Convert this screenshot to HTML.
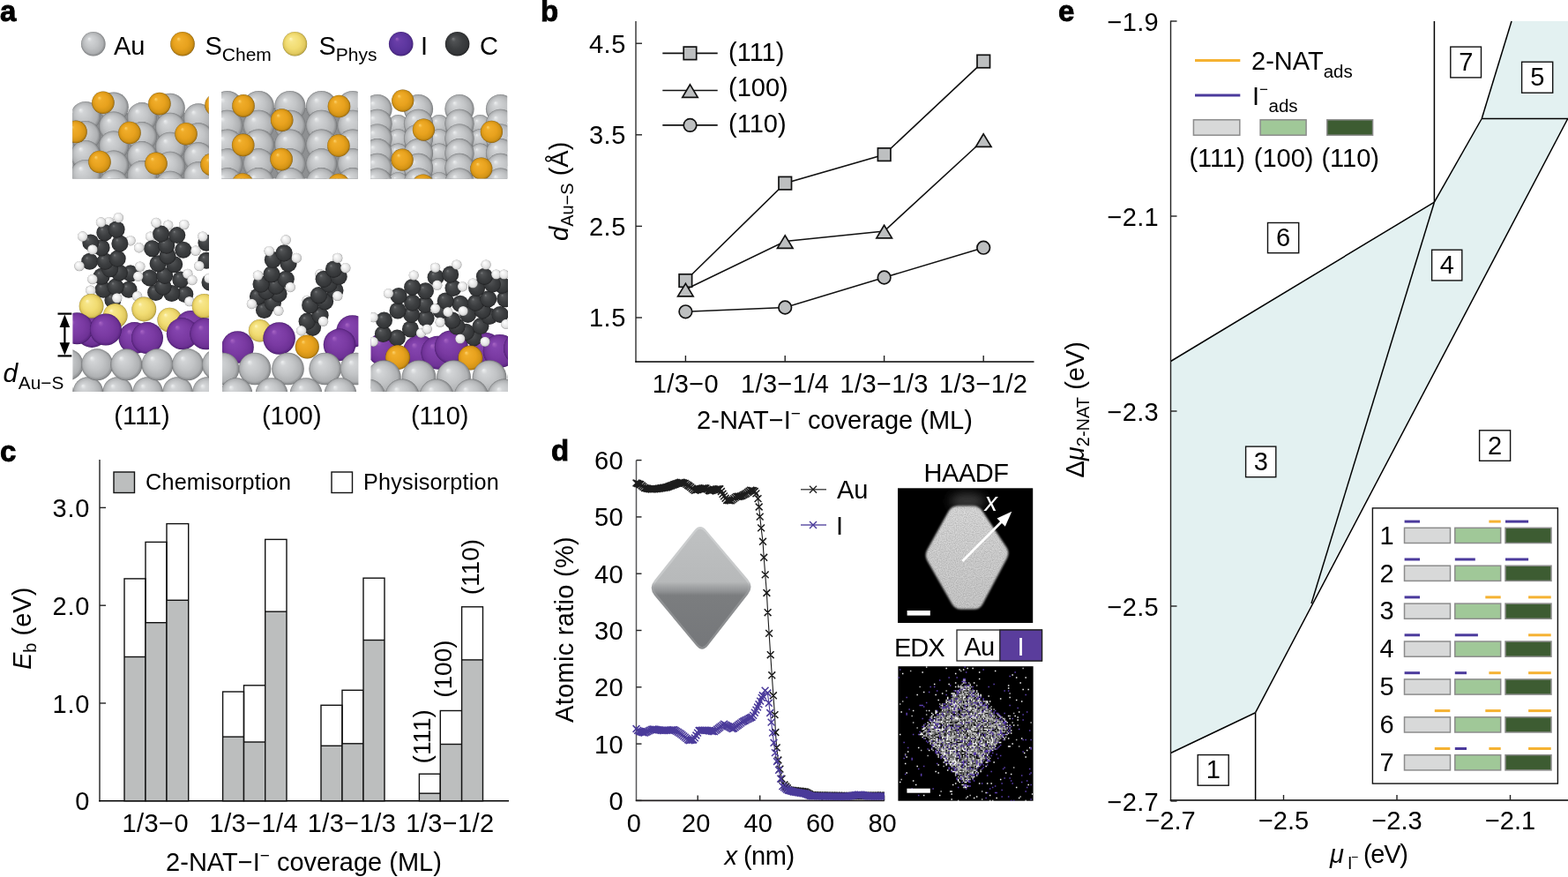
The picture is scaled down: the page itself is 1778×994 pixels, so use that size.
<!DOCTYPE html>
<html><head><meta charset="utf-8"><title>Figure</title>
<style>html,body{margin:0;padding:0;background:#fff;width:1778px;height:994px;overflow:hidden}
svg{display:block} text{font-family:"Liberation Sans", Arial, Helvetica, sans-serif}</style></head>
<body><svg width="1778" height="994" viewBox="0 0 1778 994">
<rect width="1778" height="994" fill="#fff"/>
<defs>
<radialGradient id="gau" cx="0.5" cy="0.5" r="0.5" fx="0.32" fy="0.28"><stop offset="0" stop-color="#eef0f1"/><stop offset="0.18" stop-color="#d2d4d6"/><stop offset="0.55" stop-color="#c2c4c6"/><stop offset="0.85" stop-color="#aeb0b2"/><stop offset="0.96" stop-color="#8c8e90"/><stop offset="1" stop-color="#6f7173"/></radialGradient>
<radialGradient id="gsc" cx="0.5" cy="0.5" r="0.5" fx="0.32" fy="0.28"><stop offset="0" stop-color="#fdd36e"/><stop offset="0.18" stop-color="#f0ad2a"/><stop offset="0.6" stop-color="#e8a21e"/><stop offset="0.86" stop-color="#d49416"/><stop offset="0.96" stop-color="#b07a10"/><stop offset="1" stop-color="#7a540a"/></radialGradient>
<radialGradient id="gsp" cx="0.5" cy="0.5" r="0.5" fx="0.32" fy="0.28"><stop offset="0" stop-color="#fff8c8"/><stop offset="0.18" stop-color="#f7e68a"/><stop offset="0.6" stop-color="#f1dc72"/><stop offset="0.86" stop-color="#e2ca60"/><stop offset="0.96" stop-color="#c4ae48"/><stop offset="1" stop-color="#8e7c2e"/></radialGradient>
<radialGradient id="gi" cx="0.5" cy="0.5" r="0.5" fx="0.32" fy="0.28"><stop offset="0" stop-color="#a865c4"/><stop offset="0.18" stop-color="#8444ae"/><stop offset="0.6" stop-color="#7a3aa2"/><stop offset="0.86" stop-color="#6e3296"/><stop offset="0.96" stop-color="#5c2682"/><stop offset="1" stop-color="#3e1860"/></radialGradient>
<radialGradient id="gil" cx="0.5" cy="0.5" r="0.5" fx="0.32" fy="0.28"><stop offset="0" stop-color="#9a62c0"/><stop offset="0.18" stop-color="#6a3ea8"/><stop offset="0.6" stop-color="#5e37a0"/><stop offset="0.86" stop-color="#573196"/><stop offset="0.96" stop-color="#4a2884"/><stop offset="1" stop-color="#321a60"/></radialGradient>
<radialGradient id="gc" cx="0.5" cy="0.5" r="0.5" fx="0.32" fy="0.28"><stop offset="0" stop-color="#7a7c7e"/><stop offset="0.18" stop-color="#505254"/><stop offset="0.6" stop-color="#3c3e40"/><stop offset="0.86" stop-color="#353739"/><stop offset="0.96" stop-color="#2a2b2d"/><stop offset="1" stop-color="#151617"/></radialGradient>
<radialGradient id="gh" cx="0.5" cy="0.5" r="0.5" fx="0.32" fy="0.28"><stop offset="0" stop-color="#ffffff"/><stop offset="0.3" stop-color="#f6f6f6"/><stop offset="0.7" stop-color="#e6e6e6"/><stop offset="0.9" stop-color="#cfcfcf"/><stop offset="1" stop-color="#8e8e8e"/></radialGradient>
</defs>
<circle cx="105.8" cy="49.7" r="13.8" fill="url(#gau)"/>
<circle cx="207.0" cy="49.7" r="13.8" fill="url(#gsc)"/>
<circle cx="334.4" cy="49.7" r="13.8" fill="url(#gsp)"/>
<circle cx="454.7" cy="49.7" r="13.8" fill="url(#gil)"/>
<circle cx="518.6" cy="49.7" r="13.8" fill="url(#gc)"/>
<text x="129" y="62" font-size="29" letter-spacing="0">Au</text>
<text x="232.5" y="62" font-size="29">S<tspan font-size="21" dy="7">Chem</tspan></text>
<text x="361.5" y="62" font-size="29">S<tspan font-size="21" dy="7">Phys</tspan></text>
<text x="477" y="62" font-size="29">I</text>
<text x="544" y="62" font-size="29">C</text>
<defs>
<clipPath id="cp1"><rect x="82.2" y="95" width="154.6" height="107.6"/></clipPath>
<clipPath id="cp2"><rect x="251" y="95" width="154.8" height="107.6"/></clipPath>
<clipPath id="cp3"><rect x="420" y="95" width="155.2" height="107.6"/></clipPath>
</defs>
<g clip-path="url(#cp1)">
<rect x="82" y="128" width="155" height="75" fill="#8e9092"/>
<circle cx="129.0" cy="121.3" r="16.8" fill="url(#gau)"/>
<circle cx="193.0" cy="122.5" r="16.8" fill="url(#gau)"/>
<circle cx="97.0" cy="131.7" r="16.8" fill="url(#gau)"/>
<circle cx="161.0" cy="132.9" r="16.8" fill="url(#gau)"/>
<circle cx="225.0" cy="134.1" r="16.8" fill="url(#gau)"/>
<circle cx="129.0" cy="143.3" r="16.8" fill="url(#gau)"/>
<circle cx="193.0" cy="144.5" r="16.8" fill="url(#gau)"/>
<circle cx="97.0" cy="153.7" r="16.8" fill="url(#gau)"/>
<circle cx="161.0" cy="154.9" r="16.8" fill="url(#gau)"/>
<circle cx="225.0" cy="156.1" r="16.8" fill="url(#gau)"/>
<circle cx="129.0" cy="165.3" r="16.8" fill="url(#gau)"/>
<circle cx="193.0" cy="166.5" r="16.8" fill="url(#gau)"/>
<circle cx="97.0" cy="175.7" r="16.8" fill="url(#gau)"/>
<circle cx="161.0" cy="176.9" r="16.8" fill="url(#gau)"/>
<circle cx="225.0" cy="178.1" r="16.8" fill="url(#gau)"/>
<circle cx="129.0" cy="187.3" r="16.8" fill="url(#gau)"/>
<circle cx="193.0" cy="188.5" r="16.8" fill="url(#gau)"/>
<circle cx="97.0" cy="197.7" r="16.8" fill="url(#gau)"/>
<circle cx="161.0" cy="198.9" r="16.8" fill="url(#gau)"/>
<circle cx="225.0" cy="200.1" r="16.8" fill="url(#gau)"/>
<circle cx="129.0" cy="209.3" r="16.8" fill="url(#gau)"/>
<circle cx="193.0" cy="210.5" r="16.8" fill="url(#gau)"/>
<circle cx="97.0" cy="219.7" r="16.8" fill="url(#gau)"/>
<circle cx="161.0" cy="220.9" r="16.8" fill="url(#gau)"/>
<circle cx="225.0" cy="222.1" r="16.8" fill="url(#gau)"/>
<circle cx="116.9" cy="116.2" r="12.8" fill="url(#gsc)"/>
<circle cx="180.9" cy="117.6" r="12.8" fill="url(#gsc)"/>
<circle cx="245.0" cy="119.0" r="12.8" fill="url(#gsc)"/>
<circle cx="86.0" cy="149.4" r="12.8" fill="url(#gsc)"/>
<circle cx="147.0" cy="150.5" r="12.8" fill="url(#gsc)"/>
<circle cx="211.0" cy="151.7" r="12.8" fill="url(#gsc)"/>
<circle cx="113.0" cy="183.5" r="12.8" fill="url(#gsc)"/>
<circle cx="177.0" cy="185.3" r="12.8" fill="url(#gsc)"/>
<circle cx="240.0" cy="186.5" r="12.8" fill="url(#gsc)"/>
<circle cx="82.0" cy="218.0" r="12.8" fill="url(#gsc)"/>
<circle cx="146.0" cy="219.0" r="12.8" fill="url(#gsc)"/>
</g>
<g clip-path="url(#cp2)">
<rect x="251" y="122" width="155" height="81" fill="#8e9092"/>
<circle cx="222.1" cy="120.5" r="17.6" fill="url(#gau)"/>
<circle cx="257.7" cy="120.5" r="17.6" fill="url(#gau)"/>
<circle cx="293.3" cy="120.5" r="17.6" fill="url(#gau)"/>
<circle cx="328.9" cy="120.5" r="17.6" fill="url(#gau)"/>
<circle cx="364.5" cy="120.5" r="17.6" fill="url(#gau)"/>
<circle cx="400.1" cy="120.5" r="17.6" fill="url(#gau)"/>
<circle cx="435.7" cy="120.5" r="17.6" fill="url(#gau)"/>
<circle cx="222.1" cy="142.3" r="17.6" fill="url(#gau)"/>
<circle cx="257.7" cy="142.3" r="17.6" fill="url(#gau)"/>
<circle cx="293.3" cy="142.3" r="17.6" fill="url(#gau)"/>
<circle cx="328.9" cy="142.3" r="17.6" fill="url(#gau)"/>
<circle cx="364.5" cy="142.3" r="17.6" fill="url(#gau)"/>
<circle cx="400.1" cy="142.3" r="17.6" fill="url(#gau)"/>
<circle cx="435.7" cy="142.3" r="17.6" fill="url(#gau)"/>
<circle cx="222.1" cy="164.1" r="17.6" fill="url(#gau)"/>
<circle cx="257.7" cy="164.1" r="17.6" fill="url(#gau)"/>
<circle cx="293.3" cy="164.1" r="17.6" fill="url(#gau)"/>
<circle cx="328.9" cy="164.1" r="17.6" fill="url(#gau)"/>
<circle cx="364.5" cy="164.1" r="17.6" fill="url(#gau)"/>
<circle cx="400.1" cy="164.1" r="17.6" fill="url(#gau)"/>
<circle cx="435.7" cy="164.1" r="17.6" fill="url(#gau)"/>
<circle cx="222.1" cy="185.9" r="17.6" fill="url(#gau)"/>
<circle cx="257.7" cy="185.9" r="17.6" fill="url(#gau)"/>
<circle cx="293.3" cy="185.9" r="17.6" fill="url(#gau)"/>
<circle cx="328.9" cy="185.9" r="17.6" fill="url(#gau)"/>
<circle cx="364.5" cy="185.9" r="17.6" fill="url(#gau)"/>
<circle cx="400.1" cy="185.9" r="17.6" fill="url(#gau)"/>
<circle cx="435.7" cy="185.9" r="17.6" fill="url(#gau)"/>
<circle cx="222.1" cy="207.7" r="17.6" fill="url(#gau)"/>
<circle cx="257.7" cy="207.7" r="17.6" fill="url(#gau)"/>
<circle cx="293.3" cy="207.7" r="17.6" fill="url(#gau)"/>
<circle cx="328.9" cy="207.7" r="17.6" fill="url(#gau)"/>
<circle cx="364.5" cy="207.7" r="17.6" fill="url(#gau)"/>
<circle cx="400.1" cy="207.7" r="17.6" fill="url(#gau)"/>
<circle cx="435.7" cy="207.7" r="17.6" fill="url(#gau)"/>
<circle cx="222.1" cy="229.5" r="17.6" fill="url(#gau)"/>
<circle cx="257.7" cy="229.5" r="17.6" fill="url(#gau)"/>
<circle cx="293.3" cy="229.5" r="17.6" fill="url(#gau)"/>
<circle cx="328.9" cy="229.5" r="17.6" fill="url(#gau)"/>
<circle cx="364.5" cy="229.5" r="17.6" fill="url(#gau)"/>
<circle cx="400.1" cy="229.5" r="17.6" fill="url(#gau)"/>
<circle cx="435.7" cy="229.5" r="17.6" fill="url(#gau)"/>
<circle cx="276.0" cy="119.9" r="12.8" fill="url(#gsc)"/>
<circle cx="319.7" cy="136.1" r="12.8" fill="url(#gsc)"/>
<circle cx="384.5" cy="120.5" r="12.8" fill="url(#gsc)"/>
<circle cx="275.7" cy="164.4" r="12.8" fill="url(#gsc)"/>
<circle cx="319.1" cy="180.6" r="12.8" fill="url(#gsc)"/>
<circle cx="383.9" cy="165.0" r="12.8" fill="url(#gsc)"/>
<circle cx="275.1" cy="209.0" r="12.8" fill="url(#gsc)"/>
<circle cx="383.9" cy="209.5" r="12.8" fill="url(#gsc)"/>
<circle cx="319.0" cy="225.0" r="12.8" fill="url(#gsc)"/>
</g>
<g clip-path="url(#cp3)">
<rect x="420" y="140" width="156" height="63" fill="#8e9092"/>
<circle cx="405.0" cy="141.5" r="11.5" fill="url(#gau)"/>
<circle cx="451.5" cy="141.5" r="11.5" fill="url(#gau)"/>
<circle cx="498.0" cy="141.5" r="11.5" fill="url(#gau)"/>
<circle cx="544.5" cy="141.5" r="11.5" fill="url(#gau)"/>
<circle cx="591.0" cy="141.5" r="11.5" fill="url(#gau)"/>
<circle cx="405.0" cy="157.8" r="11.5" fill="url(#gau)"/>
<circle cx="451.5" cy="157.8" r="11.5" fill="url(#gau)"/>
<circle cx="498.0" cy="157.8" r="11.5" fill="url(#gau)"/>
<circle cx="544.5" cy="157.8" r="11.5" fill="url(#gau)"/>
<circle cx="591.0" cy="157.8" r="11.5" fill="url(#gau)"/>
<circle cx="405.0" cy="174.1" r="11.5" fill="url(#gau)"/>
<circle cx="451.5" cy="174.1" r="11.5" fill="url(#gau)"/>
<circle cx="498.0" cy="174.1" r="11.5" fill="url(#gau)"/>
<circle cx="544.5" cy="174.1" r="11.5" fill="url(#gau)"/>
<circle cx="591.0" cy="174.1" r="11.5" fill="url(#gau)"/>
<circle cx="405.0" cy="190.4" r="11.5" fill="url(#gau)"/>
<circle cx="451.5" cy="190.4" r="11.5" fill="url(#gau)"/>
<circle cx="498.0" cy="190.4" r="11.5" fill="url(#gau)"/>
<circle cx="544.5" cy="190.4" r="11.5" fill="url(#gau)"/>
<circle cx="591.0" cy="190.4" r="11.5" fill="url(#gau)"/>
<circle cx="405.0" cy="206.7" r="11.5" fill="url(#gau)"/>
<circle cx="451.5" cy="206.7" r="11.5" fill="url(#gau)"/>
<circle cx="498.0" cy="206.7" r="11.5" fill="url(#gau)"/>
<circle cx="544.5" cy="206.7" r="11.5" fill="url(#gau)"/>
<circle cx="591.0" cy="206.7" r="11.5" fill="url(#gau)"/>
<circle cx="405.0" cy="223.0" r="11.5" fill="url(#gau)"/>
<circle cx="451.5" cy="223.0" r="11.5" fill="url(#gau)"/>
<circle cx="498.0" cy="223.0" r="11.5" fill="url(#gau)"/>
<circle cx="544.5" cy="223.0" r="11.5" fill="url(#gau)"/>
<circle cx="591.0" cy="223.0" r="11.5" fill="url(#gau)"/>
<circle cx="405.0" cy="239.3" r="11.5" fill="url(#gau)"/>
<circle cx="451.5" cy="239.3" r="11.5" fill="url(#gau)"/>
<circle cx="498.0" cy="239.3" r="11.5" fill="url(#gau)"/>
<circle cx="544.5" cy="239.3" r="11.5" fill="url(#gau)"/>
<circle cx="591.0" cy="239.3" r="11.5" fill="url(#gau)"/>
<circle cx="381.5" cy="123.6" r="16.6" fill="url(#gau)"/>
<circle cx="428.0" cy="123.6" r="16.6" fill="url(#gau)"/>
<circle cx="474.5" cy="123.6" r="16.6" fill="url(#gau)"/>
<circle cx="521.0" cy="123.6" r="16.6" fill="url(#gau)"/>
<circle cx="567.5" cy="123.6" r="16.6" fill="url(#gau)"/>
<circle cx="381.5" cy="140.3" r="16.6" fill="url(#gau)"/>
<circle cx="428.0" cy="140.3" r="16.6" fill="url(#gau)"/>
<circle cx="474.5" cy="140.3" r="16.6" fill="url(#gau)"/>
<circle cx="521.0" cy="140.3" r="16.6" fill="url(#gau)"/>
<circle cx="567.5" cy="140.3" r="16.6" fill="url(#gau)"/>
<circle cx="381.5" cy="157.0" r="16.6" fill="url(#gau)"/>
<circle cx="428.0" cy="157.0" r="16.6" fill="url(#gau)"/>
<circle cx="474.5" cy="157.0" r="16.6" fill="url(#gau)"/>
<circle cx="521.0" cy="157.0" r="16.6" fill="url(#gau)"/>
<circle cx="567.5" cy="157.0" r="16.6" fill="url(#gau)"/>
<circle cx="381.5" cy="173.7" r="16.6" fill="url(#gau)"/>
<circle cx="428.0" cy="173.7" r="16.6" fill="url(#gau)"/>
<circle cx="474.5" cy="173.7" r="16.6" fill="url(#gau)"/>
<circle cx="521.0" cy="173.7" r="16.6" fill="url(#gau)"/>
<circle cx="567.5" cy="173.7" r="16.6" fill="url(#gau)"/>
<circle cx="381.5" cy="190.4" r="16.6" fill="url(#gau)"/>
<circle cx="428.0" cy="190.4" r="16.6" fill="url(#gau)"/>
<circle cx="474.5" cy="190.4" r="16.6" fill="url(#gau)"/>
<circle cx="521.0" cy="190.4" r="16.6" fill="url(#gau)"/>
<circle cx="567.5" cy="190.4" r="16.6" fill="url(#gau)"/>
<circle cx="381.5" cy="207.1" r="16.6" fill="url(#gau)"/>
<circle cx="428.0" cy="207.1" r="16.6" fill="url(#gau)"/>
<circle cx="474.5" cy="207.1" r="16.6" fill="url(#gau)"/>
<circle cx="521.0" cy="207.1" r="16.6" fill="url(#gau)"/>
<circle cx="567.5" cy="207.1" r="16.6" fill="url(#gau)"/>
<circle cx="381.5" cy="223.8" r="16.6" fill="url(#gau)"/>
<circle cx="428.0" cy="223.8" r="16.6" fill="url(#gau)"/>
<circle cx="474.5" cy="223.8" r="16.6" fill="url(#gau)"/>
<circle cx="521.0" cy="223.8" r="16.6" fill="url(#gau)"/>
<circle cx="567.5" cy="223.8" r="16.6" fill="url(#gau)"/>
<circle cx="456.7" cy="114.1" r="12.6" fill="url(#gsc)"/>
<circle cx="480.4" cy="147.1" r="12.6" fill="url(#gsc)"/>
<circle cx="557.4" cy="149.4" r="12.6" fill="url(#gsc)"/>
<circle cx="456.1" cy="181.2" r="12.6" fill="url(#gsc)"/>
<circle cx="545.8" cy="191.1" r="12.6" fill="url(#gsc)"/>
<circle cx="479.8" cy="210.0" r="12.6" fill="url(#gsc)"/>
</g>
<defs>
<clipPath id="cl1"><rect x="82.4" y="230" width="154.6" height="214"/></clipPath>
<clipPath id="cl2"><rect x="252" y="230" width="154.4" height="214"/></clipPath>
<clipPath id="cl3"><rect x="420.5" y="230" width="155.5" height="214"/></clipPath>
</defs>
<g clip-path="url(#cl1)">
<circle cx="123.6" cy="251.5" r="5.6" fill="url(#gh)"/>
<circle cx="148.1" cy="272.8" r="5.6" fill="url(#gh)"/>
<circle cx="170.6" cy="268.1" r="5.6" fill="url(#gh)"/>
<circle cx="190.7" cy="255.1" r="5.6" fill="url(#gh)"/>
<circle cx="147.1" cy="305.9" r="5.6" fill="url(#gh)"/>
<circle cx="127.9" cy="340.0" r="9.5" fill="url(#gc)"/>
<circle cx="209.8" cy="333.5" r="9.5" fill="url(#gc)"/>
<circle cx="194.7" cy="332.5" r="9.5" fill="url(#gc)"/>
<circle cx="176.6" cy="331.5" r="9.5" fill="url(#gc)"/>
<circle cx="117.2" cy="328.3" r="9.5" fill="url(#gc)"/>
<circle cx="146.0" cy="328.3" r="9.5" fill="url(#gc)"/>
<circle cx="131.1" cy="325.1" r="9.5" fill="url(#gc)"/>
<circle cx="185.0" cy="325.0" r="9.5" fill="url(#gc)"/>
<circle cx="238.0" cy="320.0" r="9.5" fill="url(#gc)"/>
<circle cx="204.8" cy="317.0" r="9.5" fill="url(#gc)"/>
<circle cx="169.6" cy="314.9" r="9.5" fill="url(#gc)"/>
<circle cx="115.1" cy="313.3" r="9.5" fill="url(#gc)"/>
<circle cx="186.7" cy="312.4" r="9.5" fill="url(#gc)"/>
<circle cx="148.1" cy="310.1" r="9.5" fill="url(#gc)"/>
<circle cx="135.3" cy="309.1" r="9.5" fill="url(#gc)"/>
<circle cx="124.7" cy="304.8" r="9.5" fill="url(#gc)"/>
<circle cx="197.7" cy="299.8" r="9.5" fill="url(#gc)"/>
<circle cx="179.1" cy="298.8" r="9.5" fill="url(#gc)"/>
<circle cx="101.7" cy="296.3" r="9.5" fill="url(#gc)"/>
<circle cx="119.3" cy="296.3" r="9.5" fill="url(#gc)"/>
<circle cx="234.0" cy="295.3" r="9.5" fill="url(#gc)"/>
<circle cx="133.2" cy="293.1" r="9.5" fill="url(#gc)"/>
<circle cx="190.0" cy="290.0" r="9.5" fill="url(#gc)"/>
<circle cx="207.8" cy="283.2" r="9.5" fill="url(#gc)"/>
<circle cx="172.6" cy="281.7" r="9.5" fill="url(#gc)"/>
<circle cx="115.1" cy="280.8" r="9.5" fill="url(#gc)"/>
<circle cx="188.7" cy="278.2" r="9.5" fill="url(#gc)"/>
<circle cx="135.9" cy="276.0" r="9.5" fill="url(#gc)"/>
<circle cx="234.0" cy="275.2" r="9.5" fill="url(#gc)"/>
<circle cx="102.8" cy="274.9" r="9.5" fill="url(#gc)"/>
<circle cx="200.8" cy="266.6" r="9.5" fill="url(#gc)"/>
<circle cx="182.6" cy="265.1" r="9.5" fill="url(#gc)"/>
<circle cx="118.8" cy="263.7" r="9.5" fill="url(#gc)"/>
<circle cx="132.1" cy="260.0" r="9.5" fill="url(#gc)"/>
<circle cx="114.5" cy="252.0" r="5.7" fill="url(#gh)"/>
<circle cx="134.3" cy="246.7" r="5.7" fill="url(#gh)"/>
<circle cx="93.7" cy="268.0" r="5.7" fill="url(#gh)"/>
<circle cx="104.9" cy="282.9" r="5.7" fill="url(#gh)"/>
<circle cx="90.0" cy="301.6" r="5.7" fill="url(#gh)"/>
<circle cx="104.9" cy="316.5" r="5.7" fill="url(#gh)"/>
<circle cx="102.8" cy="329.3" r="5.7" fill="url(#gh)"/>
<circle cx="132.7" cy="337.9" r="5.7" fill="url(#gh)"/>
<circle cx="157.7" cy="280.8" r="5.7" fill="url(#gh)"/>
<circle cx="156.7" cy="313.3" r="5.7" fill="url(#gh)"/>
<circle cx="158.8" cy="302.1" r="5.7" fill="url(#gh)"/>
<circle cx="155.6" cy="335.7" r="5.7" fill="url(#gh)"/>
<circle cx="177.1" cy="252.5" r="5.7" fill="url(#gh)"/>
<circle cx="208.8" cy="254.6" r="5.7" fill="url(#gh)"/>
<circle cx="221.9" cy="284.2" r="5.7" fill="url(#gh)"/>
<circle cx="212.8" cy="310.4" r="5.7" fill="url(#gh)"/>
<circle cx="217.9" cy="317.5" r="5.7" fill="url(#gh)"/>
<circle cx="214.8" cy="341.6" r="5.7" fill="url(#gh)"/>
<circle cx="229.9" cy="268.1" r="5.7" fill="url(#gh)"/>
<circle cx="225.9" cy="301.4" r="5.7" fill="url(#gh)"/>
<circle cx="237.0" cy="315.4" r="5.7" fill="url(#gh)"/>
<circle cx="130.7" cy="357.8" r="13.9" fill="url(#gsp)"/>
<circle cx="192.3" cy="362.6" r="13.9" fill="url(#gsp)"/>
<circle cx="104.2" cy="375.9" r="18" fill="url(#gi)"/>
<circle cx="152.5" cy="383.1" r="18" fill="url(#gi)"/>
<circle cx="216.5" cy="369.9" r="18" fill="url(#gi)"/>
<circle cx="103.6" cy="346.9" r="13.9" fill="url(#gsp)"/>
<circle cx="163.3" cy="350.5" r="13.9" fill="url(#gsp)"/>
<circle cx="231.6" cy="346.9" r="13.9" fill="url(#gsp)"/>
<circle cx="87.2" cy="372.3" r="18" fill="url(#gi)"/>
<circle cx="119.9" cy="373.5" r="18" fill="url(#gi)"/>
<circle cx="167.0" cy="383.1" r="18" fill="url(#gi)"/>
<circle cx="206.8" cy="378.3" r="18" fill="url(#gi)"/>
<circle cx="233.4" cy="378.3" r="18" fill="url(#gi)"/>
<circle cx="66.0" cy="444.5" r="17.2" fill="url(#gau)"/>
<circle cx="99.9" cy="444.5" r="17.2" fill="url(#gau)"/>
<circle cx="133.5" cy="444.5" r="17.2" fill="url(#gau)"/>
<circle cx="167.6" cy="444.5" r="17.2" fill="url(#gau)"/>
<circle cx="201.5" cy="444.5" r="17.2" fill="url(#gau)"/>
<circle cx="235.4" cy="444.5" r="17.2" fill="url(#gau)"/>
<circle cx="76.5" cy="413.3" r="18" fill="url(#gau)"/>
<circle cx="110.2" cy="413.3" r="18" fill="url(#gau)"/>
<circle cx="143.4" cy="413.3" r="18" fill="url(#gau)"/>
<circle cx="178.5" cy="413.3" r="18" fill="url(#gau)"/>
<circle cx="213.0" cy="413.3" r="18" fill="url(#gau)"/>
<circle cx="247.0" cy="413.3" r="18" fill="url(#gau)"/>
</g>
<g clip-path="url(#cl2)">
<circle cx="363.0" cy="310.7" r="5.6" fill="url(#gh)"/>
<circle cx="348.2" cy="340.3" r="5.6" fill="url(#gh)"/>
<circle cx="354.5" cy="371.3" r="9.6" fill="url(#gc)"/>
<circle cx="348.2" cy="364.2" r="9.6" fill="url(#gc)"/>
<circle cx="363.0" cy="357.2" r="9.6" fill="url(#gc)"/>
<circle cx="299.6" cy="351.5" r="9.6" fill="url(#gc)"/>
<circle cx="351.7" cy="345.9" r="9.6" fill="url(#gc)"/>
<circle cx="309.4" cy="343.1" r="9.6" fill="url(#gc)"/>
<circle cx="368.6" cy="341.7" r="9.6" fill="url(#gc)"/>
<circle cx="292.5" cy="336.1" r="9.6" fill="url(#gc)"/>
<circle cx="361.5" cy="334.6" r="9.6" fill="url(#gc)"/>
<circle cx="316.0" cy="333.0" r="9.6" fill="url(#gc)"/>
<circle cx="302.0" cy="330.0" r="9.6" fill="url(#gc)"/>
<circle cx="379.9" cy="329.0" r="9.6" fill="url(#gc)"/>
<circle cx="313.0" cy="324.1" r="9.6" fill="url(#gc)"/>
<circle cx="296.1" cy="322.0" r="9.6" fill="url(#gc)"/>
<circle cx="373.0" cy="322.0" r="9.6" fill="url(#gc)"/>
<circle cx="324.2" cy="316.3" r="9.6" fill="url(#gc)"/>
<circle cx="367.2" cy="316.3" r="9.6" fill="url(#gc)"/>
<circle cx="384.1" cy="313.5" r="9.6" fill="url(#gc)"/>
<circle cx="308.0" cy="310.7" r="9.6" fill="url(#gc)"/>
<circle cx="378.5" cy="305.1" r="9.6" fill="url(#gc)"/>
<circle cx="327.0" cy="298.7" r="9.6" fill="url(#gc)"/>
<circle cx="309.4" cy="294.5" r="9.6" fill="url(#gc)"/>
<circle cx="322.1" cy="286.8" r="9.6" fill="url(#gc)"/>
<circle cx="324.2" cy="272.0" r="5.7" fill="url(#gh)"/>
<circle cx="305.2" cy="284.6" r="5.7" fill="url(#gh)"/>
<circle cx="336.2" cy="292.4" r="5.7" fill="url(#gh)"/>
<circle cx="292.5" cy="312.1" r="5.7" fill="url(#gh)"/>
<circle cx="329.2" cy="325.5" r="5.7" fill="url(#gh)"/>
<circle cx="285.5" cy="344.5" r="5.7" fill="url(#gh)"/>
<circle cx="315.8" cy="352.3" r="5.7" fill="url(#gh)"/>
<circle cx="382.7" cy="292.4" r="5.7" fill="url(#gh)"/>
<circle cx="391.8" cy="303.7" r="5.7" fill="url(#gh)"/>
<circle cx="382.7" cy="335.4" r="5.7" fill="url(#gh)"/>
<circle cx="366.5" cy="364.2" r="5.7" fill="url(#gh)"/>
<circle cx="341.8" cy="374.8" r="5.7" fill="url(#gh)"/>
<circle cx="294.6" cy="374.8" r="12.8" fill="url(#gsp)"/>
<circle cx="399.6" cy="375.5" r="18.3" fill="url(#gi)"/>
<circle cx="269.5" cy="393.5" r="18.3" fill="url(#gi)"/>
<circle cx="316.6" cy="383.5" r="18.3" fill="url(#gi)"/>
<circle cx="385.0" cy="390.8" r="18.3" fill="url(#gi)"/>
<circle cx="348.3" cy="393.0" r="13.6" fill="url(#gsc)"/>
<circle cx="253.0" cy="418.0" r="18.3" fill="url(#gau)"/>
<circle cx="289.0" cy="418.0" r="18.3" fill="url(#gau)"/>
<circle cx="326.5" cy="418.0" r="18.3" fill="url(#gau)"/>
<circle cx="368.7" cy="418.0" r="18.3" fill="url(#gau)"/>
<circle cx="404.0" cy="418.0" r="18.3" fill="url(#gau)"/>
<circle cx="440.0" cy="418.0" r="18.3" fill="url(#gau)"/>
<circle cx="228.0" cy="446.5" r="18.3" fill="url(#gau)"/>
<circle cx="268.0" cy="446.5" r="18.3" fill="url(#gau)"/>
<circle cx="308.0" cy="446.5" r="18.3" fill="url(#gau)"/>
<circle cx="347.0" cy="446.5" r="18.3" fill="url(#gau)"/>
<circle cx="386.0" cy="446.5" r="18.3" fill="url(#gau)"/>
<circle cx="425.0" cy="446.5" r="18.3" fill="url(#gau)"/>
</g>
<g clip-path="url(#cl3)">
<circle cx="501.0" cy="397.0" r="13.5" fill="url(#gsc)"/>
<circle cx="435.3" cy="396.0" r="19" fill="url(#gi)"/>
<circle cx="475.8" cy="398.8" r="19" fill="url(#gi)"/>
<circle cx="496.5" cy="399.7" r="19" fill="url(#gi)"/>
<circle cx="511.8" cy="393.4" r="19" fill="url(#gi)"/>
<circle cx="550.8" cy="396.0" r="19" fill="url(#gi)"/>
<circle cx="566.7" cy="397.9" r="19" fill="url(#gi)"/>
<circle cx="590.0" cy="395.0" r="19" fill="url(#gi)"/>
<circle cx="450.4" cy="382.9" r="9.5" fill="url(#gc)"/>
<circle cx="537.3" cy="382.9" r="9.5" fill="url(#gc)"/>
<circle cx="434.4" cy="378.5" r="9.5" fill="url(#gc)"/>
<circle cx="528.4" cy="376.3" r="9.5" fill="url(#gc)"/>
<circle cx="465.4" cy="373.0" r="9.5" fill="url(#gc)"/>
<circle cx="518.0" cy="370.0" r="9.5" fill="url(#gc)"/>
<circle cx="545.0" cy="369.6" r="9.5" fill="url(#gc)"/>
<circle cx="435.5" cy="363.0" r="9.5" fill="url(#gc)"/>
<circle cx="512.9" cy="363.0" r="9.5" fill="url(#gc)"/>
<circle cx="483.1" cy="360.8" r="9.5" fill="url(#gc)"/>
<circle cx="555.0" cy="358.6" r="9.5" fill="url(#gc)"/>
<circle cx="466.5" cy="356.4" r="9.5" fill="url(#gc)"/>
<circle cx="530.6" cy="356.4" r="9.5" fill="url(#gc)"/>
<circle cx="567.1" cy="356.4" r="9.5" fill="url(#gc)"/>
<circle cx="451.0" cy="352.0" r="9.5" fill="url(#gc)"/>
<circle cx="500.0" cy="352.0" r="9.5" fill="url(#gc)"/>
<circle cx="547.2" cy="351.9" r="9.5" fill="url(#gc)"/>
<circle cx="482.0" cy="345.3" r="9.5" fill="url(#gc)"/>
<circle cx="521.8" cy="344.2" r="9.5" fill="url(#gc)"/>
<circle cx="539.5" cy="343.1" r="9.5" fill="url(#gc)"/>
<circle cx="467.6" cy="343.1" r="9.5" fill="url(#gc)"/>
<circle cx="505.2" cy="340.9" r="9.5" fill="url(#gc)"/>
<circle cx="553.8" cy="338.7" r="9.5" fill="url(#gc)"/>
<circle cx="572.7" cy="338.7" r="9.5" fill="url(#gc)"/>
<circle cx="452.1" cy="335.4" r="9.5" fill="url(#gc)"/>
<circle cx="482.5" cy="329.8" r="9.5" fill="url(#gc)"/>
<circle cx="514.0" cy="326.5" r="9.5" fill="url(#gc)"/>
<circle cx="540.6" cy="326.5" r="9.5" fill="url(#gc)"/>
<circle cx="467.6" cy="325.4" r="9.5" fill="url(#gc)"/>
<circle cx="569.3" cy="323.2" r="9.5" fill="url(#gc)"/>
<circle cx="558.3" cy="322.1" r="9.5" fill="url(#gc)"/>
<circle cx="494.1" cy="314.3" r="9.5" fill="url(#gc)"/>
<circle cx="549.4" cy="313.2" r="9.5" fill="url(#gc)"/>
<circle cx="510.7" cy="311.0" r="9.5" fill="url(#gc)"/>
<circle cx="469.2" cy="312.1" r="5.6" fill="url(#gh)"/>
<circle cx="440.5" cy="332.6" r="5.6" fill="url(#gh)"/>
<circle cx="423.3" cy="359.7" r="5.6" fill="url(#gh)"/>
<circle cx="423.3" cy="387.3" r="5.6" fill="url(#gh)"/>
<circle cx="493.6" cy="303.3" r="5.6" fill="url(#gh)"/>
<circle cx="517.9" cy="300.0" r="5.6" fill="url(#gh)"/>
<circle cx="495.8" cy="323.2" r="5.6" fill="url(#gh)"/>
<circle cx="524.5" cy="324.8" r="5.6" fill="url(#gh)"/>
<circle cx="536.2" cy="321.0" r="5.6" fill="url(#gh)"/>
<circle cx="551.1" cy="300.0" r="5.6" fill="url(#gh)"/>
<circle cx="562.7" cy="311.0" r="5.6" fill="url(#gh)"/>
<circle cx="571.5" cy="311.0" r="5.6" fill="url(#gh)"/>
<circle cx="493.6" cy="349.7" r="5.6" fill="url(#gh)"/>
<circle cx="507.9" cy="353.6" r="5.6" fill="url(#gh)"/>
<circle cx="525.1" cy="352.5" r="5.6" fill="url(#gh)"/>
<circle cx="499.1" cy="365.2" r="5.6" fill="url(#gh)"/>
<circle cx="477.5" cy="377.4" r="5.6" fill="url(#gh)"/>
<circle cx="484.2" cy="373.0" r="5.6" fill="url(#gh)"/>
<circle cx="521.8" cy="384.0" r="5.6" fill="url(#gh)"/>
<circle cx="550.0" cy="387.3" r="5.6" fill="url(#gh)"/>
<circle cx="573.8" cy="367.4" r="5.6" fill="url(#gh)"/>
<circle cx="451.0" cy="405.1" r="14" fill="url(#gsc)"/>
<circle cx="533.4" cy="405.6" r="14" fill="url(#gsc)"/>
<circle cx="435.3" cy="427.7" r="19.4" fill="url(#gau)"/>
<circle cx="475.0" cy="427.7" r="19.4" fill="url(#gau)"/>
<circle cx="514.5" cy="427.7" r="19.4" fill="url(#gau)"/>
<circle cx="555.0" cy="427.7" r="19.4" fill="url(#gau)"/>
<circle cx="595.0" cy="427.7" r="19.4" fill="url(#gau)"/>
<circle cx="417.5" cy="449.0" r="19.4" fill="url(#gau)"/>
<circle cx="456.0" cy="449.0" r="19.4" fill="url(#gau)"/>
<circle cx="495.0" cy="449.0" r="19.4" fill="url(#gau)"/>
<circle cx="534.3" cy="449.0" r="19.4" fill="url(#gau)"/>
<circle cx="572.0" cy="449.0" r="19.4" fill="url(#gau)"/>
</g>
<g stroke="#000" stroke-width="2.2"><line x1="65.5" y1="355.6" x2="81.3" y2="355.6"/><line x1="65.5" y1="403.4" x2="81.3" y2="403.4"/><line x1="73.4" y1="366" x2="73.4" y2="393"/></g>
<path d="M73.4,356.6 L67.6,370.9 L79.2,370.9 Z M73.4,402.5 L67.6,388.3 L79.2,388.3 Z" fill="#000"/>
<text x="3.5" y="432.6" font-size="30" font-style="italic">d</text>
<text x="20.8" y="440.6" font-size="20.8">Au−S</text>
<text x="161.0" y="480.9" font-size="29" text-anchor="middle" letter-spacing="0">(111)</text>
<text x="330.8" y="480.9" font-size="29" text-anchor="middle" letter-spacing="0">(100)</text>
<text x="498.7" y="480.9" font-size="29" text-anchor="middle" letter-spacing="0">(110)</text>
<text x="0" y="24" font-size="33" font-weight="bold" stroke="#000" stroke-width="0.9">a</text>
<text x="613" y="24" font-size="33" font-weight="bold" stroke="#000" stroke-width="0.9">b</text>
<text x="0" y="523" font-size="33" font-weight="bold" stroke="#000" stroke-width="0.9">c</text>
<text x="625" y="522" font-size="33" font-weight="bold" stroke="#000" stroke-width="0.9">d</text>
<text x="1200" y="24" font-size="33" font-weight="bold" stroke="#000" stroke-width="0.9">e</text>
<line x1="721.0" y1="24.0" x2="721.0" y2="410.5" stroke="#3c3c3c" stroke-width="1.5"/>
<line x1="720.3" y1="410.0" x2="1172.5" y2="410.0" stroke="#000" stroke-width="1.6"/>
<line x1="721.0" y1="49.2" x2="728.0" y2="49.2" stroke="#222" stroke-width="1.4"/>
<text x="710.0" y="59.6" font-size="29" text-anchor="end" letter-spacing="0.6" >4.5</text>
<line x1="721.0" y1="152.8" x2="728.0" y2="152.8" stroke="#222" stroke-width="1.4"/>
<text x="710.0" y="163.2" font-size="29" text-anchor="end" letter-spacing="0.6" >3.5</text>
<line x1="721.0" y1="256.4" x2="728.0" y2="256.4" stroke="#222" stroke-width="1.4"/>
<text x="710.0" y="266.8" font-size="29" text-anchor="end" letter-spacing="0.6" >2.5</text>
<line x1="721.0" y1="360.0" x2="728.0" y2="360.0" stroke="#222" stroke-width="1.4"/>
<text x="710.0" y="370.4" font-size="29" text-anchor="end" letter-spacing="0.6" >1.5</text>
<line x1="777.4" y1="403.0" x2="777.4" y2="410.0" stroke="#222" stroke-width="1.4"/>
<text x="777.4" y="444.8" font-size="29" text-anchor="middle" letter-spacing="0.4" >1/3−0</text>
<line x1="890.2" y1="403.0" x2="890.2" y2="410.0" stroke="#222" stroke-width="1.4"/>
<text x="890.2" y="444.8" font-size="29" text-anchor="middle" letter-spacing="0.4" >1/3−1/4</text>
<line x1="1002.6" y1="403.0" x2="1002.6" y2="410.0" stroke="#222" stroke-width="1.4"/>
<text x="1002.6" y="444.8" font-size="29" text-anchor="middle" letter-spacing="0.4" >1/3−1/3</text>
<line x1="1115.2" y1="403.0" x2="1115.2" y2="410.0" stroke="#222" stroke-width="1.4"/>
<text x="1115.2" y="444.8" font-size="29" text-anchor="middle" letter-spacing="0.4" >1/3−1/2</text>
<text x="946.5" y="486.2" font-size="29" text-anchor="middle" letter-spacing="0" >2-NAT−I<tspan dy="-11" font-size="19">−</tspan><tspan dy="11"> coverage (ML)</tspan></text>
<text transform="translate(644,273) rotate(-90)" font-size="29"><tspan font-style="italic">d</tspan><tspan font-size="20" dy="6">Au−S</tspan><tspan dy="-6"> (Å)</tspan></text>
<polyline fill="none" stroke="#111" stroke-width="1.6" points="777.4,318.0 890.2,207.7 1002.6,175.2 1115.2,69.6"/>
<polyline fill="none" stroke="#111" stroke-width="1.6" points="777.4,328.0 890.2,273.5 1002.6,262.0 1115.2,158.5"/>
<polyline fill="none" stroke="#111" stroke-width="1.6" points="777.4,353.3 890.2,348.5 1002.6,314.5 1115.2,280.7"/>
<rect x="770.1" y="310.8" width="14.5" height="14.5" fill="#bdbfc0" stroke="#111" stroke-width="1.7"/>
<rect x="883.0" y="200.4" width="14.5" height="14.5" fill="#bdbfc0" stroke="#111" stroke-width="1.7"/>
<rect x="995.4" y="167.9" width="14.5" height="14.5" fill="#bdbfc0" stroke="#111" stroke-width="1.7"/>
<rect x="1108.0" y="62.3" width="14.5" height="14.5" fill="#bdbfc0" stroke="#111" stroke-width="1.7"/>
<polygon points="777.4,321.4 768.6,335.9 786.1,335.9" fill="#bdbfc0" stroke="#111" stroke-width="1.7" stroke-linejoin="miter"/>
<polygon points="890.2,266.9 881.5,281.4 899.0,281.4" fill="#bdbfc0" stroke="#111" stroke-width="1.7" stroke-linejoin="miter"/>
<polygon points="1002.6,255.3 993.9,269.9 1011.4,269.9" fill="#bdbfc0" stroke="#111" stroke-width="1.7" stroke-linejoin="miter"/>
<polygon points="1115.2,151.8 1106.5,166.3 1124.0,166.3" fill="#bdbfc0" stroke="#111" stroke-width="1.7" stroke-linejoin="miter"/>
<circle cx="777.4" cy="353.3" r="7.3" fill="#bdbfc0" stroke="#111" stroke-width="1.7"/>
<circle cx="890.2" cy="348.5" r="7.3" fill="#bdbfc0" stroke="#111" stroke-width="1.7"/>
<circle cx="1002.6" cy="314.5" r="7.3" fill="#bdbfc0" stroke="#111" stroke-width="1.7"/>
<circle cx="1115.2" cy="280.7" r="7.3" fill="#bdbfc0" stroke="#111" stroke-width="1.7"/>
<line x1="751.3" y1="60.4" x2="813.7" y2="60.4" stroke="#111" stroke-width="1.6"/>
<rect x="775.2" y="53.1" width="14.5" height="14.5" fill="#bdbfc0" stroke="#111" stroke-width="1.7"/>
<line x1="751.3" y1="102.5" x2="813.7" y2="102.5" stroke="#111" stroke-width="1.6"/>
<polygon points="782.5,95.8 773.8,110.3 791.2,110.3" fill="#bdbfc0" stroke="#111" stroke-width="1.7" stroke-linejoin="miter"/>
<line x1="751.3" y1="141.9" x2="813.7" y2="141.9" stroke="#111" stroke-width="1.6"/>
<circle cx="782.5" cy="141.9" r="7.3" fill="#bdbfc0" stroke="#111" stroke-width="1.7"/>
<text x="826.0" y="68.5" font-size="29" text-anchor="start" letter-spacing="0" >(111)</text>
<text x="826.0" y="109.0" font-size="29" text-anchor="start" letter-spacing="0" >(100)</text>
<text x="826.0" y="149.5" font-size="29" text-anchor="start" letter-spacing="0" >(110)</text>
<line x1="113.0" y1="521.0" x2="113.0" y2="908.5" stroke="#222" stroke-width="1.4"/>
<line x1="112.3" y1="907.8" x2="577.0" y2="907.8" stroke="#000" stroke-width="1.6"/>
<line x1="113.0" y1="575.4" x2="120.0" y2="575.4" stroke="#222" stroke-width="1.4"/>
<text x="102.2" y="585.9" font-size="29" text-anchor="end" letter-spacing="0.8" >3.0</text>
<line x1="113.0" y1="686.2" x2="120.0" y2="686.2" stroke="#222" stroke-width="1.4"/>
<text x="102.2" y="696.7" font-size="29" text-anchor="end" letter-spacing="0.8" >2.0</text>
<line x1="113.0" y1="797.0" x2="120.0" y2="797.0" stroke="#222" stroke-width="1.4"/>
<text x="102.2" y="807.5" font-size="29" text-anchor="end" letter-spacing="0.8" >1.0</text>
<text x="102.2" y="918.3" font-size="29" text-anchor="end" letter-spacing="0.8" >0</text>
<rect x="141.0" y="744.5" width="24.0" height="163.3" fill="#bcbebe"/>
<rect x="141.0" y="655.9" width="24.0" height="251.9" fill="none" stroke="#111" stroke-width="1.4"/>
<line x1="141.0" y1="744.5" x2="165.0" y2="744.5" stroke="#111" stroke-width="1.4"/>
<rect x="165.0" y="705.7" width="24.0" height="202.1" fill="#bcbebe"/>
<rect x="165.0" y="614.4" width="24.0" height="293.4" fill="none" stroke="#111" stroke-width="1.4"/>
<line x1="165.0" y1="705.7" x2="189.0" y2="705.7" stroke="#111" stroke-width="1.4"/>
<rect x="189.0" y="680.3" width="24.7" height="227.5" fill="#bcbebe"/>
<rect x="189.0" y="593.6" width="24.7" height="314.2" fill="none" stroke="#111" stroke-width="1.4"/>
<line x1="189.0" y1="680.3" x2="213.7" y2="680.3" stroke="#111" stroke-width="1.4"/>
<text x="176.3" y="942.5" font-size="29" text-anchor="middle" letter-spacing="0.4" >1/3−0</text>
<rect x="252.6" y="835.1" width="23.9" height="72.7" fill="#bcbebe"/>
<rect x="252.6" y="784.0" width="23.9" height="123.8" fill="none" stroke="#111" stroke-width="1.4"/>
<line x1="252.6" y1="835.1" x2="276.5" y2="835.1" stroke="#111" stroke-width="1.4"/>
<rect x="276.5" y="841.0" width="24.2" height="66.8" fill="#bcbebe"/>
<rect x="276.5" y="776.8" width="24.2" height="131.0" fill="none" stroke="#111" stroke-width="1.4"/>
<line x1="276.5" y1="841.0" x2="300.7" y2="841.0" stroke="#111" stroke-width="1.4"/>
<rect x="300.7" y="693.2" width="24.3" height="214.6" fill="#bcbebe"/>
<rect x="300.7" y="611.4" width="24.3" height="296.4" fill="none" stroke="#111" stroke-width="1.4"/>
<line x1="300.7" y1="693.2" x2="325.0" y2="693.2" stroke="#111" stroke-width="1.4"/>
<text x="287.8" y="942.5" font-size="29" text-anchor="middle" letter-spacing="0.4" >1/3−1/4</text>
<rect x="364.0" y="845.3" width="24.0" height="62.5" fill="#bcbebe"/>
<rect x="364.0" y="799.3" width="24.0" height="108.5" fill="none" stroke="#111" stroke-width="1.4"/>
<line x1="364.0" y1="845.3" x2="388.0" y2="845.3" stroke="#111" stroke-width="1.4"/>
<rect x="388.0" y="842.8" width="24.0" height="65.0" fill="#bcbebe"/>
<rect x="388.0" y="782.3" width="24.0" height="125.5" fill="none" stroke="#111" stroke-width="1.4"/>
<line x1="388.0" y1="842.8" x2="412.0" y2="842.8" stroke="#111" stroke-width="1.4"/>
<rect x="412.0" y="725.5" width="24.0" height="182.3" fill="#bcbebe"/>
<rect x="412.0" y="655.2" width="24.0" height="252.6" fill="none" stroke="#111" stroke-width="1.4"/>
<line x1="412.0" y1="725.5" x2="436.0" y2="725.5" stroke="#111" stroke-width="1.4"/>
<text x="399.0" y="942.5" font-size="29" text-anchor="middle" letter-spacing="0.4" >1/3−1/3</text>
<rect x="475.4" y="899.2" width="23.9" height="8.6" fill="#bcbebe"/>
<rect x="475.4" y="877.2" width="23.9" height="30.6" fill="none" stroke="#111" stroke-width="1.4"/>
<line x1="475.4" y1="899.2" x2="499.3" y2="899.2" stroke="#111" stroke-width="1.4"/>
<rect x="499.3" y="843.5" width="24.3" height="64.3" fill="#bcbebe"/>
<rect x="499.3" y="805.5" width="24.3" height="102.3" fill="none" stroke="#111" stroke-width="1.4"/>
<line x1="499.3" y1="843.5" x2="523.6" y2="843.5" stroke="#111" stroke-width="1.4"/>
<rect x="523.6" y="747.9" width="23.9" height="159.9" fill="#bcbebe"/>
<rect x="523.6" y="687.8" width="23.9" height="220.0" fill="none" stroke="#111" stroke-width="1.4"/>
<line x1="523.6" y1="747.9" x2="547.5" y2="747.9" stroke="#111" stroke-width="1.4"/>
<text x="510.4" y="942.5" font-size="29" text-anchor="middle" letter-spacing="0.4" >1/3−1/2</text>
<text x="344.5" y="986.5" font-size="29" text-anchor="middle" letter-spacing="0" >2-NAT−I<tspan dy="-11" font-size="19">−</tspan><tspan dy="11"> coverage (ML)</tspan></text>
<text transform="translate(35,759) rotate(-90)" font-size="29"><tspan font-style="italic">E</tspan><tspan font-size="20" dy="6">b</tspan><tspan dy="-6"> (eV)</tspan></text>
<rect x="129" y="535" width="23.5" height="23.5" fill="#bcbebe" stroke="#111" stroke-width="1.4"/>
<text x="165.0" y="555.0" font-size="25.2" text-anchor="start" letter-spacing="0.22" >Chemisorption</text>
<rect x="376" y="535" width="23.5" height="23.5" fill="#fff" stroke="#111" stroke-width="1.4"/>
<text x="412.0" y="555.0" font-size="25.2" text-anchor="start" letter-spacing="0.22" >Physisorption</text>
<text transform="translate(488,865.4) rotate(-90)" font-size="28" letter-spacing="0">(111)</text>
<text transform="translate(511.5,790.8) rotate(-90)" font-size="28" letter-spacing="0">(100)</text>
<text transform="translate(543,674.2) rotate(-90)" font-size="28" letter-spacing="0">(110)</text>
<line x1="721.5" y1="521.7" x2="721.5" y2="908.0" stroke="#58585a" stroke-width="1.5"/>
<line x1="720.8" y1="907.4" x2="1002.8" y2="907.4" stroke="#231f20" stroke-width="1.6"/>
<line x1="721.5" y1="521.6" x2="727.5" y2="521.6" stroke="#222" stroke-width="1.4"/>
<text x="707.0" y="532.0" font-size="29" text-anchor="end" letter-spacing="0.4" >60</text>
<line x1="721.5" y1="585.9" x2="727.5" y2="585.9" stroke="#222" stroke-width="1.4"/>
<text x="707.0" y="596.3" font-size="29" text-anchor="end" letter-spacing="0.4" >50</text>
<line x1="721.5" y1="650.2" x2="727.5" y2="650.2" stroke="#222" stroke-width="1.4"/>
<text x="707.0" y="660.6" font-size="29" text-anchor="end" letter-spacing="0.4" >40</text>
<line x1="721.5" y1="714.5" x2="727.5" y2="714.5" stroke="#222" stroke-width="1.4"/>
<text x="707.0" y="724.9" font-size="29" text-anchor="end" letter-spacing="0.4" >30</text>
<line x1="721.5" y1="778.8" x2="727.5" y2="778.8" stroke="#222" stroke-width="1.4"/>
<text x="707.0" y="789.2" font-size="29" text-anchor="end" letter-spacing="0.4" >20</text>
<line x1="721.5" y1="843.1" x2="727.5" y2="843.1" stroke="#222" stroke-width="1.4"/>
<text x="707.0" y="853.5" font-size="29" text-anchor="end" letter-spacing="0.4" >10</text>
<line x1="721.5" y1="907.4" x2="727.5" y2="907.4" stroke="#222" stroke-width="1.4"/>
<text x="707.0" y="917.8" font-size="29" text-anchor="end" letter-spacing="0.4" >0</text>
<text x="718.8" y="942.5" font-size="29" text-anchor="middle" letter-spacing="0" >0</text>
<line x1="791.2" y1="907.4" x2="791.2" y2="901.4" stroke="#222" stroke-width="1.4"/>
<text x="789.2" y="942.5" font-size="29" text-anchor="middle" letter-spacing="0" >20</text>
<line x1="861.7" y1="907.4" x2="861.7" y2="901.4" stroke="#222" stroke-width="1.4"/>
<text x="859.7" y="942.5" font-size="29" text-anchor="middle" letter-spacing="0" >40</text>
<line x1="932.1" y1="907.4" x2="932.1" y2="901.4" stroke="#222" stroke-width="1.4"/>
<text x="930.1" y="942.5" font-size="29" text-anchor="middle" letter-spacing="0" >60</text>
<line x1="1002.6" y1="907.4" x2="1002.6" y2="901.4" stroke="#222" stroke-width="1.4"/>
<text x="1000.6" y="942.5" font-size="29" text-anchor="middle" letter-spacing="0" >80</text>
<text x="861.0" y="980.0" font-size="29" text-anchor="middle" letter-spacing="-0.5" ><tspan font-style="italic">x</tspan> (nm)</text>
<text transform="translate(650,819) rotate(-90)" font-size="29" letter-spacing="0.3">Atomic ratio (%)</text>
<clipPath id="dclip"><rect x="715" y="530" width="288" height="380"/></clipPath>
<g clip-path="url(#dclip)">
<polyline fill="none" stroke="#1c1c1c" stroke-width="1.1" points="721.5,547.5 723.1,548.0 724.7,548.6 726.2,549.2 727.8,550.5 729.4,551.7 731.0,553.0 732.6,553.4 734.1,553.7 735.7,554.1 737.3,554.4 738.9,554.5 740.5,554.4 742.0,554.3 743.6,554.1 745.2,554.0 746.8,553.7 748.4,553.5 749.9,553.2 751.5,553.0 753.1,552.7 754.7,552.5 756.3,552.2 757.8,551.6 759.4,551.0 761.0,550.5 762.6,549.9 764.2,549.3 765.7,548.7 767.3,548.1 768.9,547.6 770.5,547.0 772.1,546.6 773.6,547.0 775.2,547.5 776.8,547.9 778.4,548.9 780.0,550.0 781.5,551.0 783.1,552.1 784.7,553.5 786.3,554.9 787.9,555.9 789.4,555.4 791.0,555.0 792.6,554.5 794.2,554.0 795.8,553.7 797.3,553.4 798.9,553.2 800.5,553.4 802.1,554.6 803.7,555.7 805.2,556.5 806.8,556.0 808.4,555.6 810.0,555.1 811.6,554.6 813.1,554.4 814.7,554.1 816.3,554.3 817.9,557.0 819.5,559.8 821.0,562.4 822.6,564.7 824.2,567.0 825.8,567.1 827.4,567.3 828.9,567.4 830.5,566.4 832.1,565.1 833.7,563.9 835.3,562.9 836.8,562.8 838.4,562.7 840.0,562.4 841.6,561.7 843.2,560.9 844.7,560.1 846.3,559.3 847.9,558.0 849.5,556.8 851.1,555.7 852.6,555.9 854.2,556.1 855.8,557.0 857.4,559.4 859.5,565.1 860.7,574.5 861.7,585.6 863.1,598.4 865.0,613.8 866.2,631.8 867.7,651.4 869.4,672.0 870.6,694.2 872.1,717.9 873.7,742.2 875.3,765.3 876.9,788.3 878.5,810.1 879.4,830.0 880.7,847.4 882.4,861.5 884.4,871.6 886.5,882.7 889.5,889.5 891.2,891.5 892.8,893.3 894.3,895.2 895.9,895.6 897.5,895.8 899.1,896.0 900.7,896.2 902.2,896.3 903.8,896.5 905.4,896.7 907.0,896.8 908.6,897.0 910.1,897.2 911.7,897.4 913.3,897.7 914.9,898.5 916.5,899.4 918.0,900.2 919.6,901.1 921.2,901.3 922.8,901.3 924.4,901.4 925.9,901.4 927.5,901.4 929.1,901.5 930.7,901.5 932.3,901.5 933.8,901.5 935.4,901.6 937.0,901.6 938.6,901.6 940.2,901.7 941.7,901.7 943.3,901.7 944.9,901.7 946.5,901.8 948.1,901.8 949.6,901.8 951.2,901.8 952.8,901.9 954.4,901.9 956.0,901.9 957.5,902.0 959.1,902.0 960.7,902.0 962.3,902.0 963.9,902.0 965.4,901.9 967.0,901.9 968.6,901.9 970.2,901.9 971.8,901.9 973.3,901.8 974.9,901.8 976.5,901.8 978.1,901.8 979.7,901.8 981.2,901.8 982.8,901.7 984.4,901.7 986.0,901.7 987.6,901.7 989.1,901.7 990.7,901.6 992.3,901.6 993.9,901.6 995.5,901.6 997.0,901.6 998.6,901.5 1000.2,901.5 1001.8,901.5"/>
<path d="M717.6,543.6l7.8,7.8M717.6,551.4l7.8,-7.8M719.2,544.1l7.8,7.8M719.2,551.9l7.8,-7.8M720.8,544.7l7.8,7.8M720.8,552.5l7.8,-7.8M722.3,545.3l7.8,7.8M722.3,553.1l7.8,-7.8M723.9,546.6l7.8,7.8M723.9,554.4l7.8,-7.8M725.5,547.8l7.8,7.8M725.5,555.6l7.8,-7.8M727.1,549.1l7.8,7.8M727.1,556.9l7.8,-7.8M728.7,549.5l7.8,7.8M728.7,557.3l7.8,-7.8M730.2,549.8l7.8,7.8M730.2,557.6l7.8,-7.8M731.8,550.2l7.8,7.8M731.8,558.0l7.8,-7.8M733.4,550.5l7.8,7.8M733.4,558.3l7.8,-7.8M735.0,550.6l7.8,7.8M735.0,558.4l7.8,-7.8M736.6,550.5l7.8,7.8M736.6,558.3l7.8,-7.8M738.1,550.4l7.8,7.8M738.1,558.2l7.8,-7.8M739.7,550.2l7.8,7.8M739.7,558.0l7.8,-7.8M741.3,550.1l7.8,7.8M741.3,557.9l7.8,-7.8M742.9,549.8l7.8,7.8M742.9,557.6l7.8,-7.8M744.5,549.6l7.8,7.8M744.5,557.4l7.8,-7.8M746.0,549.3l7.8,7.8M746.0,557.1l7.8,-7.8M747.6,549.1l7.8,7.8M747.6,556.9l7.8,-7.8M749.2,548.8l7.8,7.8M749.2,556.6l7.8,-7.8M750.8,548.6l7.8,7.8M750.8,556.4l7.8,-7.8M752.4,548.3l7.8,7.8M752.4,556.1l7.8,-7.8M753.9,547.7l7.8,7.8M753.9,555.5l7.8,-7.8M755.5,547.1l7.8,7.8M755.5,554.9l7.8,-7.8M757.1,546.6l7.8,7.8M757.1,554.4l7.8,-7.8M758.7,546.0l7.8,7.8M758.7,553.8l7.8,-7.8M760.3,545.4l7.8,7.8M760.3,553.2l7.8,-7.8M761.8,544.8l7.8,7.8M761.8,552.6l7.8,-7.8M763.4,544.2l7.8,7.8M763.4,552.0l7.8,-7.8M765.0,543.7l7.8,7.8M765.0,551.5l7.8,-7.8M766.6,543.1l7.8,7.8M766.6,550.9l7.8,-7.8M768.2,542.7l7.8,7.8M768.2,550.5l7.8,-7.8M769.7,543.1l7.8,7.8M769.7,550.9l7.8,-7.8M771.3,543.6l7.8,7.8M771.3,551.4l7.8,-7.8M772.9,544.0l7.8,7.8M772.9,551.8l7.8,-7.8M774.5,545.0l7.8,7.8M774.5,552.8l7.8,-7.8M776.1,546.1l7.8,7.8M776.1,553.9l7.8,-7.8M777.6,547.1l7.8,7.8M777.6,554.9l7.8,-7.8M779.2,548.2l7.8,7.8M779.2,556.0l7.8,-7.8M780.8,549.6l7.8,7.8M780.8,557.4l7.8,-7.8M782.4,551.0l7.8,7.8M782.4,558.8l7.8,-7.8M784.0,552.0l7.8,7.8M784.0,559.8l7.8,-7.8M785.5,551.5l7.8,7.8M785.5,559.3l7.8,-7.8M787.1,551.1l7.8,7.8M787.1,558.9l7.8,-7.8M788.7,550.6l7.8,7.8M788.7,558.4l7.8,-7.8M790.3,550.1l7.8,7.8M790.3,557.9l7.8,-7.8M791.9,549.8l7.8,7.8M791.9,557.6l7.8,-7.8M793.4,549.5l7.8,7.8M793.4,557.3l7.8,-7.8M795.0,549.3l7.8,7.8M795.0,557.1l7.8,-7.8M796.6,549.5l7.8,7.8M796.6,557.3l7.8,-7.8M798.2,550.7l7.8,7.8M798.2,558.5l7.8,-7.8M799.8,551.8l7.8,7.8M799.8,559.6l7.8,-7.8M801.3,552.6l7.8,7.8M801.3,560.4l7.8,-7.8M802.9,552.1l7.8,7.8M802.9,559.9l7.8,-7.8M804.5,551.7l7.8,7.8M804.5,559.5l7.8,-7.8M806.1,551.2l7.8,7.8M806.1,559.0l7.8,-7.8M807.7,550.7l7.8,7.8M807.7,558.5l7.8,-7.8M809.2,550.5l7.8,7.8M809.2,558.3l7.8,-7.8M810.8,550.2l7.8,7.8M810.8,558.0l7.8,-7.8M812.4,550.4l7.8,7.8M812.4,558.2l7.8,-7.8M814.0,553.1l7.8,7.8M814.0,560.9l7.8,-7.8M815.6,555.9l7.8,7.8M815.6,563.7l7.8,-7.8M817.1,558.5l7.8,7.8M817.1,566.3l7.8,-7.8M818.7,560.8l7.8,7.8M818.7,568.6l7.8,-7.8M820.3,563.1l7.8,7.8M820.3,570.9l7.8,-7.8M821.9,563.2l7.8,7.8M821.9,571.0l7.8,-7.8M823.5,563.4l7.8,7.8M823.5,571.2l7.8,-7.8M825.0,563.5l7.8,7.8M825.0,571.3l7.8,-7.8M826.6,562.5l7.8,7.8M826.6,570.3l7.8,-7.8M828.2,561.2l7.8,7.8M828.2,569.0l7.8,-7.8M829.8,560.0l7.8,7.8M829.8,567.8l7.8,-7.8M831.4,559.0l7.8,7.8M831.4,566.8l7.8,-7.8M832.9,558.9l7.8,7.8M832.9,566.7l7.8,-7.8M834.5,558.8l7.8,7.8M834.5,566.6l7.8,-7.8M836.1,558.5l7.8,7.8M836.1,566.3l7.8,-7.8M837.7,557.8l7.8,7.8M837.7,565.6l7.8,-7.8M839.3,557.0l7.8,7.8M839.3,564.8l7.8,-7.8M840.8,556.2l7.8,7.8M840.8,564.0l7.8,-7.8M842.4,555.4l7.8,7.8M842.4,563.2l7.8,-7.8M844.0,554.1l7.8,7.8M844.0,561.9l7.8,-7.8M845.6,552.9l7.8,7.8M845.6,560.7l7.8,-7.8M847.2,551.8l7.8,7.8M847.2,559.6l7.8,-7.8M848.7,552.0l7.8,7.8M848.7,559.8l7.8,-7.8M850.3,552.2l7.8,7.8M850.3,560.0l7.8,-7.8M851.9,553.1l7.8,7.8M851.9,560.9l7.8,-7.8M853.5,555.5l7.8,7.8M853.5,563.3l7.8,-7.8M855.6,561.2l7.8,7.8M855.6,569.0l7.8,-7.8M856.8,570.6l7.8,7.8M856.8,578.4l7.8,-7.8M857.8,581.7l7.8,7.8M857.8,589.5l7.8,-7.8M859.2,594.5l7.8,7.8M859.2,602.3l7.8,-7.8M861.1,609.9l7.8,7.8M861.1,617.7l7.8,-7.8M862.3,627.9l7.8,7.8M862.3,635.7l7.8,-7.8M863.8,647.5l7.8,7.8M863.8,655.3l7.8,-7.8M865.5,668.1l7.8,7.8M865.5,675.9l7.8,-7.8M866.7,690.3l7.8,7.8M866.7,698.1l7.8,-7.8M868.2,714.0l7.8,7.8M868.2,721.8l7.8,-7.8M869.8,738.3l7.8,7.8M869.8,746.1l7.8,-7.8M871.4,761.4l7.8,7.8M871.4,769.2l7.8,-7.8M873.0,784.4l7.8,7.8M873.0,792.2l7.8,-7.8M874.6,806.2l7.8,7.8M874.6,814.0l7.8,-7.8M875.5,826.1l7.8,7.8M875.5,833.9l7.8,-7.8M876.8,843.5l7.8,7.8M876.8,851.3l7.8,-7.8M878.5,857.6l7.8,7.8M878.5,865.4l7.8,-7.8M880.5,867.7l7.8,7.8M880.5,875.5l7.8,-7.8M882.6,878.8l7.8,7.8M882.6,886.6l7.8,-7.8M885.6,885.6l7.8,7.8M885.6,893.4l7.8,-7.8M887.3,887.6l7.8,7.8M887.3,895.4l7.8,-7.8M888.9,889.4l7.8,7.8M888.9,897.2l7.8,-7.8M890.4,891.3l7.8,7.8M890.4,899.1l7.8,-7.8M892.0,891.7l7.8,7.8M892.0,899.5l7.8,-7.8M893.6,891.9l7.8,7.8M893.6,899.7l7.8,-7.8M895.2,892.1l7.8,7.8M895.2,899.9l7.8,-7.8M896.8,892.3l7.8,7.8M896.8,900.1l7.8,-7.8M898.3,892.4l7.8,7.8M898.3,900.2l7.8,-7.8M899.9,892.6l7.8,7.8M899.9,900.4l7.8,-7.8M901.5,892.8l7.8,7.8M901.5,900.6l7.8,-7.8M903.1,892.9l7.8,7.8M903.1,900.7l7.8,-7.8M904.7,893.1l7.8,7.8M904.7,900.9l7.8,-7.8M906.2,893.3l7.8,7.8M906.2,901.1l7.8,-7.8M907.8,893.5l7.8,7.8M907.8,901.3l7.8,-7.8M909.4,893.8l7.8,7.8M909.4,901.6l7.8,-7.8M911.0,894.6l7.8,7.8M911.0,902.4l7.8,-7.8M912.6,895.5l7.8,7.8M912.6,903.3l7.8,-7.8M914.1,896.3l7.8,7.8M914.1,904.1l7.8,-7.8M915.7,897.2l7.8,7.8M915.7,905.0l7.8,-7.8M917.3,897.4l7.8,7.8M917.3,905.2l7.8,-7.8M918.9,897.4l7.8,7.8M918.9,905.2l7.8,-7.8M920.5,897.5l7.8,7.8M920.5,905.3l7.8,-7.8M922.0,897.5l7.8,7.8M922.0,905.3l7.8,-7.8M923.6,897.5l7.8,7.8M923.6,905.3l7.8,-7.8M925.2,897.6l7.8,7.8M925.2,905.4l7.8,-7.8M926.8,897.6l7.8,7.8M926.8,905.4l7.8,-7.8M928.4,897.6l7.8,7.8M928.4,905.4l7.8,-7.8M929.9,897.6l7.8,7.8M929.9,905.4l7.8,-7.8M931.5,897.7l7.8,7.8M931.5,905.5l7.8,-7.8M933.1,897.7l7.8,7.8M933.1,905.5l7.8,-7.8M934.7,897.7l7.8,7.8M934.7,905.5l7.8,-7.8M936.3,897.8l7.8,7.8M936.3,905.6l7.8,-7.8M937.8,897.8l7.8,7.8M937.8,905.6l7.8,-7.8M939.4,897.8l7.8,7.8M939.4,905.6l7.8,-7.8M941.0,897.8l7.8,7.8M941.0,905.6l7.8,-7.8M942.6,897.9l7.8,7.8M942.6,905.7l7.8,-7.8M944.2,897.9l7.8,7.8M944.2,905.7l7.8,-7.8M945.7,897.9l7.8,7.8M945.7,905.7l7.8,-7.8M947.3,897.9l7.8,7.8M947.3,905.7l7.8,-7.8M948.9,898.0l7.8,7.8M948.9,905.8l7.8,-7.8M950.5,898.0l7.8,7.8M950.5,905.8l7.8,-7.8M952.1,898.0l7.8,7.8M952.1,905.8l7.8,-7.8M953.6,898.1l7.8,7.8M953.6,905.9l7.8,-7.8M955.2,898.1l7.8,7.8M955.2,905.9l7.8,-7.8M956.8,898.1l7.8,7.8M956.8,905.9l7.8,-7.8M958.4,898.1l7.8,7.8M958.4,905.9l7.8,-7.8M960.0,898.1l7.8,7.8M960.0,905.9l7.8,-7.8M961.5,898.0l7.8,7.8M961.5,905.8l7.8,-7.8M963.1,898.0l7.8,7.8M963.1,905.8l7.8,-7.8M964.7,898.0l7.8,7.8M964.7,905.8l7.8,-7.8M966.3,898.0l7.8,7.8M966.3,905.8l7.8,-7.8M967.9,898.0l7.8,7.8M967.9,905.8l7.8,-7.8M969.4,897.9l7.8,7.8M969.4,905.7l7.8,-7.8M971.0,897.9l7.8,7.8M971.0,905.7l7.8,-7.8M972.6,897.9l7.8,7.8M972.6,905.7l7.8,-7.8M974.2,897.9l7.8,7.8M974.2,905.7l7.8,-7.8M975.8,897.9l7.8,7.8M975.8,905.7l7.8,-7.8M977.3,897.9l7.8,7.8M977.3,905.7l7.8,-7.8M978.9,897.8l7.8,7.8M978.9,905.6l7.8,-7.8M980.5,897.8l7.8,7.8M980.5,905.6l7.8,-7.8M982.1,897.8l7.8,7.8M982.1,905.6l7.8,-7.8M983.7,897.8l7.8,7.8M983.7,905.6l7.8,-7.8M985.2,897.8l7.8,7.8M985.2,905.6l7.8,-7.8M986.8,897.7l7.8,7.8M986.8,905.5l7.8,-7.8M988.4,897.7l7.8,7.8M988.4,905.5l7.8,-7.8M990.0,897.7l7.8,7.8M990.0,905.5l7.8,-7.8M991.6,897.7l7.8,7.8M991.6,905.5l7.8,-7.8M993.1,897.7l7.8,7.8M993.1,905.5l7.8,-7.8M994.7,897.6l7.8,7.8M994.7,905.4l7.8,-7.8M996.3,897.6l7.8,7.8M996.3,905.4l7.8,-7.8M997.9,897.6l7.8,7.8M997.9,905.4l7.8,-7.8" stroke="#1c1c1c" stroke-width="1.5" fill="none"/>
<polyline fill="none" stroke="#4a3a9a" stroke-width="1.1" points="721.5,826.0 723.1,827.9 724.7,828.6 726.2,829.2 727.8,829.8 729.4,830.4 731.0,830.6 732.6,829.8 734.1,829.1 735.7,828.4 737.3,827.6 738.9,826.9 740.5,826.4 742.0,826.6 743.6,826.8 745.2,827.1 746.8,827.3 748.4,827.5 749.9,827.8 751.5,828.0 753.1,828.0 754.7,827.9 756.3,827.8 757.8,827.6 759.4,827.5 761.0,827.4 762.6,827.2 764.2,827.1 765.7,828.0 767.3,828.9 768.9,829.9 770.5,830.9 772.1,831.9 773.6,833.1 775.2,834.4 776.8,835.6 778.4,836.9 780.0,838.2 781.5,839.2 783.1,838.9 784.7,838.7 786.3,838.5 787.9,836.4 789.4,833.5 791.0,830.6 792.6,828.0 794.2,827.9 795.8,827.8 797.3,827.7 798.9,827.6 800.5,827.6 802.1,827.9 803.7,828.2 805.2,828.4 806.8,828.7 808.4,829.0 810.0,829.1 811.6,827.9 813.1,826.7 814.7,825.5 816.3,824.3 817.9,823.1 819.5,821.9 821.0,820.7 822.6,821.6 824.2,822.5 825.8,823.3 827.4,824.2 828.9,825.1 830.5,826.0 832.1,825.5 833.7,824.3 835.3,823.1 836.8,822.0 838.4,820.8 840.0,819.6 841.6,818.4 843.2,817.5 844.7,816.7 846.3,815.9 847.9,815.1 849.5,814.3 851.1,813.5 852.6,812.7 854.2,810.9 855.8,807.7 857.4,804.6 859.0,801.5 860.5,798.3 862.1,794.6 863.7,790.9 864.8,788.3 867.6,782.7 870.4,785.5 871.8,796.8 873.2,808.0 874.6,818.6 876.1,830.6 877.5,841.8 878.9,853.1 881.0,863.0 883.1,872.8 885.2,882.7 887.3,891.1 889.0,892.4 890.6,893.6 892.1,894.8 893.7,895.6 895.3,896.1 896.9,896.6 898.5,897.0 900.0,897.5 901.6,897.7 903.2,898.0 904.8,898.2 906.4,898.5 907.9,898.7 909.5,899.0 911.1,899.2 912.7,899.5 914.3,900.0 915.8,900.6 917.4,901.3 919.0,901.9 920.6,902.3 922.2,902.3 923.7,902.3 925.3,902.4 926.9,902.4 928.5,902.4 930.1,902.4 931.6,902.4 933.2,902.5 934.8,902.5 936.4,902.5 938.0,902.5 939.5,902.5 941.1,902.6 942.7,902.6 944.3,902.6 945.9,902.6 947.4,902.6 949.0,902.7 950.6,902.7 952.2,902.7 953.8,902.7 955.3,902.7 956.9,902.8 958.5,902.8 960.1,902.8 961.7,902.5 963.2,902.3 964.8,902.1 966.4,901.8 968.0,901.6 969.6,901.3 971.1,901.1 972.7,900.8 974.3,900.6 975.9,900.7 977.5,901.0 979.0,901.3 980.6,901.6 982.2,901.9 983.8,902.3 985.4,902.5 986.9,902.5 988.5,902.5 990.1,902.5 991.7,902.5 993.3,902.5 994.8,902.5 996.4,902.5 998.0,902.5 999.6,902.5 1001.2,902.5 1002.7,902.5"/>
<path d="M717.6,822.1l7.8,7.8M717.6,829.9l7.8,-7.8M719.2,824.0l7.8,7.8M719.2,831.8l7.8,-7.8M720.8,824.7l7.8,7.8M720.8,832.5l7.8,-7.8M722.3,825.3l7.8,7.8M722.3,833.1l7.8,-7.8M723.9,825.9l7.8,7.8M723.9,833.7l7.8,-7.8M725.5,826.5l7.8,7.8M725.5,834.3l7.8,-7.8M727.1,826.7l7.8,7.8M727.1,834.5l7.8,-7.8M728.7,825.9l7.8,7.8M728.7,833.7l7.8,-7.8M730.2,825.2l7.8,7.8M730.2,833.0l7.8,-7.8M731.8,824.5l7.8,7.8M731.8,832.3l7.8,-7.8M733.4,823.7l7.8,7.8M733.4,831.5l7.8,-7.8M735.0,823.0l7.8,7.8M735.0,830.8l7.8,-7.8M736.6,822.5l7.8,7.8M736.6,830.3l7.8,-7.8M738.1,822.7l7.8,7.8M738.1,830.5l7.8,-7.8M739.7,822.9l7.8,7.8M739.7,830.7l7.8,-7.8M741.3,823.2l7.8,7.8M741.3,831.0l7.8,-7.8M742.9,823.4l7.8,7.8M742.9,831.2l7.8,-7.8M744.5,823.6l7.8,7.8M744.5,831.4l7.8,-7.8M746.0,823.9l7.8,7.8M746.0,831.7l7.8,-7.8M747.6,824.1l7.8,7.8M747.6,831.9l7.8,-7.8M749.2,824.1l7.8,7.8M749.2,831.9l7.8,-7.8M750.8,824.0l7.8,7.8M750.8,831.8l7.8,-7.8M752.4,823.9l7.8,7.8M752.4,831.7l7.8,-7.8M753.9,823.7l7.8,7.8M753.9,831.5l7.8,-7.8M755.5,823.6l7.8,7.8M755.5,831.4l7.8,-7.8M757.1,823.5l7.8,7.8M757.1,831.3l7.8,-7.8M758.7,823.3l7.8,7.8M758.7,831.1l7.8,-7.8M760.3,823.2l7.8,7.8M760.3,831.0l7.8,-7.8M761.8,824.1l7.8,7.8M761.8,831.9l7.8,-7.8M763.4,825.0l7.8,7.8M763.4,832.8l7.8,-7.8M765.0,826.0l7.8,7.8M765.0,833.8l7.8,-7.8M766.6,827.0l7.8,7.8M766.6,834.8l7.8,-7.8M768.2,828.0l7.8,7.8M768.2,835.8l7.8,-7.8M769.7,829.2l7.8,7.8M769.7,837.0l7.8,-7.8M771.3,830.5l7.8,7.8M771.3,838.3l7.8,-7.8M772.9,831.7l7.8,7.8M772.9,839.5l7.8,-7.8M774.5,833.0l7.8,7.8M774.5,840.8l7.8,-7.8M776.1,834.3l7.8,7.8M776.1,842.1l7.8,-7.8M777.6,835.3l7.8,7.8M777.6,843.1l7.8,-7.8M779.2,835.0l7.8,7.8M779.2,842.8l7.8,-7.8M780.8,834.8l7.8,7.8M780.8,842.6l7.8,-7.8M782.4,834.6l7.8,7.8M782.4,842.4l7.8,-7.8M784.0,832.5l7.8,7.8M784.0,840.3l7.8,-7.8M785.5,829.6l7.8,7.8M785.5,837.4l7.8,-7.8M787.1,826.7l7.8,7.8M787.1,834.5l7.8,-7.8M788.7,824.1l7.8,7.8M788.7,831.9l7.8,-7.8M790.3,824.0l7.8,7.8M790.3,831.8l7.8,-7.8M791.9,823.9l7.8,7.8M791.9,831.7l7.8,-7.8M793.4,823.8l7.8,7.8M793.4,831.6l7.8,-7.8M795.0,823.7l7.8,7.8M795.0,831.5l7.8,-7.8M796.6,823.7l7.8,7.8M796.6,831.5l7.8,-7.8M798.2,824.0l7.8,7.8M798.2,831.8l7.8,-7.8M799.8,824.3l7.8,7.8M799.8,832.1l7.8,-7.8M801.3,824.5l7.8,7.8M801.3,832.3l7.8,-7.8M802.9,824.8l7.8,7.8M802.9,832.6l7.8,-7.8M804.5,825.1l7.8,7.8M804.5,832.9l7.8,-7.8M806.1,825.2l7.8,7.8M806.1,833.0l7.8,-7.8M807.7,824.0l7.8,7.8M807.7,831.8l7.8,-7.8M809.2,822.8l7.8,7.8M809.2,830.6l7.8,-7.8M810.8,821.6l7.8,7.8M810.8,829.4l7.8,-7.8M812.4,820.4l7.8,7.8M812.4,828.2l7.8,-7.8M814.0,819.2l7.8,7.8M814.0,827.0l7.8,-7.8M815.6,818.0l7.8,7.8M815.6,825.8l7.8,-7.8M817.1,816.8l7.8,7.8M817.1,824.6l7.8,-7.8M818.7,817.7l7.8,7.8M818.7,825.5l7.8,-7.8M820.3,818.6l7.8,7.8M820.3,826.4l7.8,-7.8M821.9,819.4l7.8,7.8M821.9,827.2l7.8,-7.8M823.5,820.3l7.8,7.8M823.5,828.1l7.8,-7.8M825.0,821.2l7.8,7.8M825.0,829.0l7.8,-7.8M826.6,822.1l7.8,7.8M826.6,829.9l7.8,-7.8M828.2,821.6l7.8,7.8M828.2,829.4l7.8,-7.8M829.8,820.4l7.8,7.8M829.8,828.2l7.8,-7.8M831.4,819.2l7.8,7.8M831.4,827.0l7.8,-7.8M832.9,818.1l7.8,7.8M832.9,825.9l7.8,-7.8M834.5,816.9l7.8,7.8M834.5,824.7l7.8,-7.8M836.1,815.7l7.8,7.8M836.1,823.5l7.8,-7.8M837.7,814.5l7.8,7.8M837.7,822.3l7.8,-7.8M839.3,813.6l7.8,7.8M839.3,821.4l7.8,-7.8M840.8,812.8l7.8,7.8M840.8,820.6l7.8,-7.8M842.4,812.0l7.8,7.8M842.4,819.8l7.8,-7.8M844.0,811.2l7.8,7.8M844.0,819.0l7.8,-7.8M845.6,810.4l7.8,7.8M845.6,818.2l7.8,-7.8M847.2,809.6l7.8,7.8M847.2,817.4l7.8,-7.8M848.7,808.8l7.8,7.8M848.7,816.6l7.8,-7.8M850.3,807.0l7.8,7.8M850.3,814.8l7.8,-7.8M851.9,803.8l7.8,7.8M851.9,811.6l7.8,-7.8M853.5,800.7l7.8,7.8M853.5,808.5l7.8,-7.8M855.1,797.6l7.8,7.8M855.1,805.4l7.8,-7.8M856.6,794.4l7.8,7.8M856.6,802.2l7.8,-7.8M858.2,790.7l7.8,7.8M858.2,798.5l7.8,-7.8M859.8,787.0l7.8,7.8M859.8,794.8l7.8,-7.8M860.9,784.4l7.8,7.8M860.9,792.2l7.8,-7.8M863.7,778.8l7.8,7.8M863.7,786.6l7.8,-7.8M866.5,781.6l7.8,7.8M866.5,789.4l7.8,-7.8M867.9,792.9l7.8,7.8M867.9,800.7l7.8,-7.8M869.3,804.1l7.8,7.8M869.3,811.9l7.8,-7.8M870.7,814.7l7.8,7.8M870.7,822.5l7.8,-7.8M872.2,826.7l7.8,7.8M872.2,834.5l7.8,-7.8M873.6,837.9l7.8,7.8M873.6,845.7l7.8,-7.8M875.0,849.2l7.8,7.8M875.0,857.0l7.8,-7.8M877.1,859.1l7.8,7.8M877.1,866.9l7.8,-7.8M879.2,868.9l7.8,7.8M879.2,876.7l7.8,-7.8M881.3,878.8l7.8,7.8M881.3,886.6l7.8,-7.8M883.4,887.2l7.8,7.8M883.4,895.0l7.8,-7.8M885.1,888.5l7.8,7.8M885.1,896.3l7.8,-7.8M886.7,889.7l7.8,7.8M886.7,897.5l7.8,-7.8M888.2,890.9l7.8,7.8M888.2,898.7l7.8,-7.8M889.8,891.7l7.8,7.8M889.8,899.5l7.8,-7.8M891.4,892.2l7.8,7.8M891.4,900.0l7.8,-7.8M893.0,892.7l7.8,7.8M893.0,900.5l7.8,-7.8M894.6,893.1l7.8,7.8M894.6,900.9l7.8,-7.8M896.1,893.6l7.8,7.8M896.1,901.4l7.8,-7.8M897.7,893.8l7.8,7.8M897.7,901.6l7.8,-7.8M899.3,894.1l7.8,7.8M899.3,901.9l7.8,-7.8M900.9,894.3l7.8,7.8M900.9,902.1l7.8,-7.8M902.5,894.6l7.8,7.8M902.5,902.4l7.8,-7.8M904.0,894.8l7.8,7.8M904.0,902.6l7.8,-7.8M905.6,895.1l7.8,7.8M905.6,902.9l7.8,-7.8M907.2,895.3l7.8,7.8M907.2,903.1l7.8,-7.8M908.8,895.6l7.8,7.8M908.8,903.4l7.8,-7.8M910.4,896.1l7.8,7.8M910.4,903.9l7.8,-7.8M911.9,896.7l7.8,7.8M911.9,904.5l7.8,-7.8M913.5,897.4l7.8,7.8M913.5,905.2l7.8,-7.8M915.1,898.0l7.8,7.8M915.1,905.8l7.8,-7.8M916.7,898.4l7.8,7.8M916.7,906.2l7.8,-7.8M918.3,898.4l7.8,7.8M918.3,906.2l7.8,-7.8M919.8,898.4l7.8,7.8M919.8,906.2l7.8,-7.8M921.4,898.5l7.8,7.8M921.4,906.3l7.8,-7.8M923.0,898.5l7.8,7.8M923.0,906.3l7.8,-7.8M924.6,898.5l7.8,7.8M924.6,906.3l7.8,-7.8M926.2,898.5l7.8,7.8M926.2,906.3l7.8,-7.8M927.7,898.5l7.8,7.8M927.7,906.3l7.8,-7.8M929.3,898.6l7.8,7.8M929.3,906.4l7.8,-7.8M930.9,898.6l7.8,7.8M930.9,906.4l7.8,-7.8M932.5,898.6l7.8,7.8M932.5,906.4l7.8,-7.8M934.1,898.6l7.8,7.8M934.1,906.4l7.8,-7.8M935.6,898.6l7.8,7.8M935.6,906.4l7.8,-7.8M937.2,898.7l7.8,7.8M937.2,906.5l7.8,-7.8M938.8,898.7l7.8,7.8M938.8,906.5l7.8,-7.8M940.4,898.7l7.8,7.8M940.4,906.5l7.8,-7.8M942.0,898.7l7.8,7.8M942.0,906.5l7.8,-7.8M943.5,898.7l7.8,7.8M943.5,906.5l7.8,-7.8M945.1,898.8l7.8,7.8M945.1,906.6l7.8,-7.8M946.7,898.8l7.8,7.8M946.7,906.6l7.8,-7.8M948.3,898.8l7.8,7.8M948.3,906.6l7.8,-7.8M949.9,898.8l7.8,7.8M949.9,906.6l7.8,-7.8M951.4,898.8l7.8,7.8M951.4,906.6l7.8,-7.8M953.0,898.9l7.8,7.8M953.0,906.7l7.8,-7.8M954.6,898.9l7.8,7.8M954.6,906.7l7.8,-7.8M956.2,898.9l7.8,7.8M956.2,906.7l7.8,-7.8M957.8,898.6l7.8,7.8M957.8,906.4l7.8,-7.8M959.3,898.4l7.8,7.8M959.3,906.2l7.8,-7.8M960.9,898.2l7.8,7.8M960.9,906.0l7.8,-7.8M962.5,897.9l7.8,7.8M962.5,905.7l7.8,-7.8M964.1,897.7l7.8,7.8M964.1,905.5l7.8,-7.8M965.7,897.4l7.8,7.8M965.7,905.2l7.8,-7.8M967.2,897.2l7.8,7.8M967.2,905.0l7.8,-7.8M968.8,896.9l7.8,7.8M968.8,904.7l7.8,-7.8M970.4,896.7l7.8,7.8M970.4,904.5l7.8,-7.8M972.0,896.8l7.8,7.8M972.0,904.6l7.8,-7.8M973.6,897.1l7.8,7.8M973.6,904.9l7.8,-7.8M975.1,897.4l7.8,7.8M975.1,905.2l7.8,-7.8M976.7,897.7l7.8,7.8M976.7,905.5l7.8,-7.8M978.3,898.0l7.8,7.8M978.3,905.8l7.8,-7.8M979.9,898.4l7.8,7.8M979.9,906.2l7.8,-7.8M981.5,898.6l7.8,7.8M981.5,906.4l7.8,-7.8M983.0,898.6l7.8,7.8M983.0,906.4l7.8,-7.8M984.6,898.6l7.8,7.8M984.6,906.4l7.8,-7.8M986.2,898.6l7.8,7.8M986.2,906.4l7.8,-7.8M987.8,898.6l7.8,7.8M987.8,906.4l7.8,-7.8M989.4,898.6l7.8,7.8M989.4,906.4l7.8,-7.8M990.9,898.6l7.8,7.8M990.9,906.4l7.8,-7.8M992.5,898.6l7.8,7.8M992.5,906.4l7.8,-7.8M994.1,898.6l7.8,7.8M994.1,906.4l7.8,-7.8M995.7,898.6l7.8,7.8M995.7,906.4l7.8,-7.8M997.3,898.6l7.8,7.8M997.3,906.4l7.8,-7.8M998.8,898.6l7.8,7.8M998.8,906.4l7.8,-7.8" stroke="#4a3a9a" stroke-width="1.5" fill="none"/>
</g>
<line x1="908.0" y1="554.8" x2="937.0" y2="554.8" stroke="#333" stroke-width="1.3"/>
<path d="M918,550.8l8,8M918,558.8l8,-8" stroke="#222" stroke-width="1.4"/>
<line x1="908.0" y1="595.0" x2="937.0" y2="595.0" stroke="#4a3a9a" stroke-width="1.3"/>
<path d="M918,591l8,8M918,599l8,-8" stroke="#4a3a9a" stroke-width="1.4"/>
<text x="949.0" y="565.0" font-size="29" text-anchor="start" letter-spacing="0" >Au</text>
<text x="948.0" y="605.5" font-size="29" text-anchor="start" >I</text>
<defs><linearGradient id="octG" x1="0" y1="597" x2="0" y2="736" gradientUnits="userSpaceOnUse"><stop offset="0" stop-color="#bfc1c2"/><stop offset="0.45" stop-color="#b7b9ba"/><stop offset="0.475" stop-color="#a9abac"/><stop offset="0.53" stop-color="#8e9092"/><stop offset="0.56" stop-color="#7b7d7f"/><stop offset="1" stop-color="#75777a"/></linearGradient></defs>
<defs><linearGradient id="octR" x1="0" y1="597" x2="0" y2="736" gradientUnits="userSpaceOnUse"><stop offset="0" stop-color="#cdcfd0"/><stop offset="0.45" stop-color="#c6c8c9"/><stop offset="0.49" stop-color="#a4a6a8"/><stop offset="0.56" stop-color="#8e9092"/><stop offset="1" stop-color="#8a8c8e"/></linearGradient></defs>
<path d="M787.0,601.4 Q793.9,592.8 801.0,601.2 L847.9,656.4 Q855.0,664.8 848.2,673.5 L803.1,731.3 Q796.3,740.0 789.3,731.5 L742.2,674.9 Q735.2,666.4 742.1,657.8 Z" fill="url(#octR)"/>
<path d="M789.0,602.8 Q794.0,596.5 799.2,602.6 L846.3,658.7 Q851.5,664.8 846.6,671.1 L801.1,730.0 Q796.2,736.3 791.1,730.1 L743.8,672.6 Q738.7,666.4 743.7,660.1 Z" fill="url(#octG)"/>
<text x="1095.5" y="545.8" font-size="29" text-anchor="middle" letter-spacing="-0.5" >HAADF</text>
<rect x="1018" y="553.3" width="153.2" height="152.7" fill="#000"/>
<defs><filter id="blur1" x="-20%" y="-20%" width="140%" height="140%"><feGaussianBlur stdDeviation="1.1"/></filter><filter id="haze" x="-50%" y="-50%" width="200%" height="200%"><feGaussianBlur stdDeviation="6"/></filter><linearGradient id="hg" x1="0" y1="0" x2="0" y2="1"><stop offset="0" stop-color="#dcdcdc"/><stop offset="0.5" stop-color="#d2d2d2"/><stop offset="1" stop-color="#cbcbcb"/></linearGradient><filter id="hn" x="0" y="0" width="100%" height="100%"><feTurbulence type="fractalNoise" baseFrequency="0.9" numOctaves="1" seed="5"/><feColorMatrix type="matrix" values="0 0 0 0 0  0 0 0 0 0  0 0 0 0 0  1.6 0 0 0 -0.55"/></filter><clipPath id="hclip"><rect x="1018" y="553.3" width="153.2" height="152.7"/></clipPath></defs>
<g clip-path="url(#hclip)">
<ellipse cx="1097" cy="568" rx="20" ry="9" fill="#3a3a3a" filter="url(#haze)"/>
<path d="M1075.6,579.6 Q1079.0,573.5 1086.0,573.5 L1103.0,573.5 Q1110.0,573.5 1113.9,579.3 L1141.3,620.4 Q1145.2,626.2 1141.9,632.4 L1114.3,684.4 Q1111.0,690.6 1104.0,690.6 L1090.0,690.6 Q1083.0,690.6 1079.5,684.5 L1051.5,635.5 Q1048.0,629.4 1051.4,623.3 Z" fill="url(#hg)" filter="url(#blur1)"/>
<clipPath id="hdc"><path d="M1075.6,579.6 Q1079.0,573.5 1086.0,573.5 L1103.0,573.5 Q1110.0,573.5 1113.9,579.3 L1141.3,620.4 Q1145.2,626.2 1141.9,632.4 L1114.3,684.4 Q1111.0,690.6 1104.0,690.6 L1090.0,690.6 Q1083.0,690.6 1079.5,684.5 L1051.5,635.5 Q1048.0,629.4 1051.4,623.3 Z"/></clipPath>
<rect x="1040" y="565" width="115" height="135" filter="url(#hn)" clip-path="url(#hdc)" opacity="0.22"/>
</g>
<path d="M1091.3,636.1 L1139,588" stroke="#fff" stroke-width="2.8"/>
<path d="M1147.3,579.8 L1130.5,587.5 L1139.8,596.8 Z" fill="#fff"/>
<text x="1116.5" y="578.7" font-size="29" text-anchor="start" font-style="italic" fill="#fff">x</text>
<rect x="1028.6" y="692" width="26.2" height="5.6" fill="#fff"/>
<text x="1014.0" y="744.0" font-size="29" text-anchor="start" letter-spacing="-1" >EDX</text>
<rect x="1085" y="714" width="96.5" height="35" fill="#fff" stroke="#222" stroke-width="1.3"/>
<rect x="1133.8" y="714" width="47.7" height="35" fill="#5a3d9c" stroke="#222" stroke-width="1.3"/>
<text x="1110.5" y="743.0" font-size="29" text-anchor="middle" letter-spacing="-0.5" >Au</text>
<text x="1157.5" y="743.0" font-size="29" text-anchor="middle" fill="#fff">I</text>
<rect x="1018.4" y="755.2" width="153.2" height="152.5" fill="#000"/>
<defs><clipPath id="edxr"><rect x="1018.4" y="755.2" width="153.2" height="152.5"/></clipPath></defs>
<defs><filter id="eb" x="-2%" y="-2%" width="104%" height="104%"><feGaussianBlur stdDeviation="0.4"/></filter></defs>
<g filter="url(#eb)" clip-path="url(#edxr)">
<path d="M1049.9 755.2h1.5v1.5h-1.5zM1072.4 756.7h1.5v1.5h-1.5zM1096.4 756.7h1.5v1.5h-1.5zM1102.4 756.7h1.5v1.5h-1.5zM1087.4 758.2h1.5v1.5h-1.5zM1091.9 758.2h1.5v1.5h-1.5zM1127.9 759.7h1.5v1.5h-1.5zM1045.4 761.2h1.5v1.5h-1.5zM1109.9 761.2h1.5v1.5h-1.5zM1022.9 762.7h1.5v1.5h-1.5zM1082.9 762.7h1.5v1.5h-1.5zM1147.4 764.2h1.5v1.5h-1.5zM1151.9 767.2h1.5v1.5h-1.5zM1162.4 767.2h1.5v1.5h-1.5zM1109.9 768.7h1.5v1.5h-1.5zM1091.9 770.2h1.5v1.5h-1.5zM1093.4 770.2h1.5v1.5h-1.5zM1082.9 773.2h1.5v1.5h-1.5zM1091.9 773.2h1.5v1.5h-1.5zM1103.9 773.2h1.5v1.5h-1.5zM1156.4 773.2h1.5v1.5h-1.5zM1058.9 774.7h1.5v1.5h-1.5zM1075.4 774.7h1.5v1.5h-1.5zM1099.4 776.2h1.5v1.5h-1.5zM1142.9 776.2h1.5v1.5h-1.5zM1082.9 777.7h1.5v1.5h-1.5zM1085.9 777.7h1.5v1.5h-1.5zM1093.4 777.7h1.5v1.5h-1.5zM1096.4 777.7h1.5v1.5h-1.5zM1097.9 777.7h1.5v1.5h-1.5zM1088.9 779.2h1.5v1.5h-1.5zM1090.4 779.2h1.5v1.5h-1.5zM1099.4 779.2h1.5v1.5h-1.5zM1142.9 779.2h1.5v1.5h-1.5zM1091.9 780.7h1.5v1.5h-1.5zM1093.4 780.7h1.5v1.5h-1.5zM1097.9 780.7h1.5v1.5h-1.5zM1159.4 780.7h1.5v1.5h-1.5zM1165.4 780.7h1.5v1.5h-1.5zM1085.9 782.2h1.5v1.5h-1.5zM1090.4 782.2h1.5v1.5h-1.5zM1103.9 782.2h1.5v1.5h-1.5zM1106.9 782.2h1.5v1.5h-1.5zM1046.9 783.7h1.5v1.5h-1.5zM1087.4 783.7h1.5v1.5h-1.5zM1093.4 783.7h1.5v1.5h-1.5zM1067.9 785.2h1.5v1.5h-1.5zM1078.4 785.2h1.5v1.5h-1.5zM1079.9 785.2h1.5v1.5h-1.5zM1081.4 785.2h1.5v1.5h-1.5zM1100.9 785.2h1.5v1.5h-1.5zM1108.4 785.2h1.5v1.5h-1.5zM1039.4 786.7h1.5v1.5h-1.5zM1060.4 786.7h1.5v1.5h-1.5zM1082.9 786.7h1.5v1.5h-1.5zM1087.4 786.7h1.5v1.5h-1.5zM1096.4 786.7h1.5v1.5h-1.5zM1099.4 786.7h1.5v1.5h-1.5zM1102.4 786.7h1.5v1.5h-1.5zM1108.4 786.7h1.5v1.5h-1.5zM1111.4 786.7h1.5v1.5h-1.5zM1082.9 788.2h1.5v1.5h-1.5zM1093.4 788.2h1.5v1.5h-1.5zM1100.9 788.2h1.5v1.5h-1.5zM1105.4 788.2h1.5v1.5h-1.5zM1108.4 788.2h1.5v1.5h-1.5zM1111.4 788.2h1.5v1.5h-1.5zM1120.4 788.2h1.5v1.5h-1.5zM1073.9 789.7h1.5v1.5h-1.5zM1088.9 789.7h1.5v1.5h-1.5zM1091.9 789.7h1.5v1.5h-1.5zM1093.4 789.7h1.5v1.5h-1.5zM1144.4 789.7h1.5v1.5h-1.5zM1073.9 791.2h1.5v1.5h-1.5zM1079.9 791.2h1.5v1.5h-1.5zM1087.4 791.2h1.5v1.5h-1.5zM1091.9 791.2h1.5v1.5h-1.5zM1100.9 791.2h1.5v1.5h-1.5zM1109.9 791.2h1.5v1.5h-1.5zM1133.9 791.2h1.5v1.5h-1.5zM1063.4 792.7h1.5v1.5h-1.5zM1093.4 792.7h1.5v1.5h-1.5zM1100.9 792.7h1.5v1.5h-1.5zM1103.9 792.7h1.5v1.5h-1.5zM1108.4 792.7h1.5v1.5h-1.5zM1151.9 792.7h1.5v1.5h-1.5zM1072.4 794.2h1.5v1.5h-1.5zM1075.4 794.2h1.5v1.5h-1.5zM1087.4 794.2h1.5v1.5h-1.5zM1097.9 794.2h1.5v1.5h-1.5zM1102.4 794.2h1.5v1.5h-1.5zM1103.9 794.2h1.5v1.5h-1.5zM1108.4 794.2h1.5v1.5h-1.5zM1111.4 794.2h1.5v1.5h-1.5zM1117.4 794.2h1.5v1.5h-1.5zM1118.9 794.2h1.5v1.5h-1.5zM1121.9 794.2h1.5v1.5h-1.5zM1157.9 794.2h1.5v1.5h-1.5zM1072.4 795.7h1.5v1.5h-1.5zM1076.9 795.7h1.5v1.5h-1.5zM1082.9 795.7h1.5v1.5h-1.5zM1085.9 795.7h1.5v1.5h-1.5zM1094.9 795.7h1.5v1.5h-1.5zM1097.9 795.7h1.5v1.5h-1.5zM1109.9 795.7h1.5v1.5h-1.5zM1118.9 795.7h1.5v1.5h-1.5zM1079.9 797.2h1.5v1.5h-1.5zM1081.4 797.2h1.5v1.5h-1.5zM1082.9 797.2h1.5v1.5h-1.5zM1084.4 797.2h1.5v1.5h-1.5zM1087.4 797.2h1.5v1.5h-1.5zM1088.9 797.2h1.5v1.5h-1.5zM1093.4 797.2h1.5v1.5h-1.5zM1103.9 797.2h1.5v1.5h-1.5zM1111.4 797.2h1.5v1.5h-1.5zM1067.9 798.7h1.5v1.5h-1.5zM1078.4 798.7h1.5v1.5h-1.5zM1081.4 798.7h1.5v1.5h-1.5zM1085.9 798.7h1.5v1.5h-1.5zM1094.9 798.7h1.5v1.5h-1.5zM1106.9 798.7h1.5v1.5h-1.5zM1111.4 798.7h1.5v1.5h-1.5zM1081.4 800.2h1.5v1.5h-1.5zM1087.4 800.2h1.5v1.5h-1.5zM1090.4 800.2h1.5v1.5h-1.5zM1099.4 800.2h1.5v1.5h-1.5zM1108.4 800.2h1.5v1.5h-1.5zM1114.4 800.2h1.5v1.5h-1.5zM1117.4 800.2h1.5v1.5h-1.5zM1079.9 801.7h1.5v1.5h-1.5zM1093.4 801.7h1.5v1.5h-1.5zM1096.4 801.7h1.5v1.5h-1.5zM1099.4 801.7h1.5v1.5h-1.5zM1100.9 801.7h1.5v1.5h-1.5zM1103.9 801.7h1.5v1.5h-1.5zM1070.9 803.2h1.5v1.5h-1.5zM1076.9 803.2h1.5v1.5h-1.5zM1079.9 803.2h1.5v1.5h-1.5zM1094.9 803.2h1.5v1.5h-1.5zM1097.9 803.2h1.5v1.5h-1.5zM1099.4 803.2h1.5v1.5h-1.5zM1105.4 803.2h1.5v1.5h-1.5zM1106.9 803.2h1.5v1.5h-1.5zM1111.4 803.2h1.5v1.5h-1.5zM1117.4 803.2h1.5v1.5h-1.5zM1118.9 803.2h1.5v1.5h-1.5zM1123.4 803.2h1.5v1.5h-1.5zM1034.9 804.7h1.5v1.5h-1.5zM1052.9 804.7h1.5v1.5h-1.5zM1060.4 804.7h1.5v1.5h-1.5zM1067.9 804.7h1.5v1.5h-1.5zM1102.4 804.7h1.5v1.5h-1.5zM1105.4 804.7h1.5v1.5h-1.5zM1111.4 804.7h1.5v1.5h-1.5zM1115.9 804.7h1.5v1.5h-1.5zM1121.9 804.7h1.5v1.5h-1.5zM1021.4 806.2h1.5v1.5h-1.5zM1060.4 806.2h1.5v1.5h-1.5zM1061.9 806.2h1.5v1.5h-1.5zM1105.4 806.2h1.5v1.5h-1.5zM1111.4 806.2h1.5v1.5h-1.5zM1115.9 806.2h1.5v1.5h-1.5zM1117.4 806.2h1.5v1.5h-1.5zM1118.9 806.2h1.5v1.5h-1.5zM1154.9 806.2h1.5v1.5h-1.5zM1055.9 807.7h1.5v1.5h-1.5zM1060.4 807.7h1.5v1.5h-1.5zM1064.9 807.7h1.5v1.5h-1.5zM1069.4 807.7h1.5v1.5h-1.5zM1070.9 807.7h1.5v1.5h-1.5zM1082.9 807.7h1.5v1.5h-1.5zM1090.4 807.7h1.5v1.5h-1.5zM1096.4 807.7h1.5v1.5h-1.5zM1100.9 807.7h1.5v1.5h-1.5zM1108.4 807.7h1.5v1.5h-1.5zM1109.9 807.7h1.5v1.5h-1.5zM1111.4 807.7h1.5v1.5h-1.5zM1114.4 807.7h1.5v1.5h-1.5zM1123.4 807.7h1.5v1.5h-1.5zM1057.4 809.2h1.5v1.5h-1.5zM1070.9 809.2h1.5v1.5h-1.5zM1076.9 809.2h1.5v1.5h-1.5zM1078.4 809.2h1.5v1.5h-1.5zM1091.9 809.2h1.5v1.5h-1.5zM1100.9 809.2h1.5v1.5h-1.5zM1106.9 809.2h1.5v1.5h-1.5zM1114.4 809.2h1.5v1.5h-1.5zM1117.4 809.2h1.5v1.5h-1.5zM1130.9 809.2h1.5v1.5h-1.5zM1055.9 810.7h1.5v1.5h-1.5zM1066.4 810.7h1.5v1.5h-1.5zM1075.4 810.7h1.5v1.5h-1.5zM1097.9 810.7h1.5v1.5h-1.5zM1102.4 810.7h1.5v1.5h-1.5zM1106.9 810.7h1.5v1.5h-1.5zM1114.4 810.7h1.5v1.5h-1.5zM1115.9 810.7h1.5v1.5h-1.5zM1124.9 810.7h1.5v1.5h-1.5zM1132.4 810.7h1.5v1.5h-1.5zM1142.9 810.7h1.5v1.5h-1.5zM1150.4 810.7h1.5v1.5h-1.5zM1058.9 812.2h1.5v1.5h-1.5zM1064.9 812.2h1.5v1.5h-1.5zM1082.9 812.2h1.5v1.5h-1.5zM1084.4 812.2h1.5v1.5h-1.5zM1090.4 812.2h1.5v1.5h-1.5zM1096.4 812.2h1.5v1.5h-1.5zM1100.9 812.2h1.5v1.5h-1.5zM1102.4 812.2h1.5v1.5h-1.5zM1103.9 812.2h1.5v1.5h-1.5zM1105.4 812.2h1.5v1.5h-1.5zM1109.9 812.2h1.5v1.5h-1.5zM1118.9 812.2h1.5v1.5h-1.5zM1123.4 812.2h1.5v1.5h-1.5zM1133.9 812.2h1.5v1.5h-1.5zM1153.4 812.2h1.5v1.5h-1.5zM1069.4 813.7h1.5v1.5h-1.5zM1073.9 813.7h1.5v1.5h-1.5zM1082.9 813.7h1.5v1.5h-1.5zM1084.4 813.7h1.5v1.5h-1.5zM1085.9 813.7h1.5v1.5h-1.5zM1091.9 813.7h1.5v1.5h-1.5zM1099.4 813.7h1.5v1.5h-1.5zM1105.4 813.7h1.5v1.5h-1.5zM1111.4 813.7h1.5v1.5h-1.5zM1114.4 813.7h1.5v1.5h-1.5zM1136.9 813.7h1.5v1.5h-1.5zM1144.4 813.7h1.5v1.5h-1.5zM1058.9 815.2h1.5v1.5h-1.5zM1076.9 815.2h1.5v1.5h-1.5zM1079.9 815.2h1.5v1.5h-1.5zM1081.4 815.2h1.5v1.5h-1.5zM1084.4 815.2h1.5v1.5h-1.5zM1087.4 815.2h1.5v1.5h-1.5zM1100.9 815.2h1.5v1.5h-1.5zM1106.9 815.2h1.5v1.5h-1.5zM1118.9 815.2h1.5v1.5h-1.5zM1121.9 815.2h1.5v1.5h-1.5zM1124.9 815.2h1.5v1.5h-1.5zM1138.4 815.2h1.5v1.5h-1.5zM1153.4 815.2h1.5v1.5h-1.5zM1054.4 816.7h1.5v1.5h-1.5zM1058.9 816.7h1.5v1.5h-1.5zM1066.4 816.7h1.5v1.5h-1.5zM1067.9 816.7h1.5v1.5h-1.5zM1072.4 816.7h1.5v1.5h-1.5zM1073.9 816.7h1.5v1.5h-1.5zM1091.9 816.7h1.5v1.5h-1.5zM1102.4 816.7h1.5v1.5h-1.5zM1106.9 816.7h1.5v1.5h-1.5zM1112.9 816.7h1.5v1.5h-1.5zM1118.9 816.7h1.5v1.5h-1.5zM1126.4 816.7h1.5v1.5h-1.5zM1130.9 816.7h1.5v1.5h-1.5zM1135.4 816.7h1.5v1.5h-1.5zM1139.9 816.7h1.5v1.5h-1.5zM1051.4 818.2h1.5v1.5h-1.5zM1055.9 818.2h1.5v1.5h-1.5zM1060.4 818.2h1.5v1.5h-1.5zM1066.4 818.2h1.5v1.5h-1.5zM1069.4 818.2h1.5v1.5h-1.5zM1091.9 818.2h1.5v1.5h-1.5zM1105.4 818.2h1.5v1.5h-1.5zM1108.4 818.2h1.5v1.5h-1.5zM1115.9 818.2h1.5v1.5h-1.5zM1117.4 818.2h1.5v1.5h-1.5zM1121.9 818.2h1.5v1.5h-1.5zM1129.4 818.2h1.5v1.5h-1.5zM1141.4 818.2h1.5v1.5h-1.5zM1052.9 819.7h1.5v1.5h-1.5zM1057.4 819.7h1.5v1.5h-1.5zM1058.9 819.7h1.5v1.5h-1.5zM1073.9 819.7h1.5v1.5h-1.5zM1084.4 819.7h1.5v1.5h-1.5zM1091.9 819.7h1.5v1.5h-1.5zM1094.9 819.7h1.5v1.5h-1.5zM1112.9 819.7h1.5v1.5h-1.5zM1132.4 819.7h1.5v1.5h-1.5zM1133.9 819.7h1.5v1.5h-1.5zM1051.4 821.2h1.5v1.5h-1.5zM1058.9 821.2h1.5v1.5h-1.5zM1063.4 821.2h1.5v1.5h-1.5zM1064.9 821.2h1.5v1.5h-1.5zM1069.4 821.2h1.5v1.5h-1.5zM1073.9 821.2h1.5v1.5h-1.5zM1102.4 821.2h1.5v1.5h-1.5zM1118.9 821.2h1.5v1.5h-1.5zM1123.4 821.2h1.5v1.5h-1.5zM1124.9 821.2h1.5v1.5h-1.5zM1130.9 821.2h1.5v1.5h-1.5zM1141.4 821.2h1.5v1.5h-1.5zM1144.4 821.2h1.5v1.5h-1.5zM1148.9 821.2h1.5v1.5h-1.5zM1055.9 822.7h1.5v1.5h-1.5zM1057.4 822.7h1.5v1.5h-1.5zM1060.4 822.7h1.5v1.5h-1.5zM1063.4 822.7h1.5v1.5h-1.5zM1094.9 822.7h1.5v1.5h-1.5zM1103.9 822.7h1.5v1.5h-1.5zM1105.4 822.7h1.5v1.5h-1.5zM1109.9 822.7h1.5v1.5h-1.5zM1115.9 822.7h1.5v1.5h-1.5zM1117.4 822.7h1.5v1.5h-1.5zM1120.4 822.7h1.5v1.5h-1.5zM1127.9 822.7h1.5v1.5h-1.5zM1138.4 822.7h1.5v1.5h-1.5zM1046.9 824.2h1.5v1.5h-1.5zM1048.4 824.2h1.5v1.5h-1.5zM1055.9 824.2h1.5v1.5h-1.5zM1057.4 824.2h1.5v1.5h-1.5zM1067.9 824.2h1.5v1.5h-1.5zM1076.9 824.2h1.5v1.5h-1.5zM1079.9 824.2h1.5v1.5h-1.5zM1085.9 824.2h1.5v1.5h-1.5zM1102.4 824.2h1.5v1.5h-1.5zM1105.4 824.2h1.5v1.5h-1.5zM1108.4 824.2h1.5v1.5h-1.5zM1130.9 824.2h1.5v1.5h-1.5zM1132.4 824.2h1.5v1.5h-1.5zM1135.4 824.2h1.5v1.5h-1.5zM1141.4 824.2h1.5v1.5h-1.5zM1045.4 825.7h1.5v1.5h-1.5zM1046.9 825.7h1.5v1.5h-1.5zM1060.4 825.7h1.5v1.5h-1.5zM1061.9 825.7h1.5v1.5h-1.5zM1063.4 825.7h1.5v1.5h-1.5zM1064.9 825.7h1.5v1.5h-1.5zM1067.9 825.7h1.5v1.5h-1.5zM1069.4 825.7h1.5v1.5h-1.5zM1075.4 825.7h1.5v1.5h-1.5zM1100.9 825.7h1.5v1.5h-1.5zM1102.4 825.7h1.5v1.5h-1.5zM1111.4 825.7h1.5v1.5h-1.5zM1115.9 825.7h1.5v1.5h-1.5zM1117.4 825.7h1.5v1.5h-1.5zM1118.9 825.7h1.5v1.5h-1.5zM1123.4 825.7h1.5v1.5h-1.5zM1132.4 825.7h1.5v1.5h-1.5zM1048.4 827.2h1.5v1.5h-1.5zM1049.9 827.2h1.5v1.5h-1.5zM1055.9 827.2h1.5v1.5h-1.5zM1057.4 827.2h1.5v1.5h-1.5zM1060.4 827.2h1.5v1.5h-1.5zM1064.9 827.2h1.5v1.5h-1.5zM1066.4 827.2h1.5v1.5h-1.5zM1067.9 827.2h1.5v1.5h-1.5zM1073.9 827.2h1.5v1.5h-1.5zM1075.4 827.2h1.5v1.5h-1.5zM1076.9 827.2h1.5v1.5h-1.5zM1093.4 827.2h1.5v1.5h-1.5zM1096.4 827.2h1.5v1.5h-1.5zM1097.9 827.2h1.5v1.5h-1.5zM1099.4 827.2h1.5v1.5h-1.5zM1102.4 827.2h1.5v1.5h-1.5zM1105.4 827.2h1.5v1.5h-1.5zM1106.9 827.2h1.5v1.5h-1.5zM1118.9 827.2h1.5v1.5h-1.5zM1129.4 827.2h1.5v1.5h-1.5zM1135.4 827.2h1.5v1.5h-1.5zM1145.9 827.2h1.5v1.5h-1.5zM1046.9 828.7h1.5v1.5h-1.5zM1063.4 828.7h1.5v1.5h-1.5zM1073.9 828.7h1.5v1.5h-1.5zM1085.9 828.7h1.5v1.5h-1.5zM1096.4 828.7h1.5v1.5h-1.5zM1099.4 828.7h1.5v1.5h-1.5zM1112.9 828.7h1.5v1.5h-1.5zM1117.4 828.7h1.5v1.5h-1.5zM1121.9 828.7h1.5v1.5h-1.5zM1132.4 828.7h1.5v1.5h-1.5zM1043.9 830.2h1.5v1.5h-1.5zM1052.9 830.2h1.5v1.5h-1.5zM1054.4 830.2h1.5v1.5h-1.5zM1055.9 830.2h1.5v1.5h-1.5zM1057.4 830.2h1.5v1.5h-1.5zM1066.4 830.2h1.5v1.5h-1.5zM1067.9 830.2h1.5v1.5h-1.5zM1075.4 830.2h1.5v1.5h-1.5zM1079.9 830.2h1.5v1.5h-1.5zM1091.9 830.2h1.5v1.5h-1.5zM1102.4 830.2h1.5v1.5h-1.5zM1103.9 830.2h1.5v1.5h-1.5zM1105.4 830.2h1.5v1.5h-1.5zM1109.9 830.2h1.5v1.5h-1.5zM1118.9 830.2h1.5v1.5h-1.5zM1126.4 830.2h1.5v1.5h-1.5zM1127.9 830.2h1.5v1.5h-1.5zM1132.4 830.2h1.5v1.5h-1.5zM1142.9 830.2h1.5v1.5h-1.5zM1145.9 830.2h1.5v1.5h-1.5zM1019.9 831.7h1.5v1.5h-1.5zM1042.4 831.7h1.5v1.5h-1.5zM1043.9 831.7h1.5v1.5h-1.5zM1045.4 831.7h1.5v1.5h-1.5zM1054.4 831.7h1.5v1.5h-1.5zM1073.9 831.7h1.5v1.5h-1.5zM1079.9 831.7h1.5v1.5h-1.5zM1084.4 831.7h1.5v1.5h-1.5zM1085.9 831.7h1.5v1.5h-1.5zM1090.4 831.7h1.5v1.5h-1.5zM1093.4 831.7h1.5v1.5h-1.5zM1097.9 831.7h1.5v1.5h-1.5zM1106.9 831.7h1.5v1.5h-1.5zM1109.9 831.7h1.5v1.5h-1.5zM1120.4 831.7h1.5v1.5h-1.5zM1133.9 831.7h1.5v1.5h-1.5zM1046.9 833.2h1.5v1.5h-1.5zM1049.9 833.2h1.5v1.5h-1.5zM1061.9 833.2h1.5v1.5h-1.5zM1073.9 833.2h1.5v1.5h-1.5zM1075.4 833.2h1.5v1.5h-1.5zM1090.4 833.2h1.5v1.5h-1.5zM1102.4 833.2h1.5v1.5h-1.5zM1105.4 833.2h1.5v1.5h-1.5zM1109.9 833.2h1.5v1.5h-1.5zM1118.9 833.2h1.5v1.5h-1.5zM1132.4 833.2h1.5v1.5h-1.5zM1135.4 833.2h1.5v1.5h-1.5zM1045.4 834.7h1.5v1.5h-1.5zM1054.4 834.7h1.5v1.5h-1.5zM1058.9 834.7h1.5v1.5h-1.5zM1067.9 834.7h1.5v1.5h-1.5zM1069.4 834.7h1.5v1.5h-1.5zM1073.9 834.7h1.5v1.5h-1.5zM1091.9 834.7h1.5v1.5h-1.5zM1097.9 834.7h1.5v1.5h-1.5zM1100.9 834.7h1.5v1.5h-1.5zM1106.9 834.7h1.5v1.5h-1.5zM1108.4 834.7h1.5v1.5h-1.5zM1114.4 834.7h1.5v1.5h-1.5zM1120.4 834.7h1.5v1.5h-1.5zM1123.4 834.7h1.5v1.5h-1.5zM1129.4 834.7h1.5v1.5h-1.5zM1136.9 834.7h1.5v1.5h-1.5zM1061.9 836.2h1.5v1.5h-1.5zM1067.9 836.2h1.5v1.5h-1.5zM1073.9 836.2h1.5v1.5h-1.5zM1084.4 836.2h1.5v1.5h-1.5zM1085.9 836.2h1.5v1.5h-1.5zM1087.4 836.2h1.5v1.5h-1.5zM1088.9 836.2h1.5v1.5h-1.5zM1096.4 836.2h1.5v1.5h-1.5zM1097.9 836.2h1.5v1.5h-1.5zM1111.4 836.2h1.5v1.5h-1.5zM1114.4 836.2h1.5v1.5h-1.5zM1115.9 836.2h1.5v1.5h-1.5zM1123.4 836.2h1.5v1.5h-1.5zM1124.9 836.2h1.5v1.5h-1.5zM1130.9 836.2h1.5v1.5h-1.5zM1138.4 836.2h1.5v1.5h-1.5zM1142.9 836.2h1.5v1.5h-1.5zM1157.9 836.2h1.5v1.5h-1.5zM1055.9 837.7h1.5v1.5h-1.5zM1058.9 837.7h1.5v1.5h-1.5zM1061.9 837.7h1.5v1.5h-1.5zM1069.4 837.7h1.5v1.5h-1.5zM1072.4 837.7h1.5v1.5h-1.5zM1073.9 837.7h1.5v1.5h-1.5zM1076.9 837.7h1.5v1.5h-1.5zM1079.9 837.7h1.5v1.5h-1.5zM1088.9 837.7h1.5v1.5h-1.5zM1094.9 837.7h1.5v1.5h-1.5zM1100.9 837.7h1.5v1.5h-1.5zM1124.9 837.7h1.5v1.5h-1.5zM1061.9 839.2h1.5v1.5h-1.5zM1067.9 839.2h1.5v1.5h-1.5zM1069.4 839.2h1.5v1.5h-1.5zM1079.9 839.2h1.5v1.5h-1.5zM1085.9 839.2h1.5v1.5h-1.5zM1091.9 839.2h1.5v1.5h-1.5zM1102.4 839.2h1.5v1.5h-1.5zM1106.9 839.2h1.5v1.5h-1.5zM1112.9 839.2h1.5v1.5h-1.5zM1118.9 839.2h1.5v1.5h-1.5zM1124.9 839.2h1.5v1.5h-1.5zM1129.4 839.2h1.5v1.5h-1.5zM1058.9 840.7h1.5v1.5h-1.5zM1072.4 840.7h1.5v1.5h-1.5zM1073.9 840.7h1.5v1.5h-1.5zM1075.4 840.7h1.5v1.5h-1.5zM1081.4 840.7h1.5v1.5h-1.5zM1091.9 840.7h1.5v1.5h-1.5zM1094.9 840.7h1.5v1.5h-1.5zM1102.4 840.7h1.5v1.5h-1.5zM1105.4 840.7h1.5v1.5h-1.5zM1111.4 840.7h1.5v1.5h-1.5zM1112.9 840.7h1.5v1.5h-1.5zM1118.9 840.7h1.5v1.5h-1.5zM1120.4 840.7h1.5v1.5h-1.5zM1123.4 840.7h1.5v1.5h-1.5zM1124.9 840.7h1.5v1.5h-1.5zM1132.4 840.7h1.5v1.5h-1.5zM1133.9 840.7h1.5v1.5h-1.5zM1054.4 842.2h1.5v1.5h-1.5zM1057.4 842.2h1.5v1.5h-1.5zM1060.4 842.2h1.5v1.5h-1.5zM1087.4 842.2h1.5v1.5h-1.5zM1088.9 842.2h1.5v1.5h-1.5zM1090.4 842.2h1.5v1.5h-1.5zM1102.4 842.2h1.5v1.5h-1.5zM1103.9 842.2h1.5v1.5h-1.5zM1105.4 842.2h1.5v1.5h-1.5zM1106.9 842.2h1.5v1.5h-1.5zM1114.4 842.2h1.5v1.5h-1.5zM1123.4 842.2h1.5v1.5h-1.5zM1147.4 842.2h1.5v1.5h-1.5zM1060.4 843.7h1.5v1.5h-1.5zM1063.4 843.7h1.5v1.5h-1.5zM1064.9 843.7h1.5v1.5h-1.5zM1075.4 843.7h1.5v1.5h-1.5zM1082.9 843.7h1.5v1.5h-1.5zM1087.4 843.7h1.5v1.5h-1.5zM1102.4 843.7h1.5v1.5h-1.5zM1106.9 843.7h1.5v1.5h-1.5zM1111.4 843.7h1.5v1.5h-1.5zM1112.9 843.7h1.5v1.5h-1.5zM1114.4 843.7h1.5v1.5h-1.5zM1120.4 843.7h1.5v1.5h-1.5zM1123.4 843.7h1.5v1.5h-1.5zM1057.4 845.2h1.5v1.5h-1.5zM1058.9 845.2h1.5v1.5h-1.5zM1064.9 845.2h1.5v1.5h-1.5zM1070.9 845.2h1.5v1.5h-1.5zM1075.4 845.2h1.5v1.5h-1.5zM1078.4 845.2h1.5v1.5h-1.5zM1079.9 845.2h1.5v1.5h-1.5zM1084.4 845.2h1.5v1.5h-1.5zM1093.4 845.2h1.5v1.5h-1.5zM1094.9 845.2h1.5v1.5h-1.5zM1099.4 845.2h1.5v1.5h-1.5zM1100.9 845.2h1.5v1.5h-1.5zM1102.4 845.2h1.5v1.5h-1.5zM1103.9 845.2h1.5v1.5h-1.5zM1105.4 845.2h1.5v1.5h-1.5zM1109.9 845.2h1.5v1.5h-1.5zM1114.4 845.2h1.5v1.5h-1.5zM1115.9 845.2h1.5v1.5h-1.5zM1127.9 845.2h1.5v1.5h-1.5zM1142.9 845.2h1.5v1.5h-1.5zM1144.4 845.2h1.5v1.5h-1.5zM1040.9 846.7h1.5v1.5h-1.5zM1060.4 846.7h1.5v1.5h-1.5zM1063.4 846.7h1.5v1.5h-1.5zM1070.9 846.7h1.5v1.5h-1.5zM1075.4 846.7h1.5v1.5h-1.5zM1081.4 846.7h1.5v1.5h-1.5zM1082.9 846.7h1.5v1.5h-1.5zM1090.4 846.7h1.5v1.5h-1.5zM1093.4 846.7h1.5v1.5h-1.5zM1099.4 846.7h1.5v1.5h-1.5zM1103.9 846.7h1.5v1.5h-1.5zM1111.4 846.7h1.5v1.5h-1.5zM1121.9 846.7h1.5v1.5h-1.5zM1124.9 846.7h1.5v1.5h-1.5zM1166.9 846.7h1.5v1.5h-1.5zM1055.9 848.2h1.5v1.5h-1.5zM1066.4 848.2h1.5v1.5h-1.5zM1067.9 848.2h1.5v1.5h-1.5zM1072.4 848.2h1.5v1.5h-1.5zM1073.9 848.2h1.5v1.5h-1.5zM1082.9 848.2h1.5v1.5h-1.5zM1087.4 848.2h1.5v1.5h-1.5zM1090.4 848.2h1.5v1.5h-1.5zM1091.9 848.2h1.5v1.5h-1.5zM1094.9 848.2h1.5v1.5h-1.5zM1102.4 848.2h1.5v1.5h-1.5zM1106.9 848.2h1.5v1.5h-1.5zM1112.9 848.2h1.5v1.5h-1.5zM1123.4 848.2h1.5v1.5h-1.5zM1052.9 849.7h1.5v1.5h-1.5zM1067.9 849.7h1.5v1.5h-1.5zM1069.4 849.7h1.5v1.5h-1.5zM1076.9 849.7h1.5v1.5h-1.5zM1078.4 849.7h1.5v1.5h-1.5zM1079.9 849.7h1.5v1.5h-1.5zM1081.4 849.7h1.5v1.5h-1.5zM1085.9 849.7h1.5v1.5h-1.5zM1087.4 849.7h1.5v1.5h-1.5zM1091.9 849.7h1.5v1.5h-1.5zM1093.4 849.7h1.5v1.5h-1.5zM1097.9 849.7h1.5v1.5h-1.5zM1100.9 849.7h1.5v1.5h-1.5zM1102.4 849.7h1.5v1.5h-1.5zM1114.4 849.7h1.5v1.5h-1.5zM1120.4 849.7h1.5v1.5h-1.5zM1124.9 849.7h1.5v1.5h-1.5zM1163.9 849.7h1.5v1.5h-1.5zM1028.9 851.2h1.5v1.5h-1.5zM1061.9 851.2h1.5v1.5h-1.5zM1076.9 851.2h1.5v1.5h-1.5zM1114.4 851.2h1.5v1.5h-1.5zM1066.4 852.7h1.5v1.5h-1.5zM1069.4 852.7h1.5v1.5h-1.5zM1070.9 852.7h1.5v1.5h-1.5zM1076.9 852.7h1.5v1.5h-1.5zM1078.4 852.7h1.5v1.5h-1.5zM1081.4 852.7h1.5v1.5h-1.5zM1090.4 852.7h1.5v1.5h-1.5zM1091.9 852.7h1.5v1.5h-1.5zM1099.4 852.7h1.5v1.5h-1.5zM1100.9 852.7h1.5v1.5h-1.5zM1106.9 852.7h1.5v1.5h-1.5zM1109.9 852.7h1.5v1.5h-1.5zM1160.9 852.7h1.5v1.5h-1.5zM1069.4 854.2h1.5v1.5h-1.5zM1070.9 854.2h1.5v1.5h-1.5zM1072.4 854.2h1.5v1.5h-1.5zM1076.9 854.2h1.5v1.5h-1.5zM1094.9 854.2h1.5v1.5h-1.5zM1102.4 854.2h1.5v1.5h-1.5zM1111.4 854.2h1.5v1.5h-1.5zM1115.9 854.2h1.5v1.5h-1.5zM1118.9 854.2h1.5v1.5h-1.5zM1069.4 855.7h1.5v1.5h-1.5zM1082.9 855.7h1.5v1.5h-1.5zM1091.9 855.7h1.5v1.5h-1.5zM1096.4 855.7h1.5v1.5h-1.5zM1105.4 855.7h1.5v1.5h-1.5zM1114.4 855.7h1.5v1.5h-1.5zM1118.9 855.7h1.5v1.5h-1.5zM1027.4 857.2h1.5v1.5h-1.5zM1063.4 857.2h1.5v1.5h-1.5zM1072.4 857.2h1.5v1.5h-1.5zM1082.9 857.2h1.5v1.5h-1.5zM1085.9 857.2h1.5v1.5h-1.5zM1102.4 857.2h1.5v1.5h-1.5zM1114.4 857.2h1.5v1.5h-1.5zM1162.4 857.2h1.5v1.5h-1.5zM1069.4 858.7h1.5v1.5h-1.5zM1070.9 858.7h1.5v1.5h-1.5zM1073.9 858.7h1.5v1.5h-1.5zM1081.4 858.7h1.5v1.5h-1.5zM1094.9 858.7h1.5v1.5h-1.5zM1102.4 858.7h1.5v1.5h-1.5zM1111.4 858.7h1.5v1.5h-1.5zM1070.9 860.2h1.5v1.5h-1.5zM1076.9 860.2h1.5v1.5h-1.5zM1081.4 860.2h1.5v1.5h-1.5zM1085.9 860.2h1.5v1.5h-1.5zM1093.4 860.2h1.5v1.5h-1.5zM1099.4 860.2h1.5v1.5h-1.5zM1102.4 860.2h1.5v1.5h-1.5zM1108.4 860.2h1.5v1.5h-1.5zM1111.4 860.2h1.5v1.5h-1.5zM1120.4 860.2h1.5v1.5h-1.5zM1070.9 861.7h1.5v1.5h-1.5zM1072.4 861.7h1.5v1.5h-1.5zM1075.4 861.7h1.5v1.5h-1.5zM1079.9 861.7h1.5v1.5h-1.5zM1081.4 861.7h1.5v1.5h-1.5zM1082.9 861.7h1.5v1.5h-1.5zM1085.9 861.7h1.5v1.5h-1.5zM1090.4 861.7h1.5v1.5h-1.5zM1108.4 861.7h1.5v1.5h-1.5zM1111.4 861.7h1.5v1.5h-1.5zM1069.4 863.2h1.5v1.5h-1.5zM1075.4 863.2h1.5v1.5h-1.5zM1079.9 863.2h1.5v1.5h-1.5zM1082.9 863.2h1.5v1.5h-1.5zM1084.4 863.2h1.5v1.5h-1.5zM1099.4 863.2h1.5v1.5h-1.5zM1100.9 863.2h1.5v1.5h-1.5zM1103.9 863.2h1.5v1.5h-1.5zM1111.4 863.2h1.5v1.5h-1.5zM1112.9 863.2h1.5v1.5h-1.5zM1117.4 863.2h1.5v1.5h-1.5zM1118.9 863.2h1.5v1.5h-1.5zM1126.4 863.2h1.5v1.5h-1.5zM1025.9 864.7h1.5v1.5h-1.5zM1072.4 864.7h1.5v1.5h-1.5zM1076.9 864.7h1.5v1.5h-1.5zM1078.4 864.7h1.5v1.5h-1.5zM1081.4 864.7h1.5v1.5h-1.5zM1082.9 864.7h1.5v1.5h-1.5zM1087.4 864.7h1.5v1.5h-1.5zM1088.9 864.7h1.5v1.5h-1.5zM1093.4 864.7h1.5v1.5h-1.5zM1097.9 864.7h1.5v1.5h-1.5zM1100.9 864.7h1.5v1.5h-1.5zM1108.4 864.7h1.5v1.5h-1.5zM1063.4 866.2h1.5v1.5h-1.5zM1072.4 866.2h1.5v1.5h-1.5zM1076.9 866.2h1.5v1.5h-1.5zM1079.9 866.2h1.5v1.5h-1.5zM1081.4 866.2h1.5v1.5h-1.5zM1084.4 866.2h1.5v1.5h-1.5zM1093.4 866.2h1.5v1.5h-1.5zM1094.9 866.2h1.5v1.5h-1.5zM1099.4 866.2h1.5v1.5h-1.5zM1108.4 866.2h1.5v1.5h-1.5zM1039.4 867.7h1.5v1.5h-1.5zM1078.4 867.7h1.5v1.5h-1.5zM1087.4 867.7h1.5v1.5h-1.5zM1097.9 867.7h1.5v1.5h-1.5zM1106.9 867.7h1.5v1.5h-1.5zM1108.4 867.7h1.5v1.5h-1.5zM1117.4 867.7h1.5v1.5h-1.5zM1084.4 869.2h1.5v1.5h-1.5zM1087.4 869.2h1.5v1.5h-1.5zM1094.9 869.2h1.5v1.5h-1.5zM1106.9 869.2h1.5v1.5h-1.5zM1093.4 870.7h1.5v1.5h-1.5zM1073.9 872.2h1.5v1.5h-1.5zM1078.4 872.2h1.5v1.5h-1.5zM1085.9 872.2h1.5v1.5h-1.5zM1096.4 872.2h1.5v1.5h-1.5zM1103.9 872.2h1.5v1.5h-1.5zM1105.4 872.2h1.5v1.5h-1.5zM1060.4 873.7h1.5v1.5h-1.5zM1079.9 873.7h1.5v1.5h-1.5zM1081.4 873.7h1.5v1.5h-1.5zM1084.4 873.7h1.5v1.5h-1.5zM1087.4 873.7h1.5v1.5h-1.5zM1088.9 873.7h1.5v1.5h-1.5zM1091.9 873.7h1.5v1.5h-1.5zM1102.4 873.7h1.5v1.5h-1.5zM1106.9 873.7h1.5v1.5h-1.5zM1111.4 873.7h1.5v1.5h-1.5zM1027.4 875.2h1.5v1.5h-1.5zM1063.4 875.2h1.5v1.5h-1.5zM1082.9 875.2h1.5v1.5h-1.5zM1084.4 875.2h1.5v1.5h-1.5zM1099.4 875.2h1.5v1.5h-1.5zM1100.9 875.2h1.5v1.5h-1.5zM1102.4 875.2h1.5v1.5h-1.5zM1105.4 875.2h1.5v1.5h-1.5zM1108.4 875.2h1.5v1.5h-1.5zM1139.9 875.2h1.5v1.5h-1.5zM1087.4 876.7h1.5v1.5h-1.5zM1097.9 876.7h1.5v1.5h-1.5zM1145.9 876.7h1.5v1.5h-1.5zM1093.4 878.2h1.5v1.5h-1.5zM1096.4 878.2h1.5v1.5h-1.5zM1106.9 878.2h1.5v1.5h-1.5zM1088.9 879.7h1.5v1.5h-1.5zM1094.9 879.7h1.5v1.5h-1.5zM1103.9 879.7h1.5v1.5h-1.5zM1102.4 881.2h1.5v1.5h-1.5zM1085.9 882.7h1.5v1.5h-1.5zM1094.9 882.7h1.5v1.5h-1.5zM1097.9 882.7h1.5v1.5h-1.5zM1133.9 882.7h1.5v1.5h-1.5zM1034.9 884.2h1.5v1.5h-1.5zM1085.9 884.2h1.5v1.5h-1.5zM1091.9 884.2h1.5v1.5h-1.5zM1096.4 884.2h1.5v1.5h-1.5zM1019.9 885.7h1.5v1.5h-1.5zM1087.4 885.7h1.5v1.5h-1.5zM1093.4 885.7h1.5v1.5h-1.5zM1094.9 885.7h1.5v1.5h-1.5zM1082.9 887.2h1.5v1.5h-1.5zM1109.9 887.2h1.5v1.5h-1.5zM1118.9 887.2h1.5v1.5h-1.5zM1123.4 887.2h1.5v1.5h-1.5zM1037.9 888.7h1.5v1.5h-1.5zM1079.9 888.7h1.5v1.5h-1.5zM1090.4 888.7h1.5v1.5h-1.5zM1165.4 888.7h1.5v1.5h-1.5zM1093.4 890.2h1.5v1.5h-1.5zM1096.4 890.2h1.5v1.5h-1.5zM1093.4 891.7h1.5v1.5h-1.5zM1094.9 891.7h1.5v1.5h-1.5zM1151.9 891.7h1.5v1.5h-1.5zM1076.9 896.2h1.5v1.5h-1.5zM1078.4 896.2h1.5v1.5h-1.5zM1117.4 897.7h1.5v1.5h-1.5zM1078.4 899.2h1.5v1.5h-1.5zM1169.9 899.2h1.5v1.5h-1.5zM1046.9 900.7h1.5v1.5h-1.5zM1064.9 900.7h1.5v1.5h-1.5zM1121.9 900.7h1.5v1.5h-1.5zM1096.4 902.2h1.5v1.5h-1.5zM1106.9 902.2h1.5v1.5h-1.5zM1103.9 903.7h1.5v1.5h-1.5zM1129.4 903.7h1.5v1.5h-1.5zM1154.9 903.7h1.5v1.5h-1.5zM1078.4 905.2h1.5v1.5h-1.5zM1085.9 906.7h1.5v1.5h-1.5zM1121.9 906.7h1.5v1.5h-1.5zM1124.9 906.7h1.5v1.5h-1.5zM1162.4 906.7h1.5v1.5h-1.5z" fill="#f4f4f4"/>
<path d="M1159.4 756.7h1.5v1.5h-1.5zM1031.9 759.7h1.5v1.5h-1.5zM1088.9 759.7h1.5v1.5h-1.5zM1093.4 773.2h1.5v1.5h-1.5zM1097.9 773.2h1.5v1.5h-1.5zM1090.4 774.7h1.5v1.5h-1.5zM1099.4 774.7h1.5v1.5h-1.5zM1085.9 776.2h1.5v1.5h-1.5zM1088.9 776.2h1.5v1.5h-1.5zM1106.9 776.2h1.5v1.5h-1.5zM1042.4 777.7h1.5v1.5h-1.5zM1087.4 777.7h1.5v1.5h-1.5zM1088.9 777.7h1.5v1.5h-1.5zM1090.4 777.7h1.5v1.5h-1.5zM1094.9 777.7h1.5v1.5h-1.5zM1100.9 777.7h1.5v1.5h-1.5zM1091.9 779.2h1.5v1.5h-1.5zM1094.9 779.2h1.5v1.5h-1.5zM1097.9 779.2h1.5v1.5h-1.5zM1096.4 780.7h1.5v1.5h-1.5zM1072.4 782.2h1.5v1.5h-1.5zM1082.9 782.2h1.5v1.5h-1.5zM1091.9 782.2h1.5v1.5h-1.5zM1097.9 782.2h1.5v1.5h-1.5zM1099.4 782.2h1.5v1.5h-1.5zM1102.4 782.2h1.5v1.5h-1.5zM1090.4 783.7h1.5v1.5h-1.5zM1094.9 783.7h1.5v1.5h-1.5zM1096.4 783.7h1.5v1.5h-1.5zM1102.4 783.7h1.5v1.5h-1.5zM1106.9 783.7h1.5v1.5h-1.5zM1090.4 785.2h1.5v1.5h-1.5zM1091.9 785.2h1.5v1.5h-1.5zM1094.9 785.2h1.5v1.5h-1.5zM1105.4 785.2h1.5v1.5h-1.5zM1144.4 785.2h1.5v1.5h-1.5zM1079.9 786.7h1.5v1.5h-1.5zM1081.4 786.7h1.5v1.5h-1.5zM1088.9 786.7h1.5v1.5h-1.5zM1090.4 786.7h1.5v1.5h-1.5zM1091.9 786.7h1.5v1.5h-1.5zM1094.9 786.7h1.5v1.5h-1.5zM1103.9 786.7h1.5v1.5h-1.5zM1106.9 786.7h1.5v1.5h-1.5zM1079.9 788.2h1.5v1.5h-1.5zM1081.4 788.2h1.5v1.5h-1.5zM1087.4 788.2h1.5v1.5h-1.5zM1088.9 788.2h1.5v1.5h-1.5zM1091.9 788.2h1.5v1.5h-1.5zM1081.4 789.7h1.5v1.5h-1.5zM1097.9 789.7h1.5v1.5h-1.5zM1099.4 789.7h1.5v1.5h-1.5zM1102.4 789.7h1.5v1.5h-1.5zM1106.9 789.7h1.5v1.5h-1.5zM1078.4 791.2h1.5v1.5h-1.5zM1085.9 791.2h1.5v1.5h-1.5zM1097.9 791.2h1.5v1.5h-1.5zM1099.4 791.2h1.5v1.5h-1.5zM1102.4 791.2h1.5v1.5h-1.5zM1072.4 792.7h1.5v1.5h-1.5zM1079.9 792.7h1.5v1.5h-1.5zM1084.4 792.7h1.5v1.5h-1.5zM1085.9 792.7h1.5v1.5h-1.5zM1091.9 792.7h1.5v1.5h-1.5zM1096.4 792.7h1.5v1.5h-1.5zM1097.9 792.7h1.5v1.5h-1.5zM1109.9 792.7h1.5v1.5h-1.5zM1022.9 794.2h1.5v1.5h-1.5zM1073.9 794.2h1.5v1.5h-1.5zM1079.9 794.2h1.5v1.5h-1.5zM1084.4 794.2h1.5v1.5h-1.5zM1085.9 794.2h1.5v1.5h-1.5zM1090.4 794.2h1.5v1.5h-1.5zM1093.4 794.2h1.5v1.5h-1.5zM1106.9 794.2h1.5v1.5h-1.5zM1109.9 794.2h1.5v1.5h-1.5zM1114.4 794.2h1.5v1.5h-1.5zM1115.9 794.2h1.5v1.5h-1.5zM1075.4 795.7h1.5v1.5h-1.5zM1078.4 795.7h1.5v1.5h-1.5zM1079.9 795.7h1.5v1.5h-1.5zM1090.4 795.7h1.5v1.5h-1.5zM1093.4 795.7h1.5v1.5h-1.5zM1117.4 795.7h1.5v1.5h-1.5zM1019.9 797.2h1.5v1.5h-1.5zM1064.9 797.2h1.5v1.5h-1.5zM1067.9 797.2h1.5v1.5h-1.5zM1073.9 797.2h1.5v1.5h-1.5zM1090.4 797.2h1.5v1.5h-1.5zM1091.9 797.2h1.5v1.5h-1.5zM1094.9 797.2h1.5v1.5h-1.5zM1096.4 797.2h1.5v1.5h-1.5zM1097.9 797.2h1.5v1.5h-1.5zM1099.4 797.2h1.5v1.5h-1.5zM1102.4 797.2h1.5v1.5h-1.5zM1105.4 797.2h1.5v1.5h-1.5zM1109.9 797.2h1.5v1.5h-1.5zM1112.9 797.2h1.5v1.5h-1.5zM1117.4 797.2h1.5v1.5h-1.5zM1120.4 797.2h1.5v1.5h-1.5zM1066.4 798.7h1.5v1.5h-1.5zM1072.4 798.7h1.5v1.5h-1.5zM1079.9 798.7h1.5v1.5h-1.5zM1084.4 798.7h1.5v1.5h-1.5zM1088.9 798.7h1.5v1.5h-1.5zM1097.9 798.7h1.5v1.5h-1.5zM1102.4 798.7h1.5v1.5h-1.5zM1105.4 798.7h1.5v1.5h-1.5zM1067.9 800.2h1.5v1.5h-1.5zM1075.4 800.2h1.5v1.5h-1.5zM1076.9 800.2h1.5v1.5h-1.5zM1084.4 800.2h1.5v1.5h-1.5zM1085.9 800.2h1.5v1.5h-1.5zM1097.9 800.2h1.5v1.5h-1.5zM1106.9 800.2h1.5v1.5h-1.5zM1109.9 800.2h1.5v1.5h-1.5zM1115.9 800.2h1.5v1.5h-1.5zM1123.4 800.2h1.5v1.5h-1.5zM1066.4 801.7h1.5v1.5h-1.5zM1073.9 801.7h1.5v1.5h-1.5zM1076.9 801.7h1.5v1.5h-1.5zM1078.4 801.7h1.5v1.5h-1.5zM1082.9 801.7h1.5v1.5h-1.5zM1084.4 801.7h1.5v1.5h-1.5zM1087.4 801.7h1.5v1.5h-1.5zM1091.9 801.7h1.5v1.5h-1.5zM1097.9 801.7h1.5v1.5h-1.5zM1102.4 801.7h1.5v1.5h-1.5zM1106.9 801.7h1.5v1.5h-1.5zM1114.4 801.7h1.5v1.5h-1.5zM1117.4 801.7h1.5v1.5h-1.5zM1121.9 801.7h1.5v1.5h-1.5zM1067.9 803.2h1.5v1.5h-1.5zM1069.4 803.2h1.5v1.5h-1.5zM1072.4 803.2h1.5v1.5h-1.5zM1073.9 803.2h1.5v1.5h-1.5zM1078.4 803.2h1.5v1.5h-1.5zM1082.9 803.2h1.5v1.5h-1.5zM1084.4 803.2h1.5v1.5h-1.5zM1088.9 803.2h1.5v1.5h-1.5zM1096.4 803.2h1.5v1.5h-1.5zM1100.9 803.2h1.5v1.5h-1.5zM1103.9 803.2h1.5v1.5h-1.5zM1126.4 803.2h1.5v1.5h-1.5zM1049.9 804.7h1.5v1.5h-1.5zM1070.9 804.7h1.5v1.5h-1.5zM1079.9 804.7h1.5v1.5h-1.5zM1081.4 804.7h1.5v1.5h-1.5zM1082.9 804.7h1.5v1.5h-1.5zM1084.4 804.7h1.5v1.5h-1.5zM1091.9 804.7h1.5v1.5h-1.5zM1093.4 804.7h1.5v1.5h-1.5zM1097.9 804.7h1.5v1.5h-1.5zM1099.4 804.7h1.5v1.5h-1.5zM1103.9 804.7h1.5v1.5h-1.5zM1108.4 804.7h1.5v1.5h-1.5zM1072.4 806.2h1.5v1.5h-1.5zM1084.4 806.2h1.5v1.5h-1.5zM1088.9 806.2h1.5v1.5h-1.5zM1094.9 806.2h1.5v1.5h-1.5zM1103.9 806.2h1.5v1.5h-1.5zM1106.9 806.2h1.5v1.5h-1.5zM1109.9 806.2h1.5v1.5h-1.5zM1114.4 806.2h1.5v1.5h-1.5zM1120.4 806.2h1.5v1.5h-1.5zM1121.9 806.2h1.5v1.5h-1.5zM1066.4 807.7h1.5v1.5h-1.5zM1076.9 807.7h1.5v1.5h-1.5zM1091.9 807.7h1.5v1.5h-1.5zM1093.4 807.7h1.5v1.5h-1.5zM1094.9 807.7h1.5v1.5h-1.5zM1099.4 807.7h1.5v1.5h-1.5zM1103.9 807.7h1.5v1.5h-1.5zM1112.9 807.7h1.5v1.5h-1.5zM1148.9 807.7h1.5v1.5h-1.5zM1049.9 809.2h1.5v1.5h-1.5zM1064.9 809.2h1.5v1.5h-1.5zM1084.4 809.2h1.5v1.5h-1.5zM1087.4 809.2h1.5v1.5h-1.5zM1096.4 809.2h1.5v1.5h-1.5zM1099.4 809.2h1.5v1.5h-1.5zM1102.4 809.2h1.5v1.5h-1.5zM1103.9 809.2h1.5v1.5h-1.5zM1108.4 809.2h1.5v1.5h-1.5zM1111.4 809.2h1.5v1.5h-1.5zM1118.9 809.2h1.5v1.5h-1.5zM1123.4 809.2h1.5v1.5h-1.5zM1124.9 809.2h1.5v1.5h-1.5zM1033.4 810.7h1.5v1.5h-1.5zM1067.9 810.7h1.5v1.5h-1.5zM1073.9 810.7h1.5v1.5h-1.5zM1076.9 810.7h1.5v1.5h-1.5zM1079.9 810.7h1.5v1.5h-1.5zM1082.9 810.7h1.5v1.5h-1.5zM1088.9 810.7h1.5v1.5h-1.5zM1090.4 810.7h1.5v1.5h-1.5zM1094.9 810.7h1.5v1.5h-1.5zM1096.4 810.7h1.5v1.5h-1.5zM1099.4 810.7h1.5v1.5h-1.5zM1105.4 810.7h1.5v1.5h-1.5zM1109.9 810.7h1.5v1.5h-1.5zM1112.9 810.7h1.5v1.5h-1.5zM1118.9 810.7h1.5v1.5h-1.5zM1121.9 810.7h1.5v1.5h-1.5zM1126.4 810.7h1.5v1.5h-1.5zM1144.4 810.7h1.5v1.5h-1.5zM1054.4 812.2h1.5v1.5h-1.5zM1055.9 812.2h1.5v1.5h-1.5zM1060.4 812.2h1.5v1.5h-1.5zM1067.9 812.2h1.5v1.5h-1.5zM1069.4 812.2h1.5v1.5h-1.5zM1072.4 812.2h1.5v1.5h-1.5zM1073.9 812.2h1.5v1.5h-1.5zM1075.4 812.2h1.5v1.5h-1.5zM1076.9 812.2h1.5v1.5h-1.5zM1079.9 812.2h1.5v1.5h-1.5zM1081.4 812.2h1.5v1.5h-1.5zM1085.9 812.2h1.5v1.5h-1.5zM1091.9 812.2h1.5v1.5h-1.5zM1093.4 812.2h1.5v1.5h-1.5zM1094.9 812.2h1.5v1.5h-1.5zM1108.4 812.2h1.5v1.5h-1.5zM1112.9 812.2h1.5v1.5h-1.5zM1114.4 812.2h1.5v1.5h-1.5zM1115.9 812.2h1.5v1.5h-1.5zM1117.4 812.2h1.5v1.5h-1.5zM1120.4 812.2h1.5v1.5h-1.5zM1126.4 812.2h1.5v1.5h-1.5zM1129.4 812.2h1.5v1.5h-1.5zM1135.4 812.2h1.5v1.5h-1.5zM1055.9 813.7h1.5v1.5h-1.5zM1061.9 813.7h1.5v1.5h-1.5zM1063.4 813.7h1.5v1.5h-1.5zM1064.9 813.7h1.5v1.5h-1.5zM1067.9 813.7h1.5v1.5h-1.5zM1072.4 813.7h1.5v1.5h-1.5zM1075.4 813.7h1.5v1.5h-1.5zM1081.4 813.7h1.5v1.5h-1.5zM1087.4 813.7h1.5v1.5h-1.5zM1088.9 813.7h1.5v1.5h-1.5zM1090.4 813.7h1.5v1.5h-1.5zM1093.4 813.7h1.5v1.5h-1.5zM1094.9 813.7h1.5v1.5h-1.5zM1102.4 813.7h1.5v1.5h-1.5zM1103.9 813.7h1.5v1.5h-1.5zM1108.4 813.7h1.5v1.5h-1.5zM1117.4 813.7h1.5v1.5h-1.5zM1118.9 813.7h1.5v1.5h-1.5zM1120.4 813.7h1.5v1.5h-1.5zM1121.9 813.7h1.5v1.5h-1.5zM1123.4 813.7h1.5v1.5h-1.5zM1124.9 813.7h1.5v1.5h-1.5zM1138.4 813.7h1.5v1.5h-1.5zM1061.9 815.2h1.5v1.5h-1.5zM1067.9 815.2h1.5v1.5h-1.5zM1069.4 815.2h1.5v1.5h-1.5zM1070.9 815.2h1.5v1.5h-1.5zM1082.9 815.2h1.5v1.5h-1.5zM1085.9 815.2h1.5v1.5h-1.5zM1090.4 815.2h1.5v1.5h-1.5zM1094.9 815.2h1.5v1.5h-1.5zM1097.9 815.2h1.5v1.5h-1.5zM1099.4 815.2h1.5v1.5h-1.5zM1108.4 815.2h1.5v1.5h-1.5zM1109.9 815.2h1.5v1.5h-1.5zM1111.4 815.2h1.5v1.5h-1.5zM1115.9 815.2h1.5v1.5h-1.5zM1117.4 815.2h1.5v1.5h-1.5zM1123.4 815.2h1.5v1.5h-1.5zM1126.4 815.2h1.5v1.5h-1.5zM1127.9 815.2h1.5v1.5h-1.5zM1129.4 815.2h1.5v1.5h-1.5zM1130.9 815.2h1.5v1.5h-1.5zM1057.4 816.7h1.5v1.5h-1.5zM1060.4 816.7h1.5v1.5h-1.5zM1061.9 816.7h1.5v1.5h-1.5zM1063.4 816.7h1.5v1.5h-1.5zM1064.9 816.7h1.5v1.5h-1.5zM1075.4 816.7h1.5v1.5h-1.5zM1076.9 816.7h1.5v1.5h-1.5zM1087.4 816.7h1.5v1.5h-1.5zM1088.9 816.7h1.5v1.5h-1.5zM1094.9 816.7h1.5v1.5h-1.5zM1096.4 816.7h1.5v1.5h-1.5zM1097.9 816.7h1.5v1.5h-1.5zM1099.4 816.7h1.5v1.5h-1.5zM1103.9 816.7h1.5v1.5h-1.5zM1127.9 816.7h1.5v1.5h-1.5zM1132.4 816.7h1.5v1.5h-1.5zM1034.9 818.2h1.5v1.5h-1.5zM1061.9 818.2h1.5v1.5h-1.5zM1063.4 818.2h1.5v1.5h-1.5zM1064.9 818.2h1.5v1.5h-1.5zM1067.9 818.2h1.5v1.5h-1.5zM1072.4 818.2h1.5v1.5h-1.5zM1075.4 818.2h1.5v1.5h-1.5zM1085.9 818.2h1.5v1.5h-1.5zM1087.4 818.2h1.5v1.5h-1.5zM1090.4 818.2h1.5v1.5h-1.5zM1093.4 818.2h1.5v1.5h-1.5zM1099.4 818.2h1.5v1.5h-1.5zM1100.9 818.2h1.5v1.5h-1.5zM1109.9 818.2h1.5v1.5h-1.5zM1111.4 818.2h1.5v1.5h-1.5zM1114.4 818.2h1.5v1.5h-1.5zM1120.4 818.2h1.5v1.5h-1.5zM1123.4 818.2h1.5v1.5h-1.5zM1132.4 818.2h1.5v1.5h-1.5zM1133.9 818.2h1.5v1.5h-1.5zM1135.4 818.2h1.5v1.5h-1.5zM1147.4 818.2h1.5v1.5h-1.5zM1168.4 818.2h1.5v1.5h-1.5zM1055.9 819.7h1.5v1.5h-1.5zM1067.9 819.7h1.5v1.5h-1.5zM1070.9 819.7h1.5v1.5h-1.5zM1075.4 819.7h1.5v1.5h-1.5zM1076.9 819.7h1.5v1.5h-1.5zM1078.4 819.7h1.5v1.5h-1.5zM1081.4 819.7h1.5v1.5h-1.5zM1085.9 819.7h1.5v1.5h-1.5zM1087.4 819.7h1.5v1.5h-1.5zM1088.9 819.7h1.5v1.5h-1.5zM1096.4 819.7h1.5v1.5h-1.5zM1099.4 819.7h1.5v1.5h-1.5zM1105.4 819.7h1.5v1.5h-1.5zM1106.9 819.7h1.5v1.5h-1.5zM1111.4 819.7h1.5v1.5h-1.5zM1114.4 819.7h1.5v1.5h-1.5zM1118.9 819.7h1.5v1.5h-1.5zM1126.4 819.7h1.5v1.5h-1.5zM1127.9 819.7h1.5v1.5h-1.5zM1129.4 819.7h1.5v1.5h-1.5zM1130.9 819.7h1.5v1.5h-1.5zM1136.9 819.7h1.5v1.5h-1.5zM1046.9 821.2h1.5v1.5h-1.5zM1057.4 821.2h1.5v1.5h-1.5zM1081.4 821.2h1.5v1.5h-1.5zM1090.4 821.2h1.5v1.5h-1.5zM1093.4 821.2h1.5v1.5h-1.5zM1094.9 821.2h1.5v1.5h-1.5zM1099.4 821.2h1.5v1.5h-1.5zM1106.9 821.2h1.5v1.5h-1.5zM1109.9 821.2h1.5v1.5h-1.5zM1111.4 821.2h1.5v1.5h-1.5zM1114.4 821.2h1.5v1.5h-1.5zM1121.9 821.2h1.5v1.5h-1.5zM1126.4 821.2h1.5v1.5h-1.5zM1129.4 821.2h1.5v1.5h-1.5zM1153.4 821.2h1.5v1.5h-1.5zM1049.9 822.7h1.5v1.5h-1.5zM1054.4 822.7h1.5v1.5h-1.5zM1067.9 822.7h1.5v1.5h-1.5zM1070.9 822.7h1.5v1.5h-1.5zM1075.4 822.7h1.5v1.5h-1.5zM1081.4 822.7h1.5v1.5h-1.5zM1093.4 822.7h1.5v1.5h-1.5zM1097.9 822.7h1.5v1.5h-1.5zM1102.4 822.7h1.5v1.5h-1.5zM1108.4 822.7h1.5v1.5h-1.5zM1121.9 822.7h1.5v1.5h-1.5zM1123.4 822.7h1.5v1.5h-1.5zM1124.9 822.7h1.5v1.5h-1.5zM1126.4 822.7h1.5v1.5h-1.5zM1130.9 822.7h1.5v1.5h-1.5zM1132.4 822.7h1.5v1.5h-1.5zM1136.9 822.7h1.5v1.5h-1.5zM1039.4 824.2h1.5v1.5h-1.5zM1051.4 824.2h1.5v1.5h-1.5zM1052.9 824.2h1.5v1.5h-1.5zM1054.4 824.2h1.5v1.5h-1.5zM1061.9 824.2h1.5v1.5h-1.5zM1070.9 824.2h1.5v1.5h-1.5zM1073.9 824.2h1.5v1.5h-1.5zM1075.4 824.2h1.5v1.5h-1.5zM1082.9 824.2h1.5v1.5h-1.5zM1084.4 824.2h1.5v1.5h-1.5zM1090.4 824.2h1.5v1.5h-1.5zM1093.4 824.2h1.5v1.5h-1.5zM1097.9 824.2h1.5v1.5h-1.5zM1100.9 824.2h1.5v1.5h-1.5zM1103.9 824.2h1.5v1.5h-1.5zM1109.9 824.2h1.5v1.5h-1.5zM1112.9 824.2h1.5v1.5h-1.5zM1123.4 824.2h1.5v1.5h-1.5zM1126.4 824.2h1.5v1.5h-1.5zM1127.9 824.2h1.5v1.5h-1.5zM1133.9 824.2h1.5v1.5h-1.5zM1138.4 824.2h1.5v1.5h-1.5zM1144.4 824.2h1.5v1.5h-1.5zM1054.4 825.7h1.5v1.5h-1.5zM1066.4 825.7h1.5v1.5h-1.5zM1076.9 825.7h1.5v1.5h-1.5zM1079.9 825.7h1.5v1.5h-1.5zM1081.4 825.7h1.5v1.5h-1.5zM1090.4 825.7h1.5v1.5h-1.5zM1091.9 825.7h1.5v1.5h-1.5zM1103.9 825.7h1.5v1.5h-1.5zM1106.9 825.7h1.5v1.5h-1.5zM1112.9 825.7h1.5v1.5h-1.5zM1120.4 825.7h1.5v1.5h-1.5zM1121.9 825.7h1.5v1.5h-1.5zM1133.9 825.7h1.5v1.5h-1.5zM1135.4 825.7h1.5v1.5h-1.5zM1138.4 825.7h1.5v1.5h-1.5zM1139.9 825.7h1.5v1.5h-1.5zM1054.4 827.2h1.5v1.5h-1.5zM1058.9 827.2h1.5v1.5h-1.5zM1061.9 827.2h1.5v1.5h-1.5zM1078.4 827.2h1.5v1.5h-1.5zM1087.4 827.2h1.5v1.5h-1.5zM1088.9 827.2h1.5v1.5h-1.5zM1091.9 827.2h1.5v1.5h-1.5zM1103.9 827.2h1.5v1.5h-1.5zM1112.9 827.2h1.5v1.5h-1.5zM1121.9 827.2h1.5v1.5h-1.5zM1123.4 827.2h1.5v1.5h-1.5zM1132.4 827.2h1.5v1.5h-1.5zM1055.9 828.7h1.5v1.5h-1.5zM1060.4 828.7h1.5v1.5h-1.5zM1061.9 828.7h1.5v1.5h-1.5zM1070.9 828.7h1.5v1.5h-1.5zM1081.4 828.7h1.5v1.5h-1.5zM1082.9 828.7h1.5v1.5h-1.5zM1090.4 828.7h1.5v1.5h-1.5zM1097.9 828.7h1.5v1.5h-1.5zM1100.9 828.7h1.5v1.5h-1.5zM1114.4 828.7h1.5v1.5h-1.5zM1115.9 828.7h1.5v1.5h-1.5zM1120.4 828.7h1.5v1.5h-1.5zM1124.9 828.7h1.5v1.5h-1.5zM1126.4 828.7h1.5v1.5h-1.5zM1130.9 828.7h1.5v1.5h-1.5zM1135.4 828.7h1.5v1.5h-1.5zM1136.9 828.7h1.5v1.5h-1.5zM1138.4 828.7h1.5v1.5h-1.5zM1141.4 828.7h1.5v1.5h-1.5zM1045.4 830.2h1.5v1.5h-1.5zM1049.9 830.2h1.5v1.5h-1.5zM1051.4 830.2h1.5v1.5h-1.5zM1061.9 830.2h1.5v1.5h-1.5zM1069.4 830.2h1.5v1.5h-1.5zM1072.4 830.2h1.5v1.5h-1.5zM1076.9 830.2h1.5v1.5h-1.5zM1082.9 830.2h1.5v1.5h-1.5zM1087.4 830.2h1.5v1.5h-1.5zM1090.4 830.2h1.5v1.5h-1.5zM1094.9 830.2h1.5v1.5h-1.5zM1097.9 830.2h1.5v1.5h-1.5zM1099.4 830.2h1.5v1.5h-1.5zM1100.9 830.2h1.5v1.5h-1.5zM1111.4 830.2h1.5v1.5h-1.5zM1120.4 830.2h1.5v1.5h-1.5zM1123.4 830.2h1.5v1.5h-1.5zM1129.4 830.2h1.5v1.5h-1.5zM1130.9 830.2h1.5v1.5h-1.5zM1049.9 831.7h1.5v1.5h-1.5zM1055.9 831.7h1.5v1.5h-1.5zM1063.4 831.7h1.5v1.5h-1.5zM1067.9 831.7h1.5v1.5h-1.5zM1088.9 831.7h1.5v1.5h-1.5zM1100.9 831.7h1.5v1.5h-1.5zM1103.9 831.7h1.5v1.5h-1.5zM1105.4 831.7h1.5v1.5h-1.5zM1121.9 831.7h1.5v1.5h-1.5zM1123.4 831.7h1.5v1.5h-1.5zM1127.9 831.7h1.5v1.5h-1.5zM1139.9 831.7h1.5v1.5h-1.5zM1141.4 831.7h1.5v1.5h-1.5zM1048.4 833.2h1.5v1.5h-1.5zM1052.9 833.2h1.5v1.5h-1.5zM1054.4 833.2h1.5v1.5h-1.5zM1060.4 833.2h1.5v1.5h-1.5zM1063.4 833.2h1.5v1.5h-1.5zM1066.4 833.2h1.5v1.5h-1.5zM1067.9 833.2h1.5v1.5h-1.5zM1069.4 833.2h1.5v1.5h-1.5zM1072.4 833.2h1.5v1.5h-1.5zM1078.4 833.2h1.5v1.5h-1.5zM1079.9 833.2h1.5v1.5h-1.5zM1081.4 833.2h1.5v1.5h-1.5zM1082.9 833.2h1.5v1.5h-1.5zM1085.9 833.2h1.5v1.5h-1.5zM1088.9 833.2h1.5v1.5h-1.5zM1091.9 833.2h1.5v1.5h-1.5zM1093.4 833.2h1.5v1.5h-1.5zM1099.4 833.2h1.5v1.5h-1.5zM1100.9 833.2h1.5v1.5h-1.5zM1106.9 833.2h1.5v1.5h-1.5zM1108.4 833.2h1.5v1.5h-1.5zM1112.9 833.2h1.5v1.5h-1.5zM1117.4 833.2h1.5v1.5h-1.5zM1120.4 833.2h1.5v1.5h-1.5zM1123.4 833.2h1.5v1.5h-1.5zM1126.4 833.2h1.5v1.5h-1.5zM1127.9 833.2h1.5v1.5h-1.5zM1130.9 833.2h1.5v1.5h-1.5zM1051.4 834.7h1.5v1.5h-1.5zM1055.9 834.7h1.5v1.5h-1.5zM1070.9 834.7h1.5v1.5h-1.5zM1072.4 834.7h1.5v1.5h-1.5zM1075.4 834.7h1.5v1.5h-1.5zM1076.9 834.7h1.5v1.5h-1.5zM1078.4 834.7h1.5v1.5h-1.5zM1079.9 834.7h1.5v1.5h-1.5zM1081.4 834.7h1.5v1.5h-1.5zM1088.9 834.7h1.5v1.5h-1.5zM1094.9 834.7h1.5v1.5h-1.5zM1102.4 834.7h1.5v1.5h-1.5zM1103.9 834.7h1.5v1.5h-1.5zM1111.4 834.7h1.5v1.5h-1.5zM1112.9 834.7h1.5v1.5h-1.5zM1117.4 834.7h1.5v1.5h-1.5zM1118.9 834.7h1.5v1.5h-1.5zM1127.9 834.7h1.5v1.5h-1.5zM1132.4 834.7h1.5v1.5h-1.5zM1139.9 834.7h1.5v1.5h-1.5zM1048.4 836.2h1.5v1.5h-1.5zM1052.9 836.2h1.5v1.5h-1.5zM1057.4 836.2h1.5v1.5h-1.5zM1060.4 836.2h1.5v1.5h-1.5zM1072.4 836.2h1.5v1.5h-1.5zM1075.4 836.2h1.5v1.5h-1.5zM1076.9 836.2h1.5v1.5h-1.5zM1078.4 836.2h1.5v1.5h-1.5zM1079.9 836.2h1.5v1.5h-1.5zM1090.4 836.2h1.5v1.5h-1.5zM1091.9 836.2h1.5v1.5h-1.5zM1099.4 836.2h1.5v1.5h-1.5zM1105.4 836.2h1.5v1.5h-1.5zM1106.9 836.2h1.5v1.5h-1.5zM1108.4 836.2h1.5v1.5h-1.5zM1120.4 836.2h1.5v1.5h-1.5zM1126.4 836.2h1.5v1.5h-1.5zM1127.9 836.2h1.5v1.5h-1.5zM1133.9 836.2h1.5v1.5h-1.5zM1054.4 837.7h1.5v1.5h-1.5zM1057.4 837.7h1.5v1.5h-1.5zM1060.4 837.7h1.5v1.5h-1.5zM1064.9 837.7h1.5v1.5h-1.5zM1075.4 837.7h1.5v1.5h-1.5zM1091.9 837.7h1.5v1.5h-1.5zM1093.4 837.7h1.5v1.5h-1.5zM1096.4 837.7h1.5v1.5h-1.5zM1102.4 837.7h1.5v1.5h-1.5zM1103.9 837.7h1.5v1.5h-1.5zM1106.9 837.7h1.5v1.5h-1.5zM1111.4 837.7h1.5v1.5h-1.5zM1112.9 837.7h1.5v1.5h-1.5zM1115.9 837.7h1.5v1.5h-1.5zM1117.4 837.7h1.5v1.5h-1.5zM1120.4 837.7h1.5v1.5h-1.5zM1121.9 837.7h1.5v1.5h-1.5zM1126.4 837.7h1.5v1.5h-1.5zM1138.4 837.7h1.5v1.5h-1.5zM1151.9 837.7h1.5v1.5h-1.5zM1052.9 839.2h1.5v1.5h-1.5zM1054.4 839.2h1.5v1.5h-1.5zM1060.4 839.2h1.5v1.5h-1.5zM1064.9 839.2h1.5v1.5h-1.5zM1066.4 839.2h1.5v1.5h-1.5zM1072.4 839.2h1.5v1.5h-1.5zM1076.9 839.2h1.5v1.5h-1.5zM1078.4 839.2h1.5v1.5h-1.5zM1082.9 839.2h1.5v1.5h-1.5zM1087.4 839.2h1.5v1.5h-1.5zM1094.9 839.2h1.5v1.5h-1.5zM1096.4 839.2h1.5v1.5h-1.5zM1105.4 839.2h1.5v1.5h-1.5zM1108.4 839.2h1.5v1.5h-1.5zM1109.9 839.2h1.5v1.5h-1.5zM1121.9 839.2h1.5v1.5h-1.5zM1123.4 839.2h1.5v1.5h-1.5zM1126.4 839.2h1.5v1.5h-1.5zM1130.9 839.2h1.5v1.5h-1.5zM1054.4 840.7h1.5v1.5h-1.5zM1057.4 840.7h1.5v1.5h-1.5zM1061.9 840.7h1.5v1.5h-1.5zM1063.4 840.7h1.5v1.5h-1.5zM1064.9 840.7h1.5v1.5h-1.5zM1066.4 840.7h1.5v1.5h-1.5zM1069.4 840.7h1.5v1.5h-1.5zM1079.9 840.7h1.5v1.5h-1.5zM1082.9 840.7h1.5v1.5h-1.5zM1097.9 840.7h1.5v1.5h-1.5zM1108.4 840.7h1.5v1.5h-1.5zM1121.9 840.7h1.5v1.5h-1.5zM1129.4 840.7h1.5v1.5h-1.5zM1058.9 842.2h1.5v1.5h-1.5zM1064.9 842.2h1.5v1.5h-1.5zM1069.4 842.2h1.5v1.5h-1.5zM1070.9 842.2h1.5v1.5h-1.5zM1073.9 842.2h1.5v1.5h-1.5zM1076.9 842.2h1.5v1.5h-1.5zM1085.9 842.2h1.5v1.5h-1.5zM1091.9 842.2h1.5v1.5h-1.5zM1096.4 842.2h1.5v1.5h-1.5zM1109.9 842.2h1.5v1.5h-1.5zM1111.4 842.2h1.5v1.5h-1.5zM1115.9 842.2h1.5v1.5h-1.5zM1118.9 842.2h1.5v1.5h-1.5zM1121.9 842.2h1.5v1.5h-1.5zM1124.9 842.2h1.5v1.5h-1.5zM1126.4 842.2h1.5v1.5h-1.5zM1127.9 842.2h1.5v1.5h-1.5zM1129.4 842.2h1.5v1.5h-1.5zM1058.9 843.7h1.5v1.5h-1.5zM1061.9 843.7h1.5v1.5h-1.5zM1069.4 843.7h1.5v1.5h-1.5zM1072.4 843.7h1.5v1.5h-1.5zM1079.9 843.7h1.5v1.5h-1.5zM1081.4 843.7h1.5v1.5h-1.5zM1085.9 843.7h1.5v1.5h-1.5zM1115.9 843.7h1.5v1.5h-1.5zM1126.4 843.7h1.5v1.5h-1.5zM1127.9 843.7h1.5v1.5h-1.5zM1061.9 845.2h1.5v1.5h-1.5zM1063.4 845.2h1.5v1.5h-1.5zM1069.4 845.2h1.5v1.5h-1.5zM1072.4 845.2h1.5v1.5h-1.5zM1081.4 845.2h1.5v1.5h-1.5zM1085.9 845.2h1.5v1.5h-1.5zM1087.4 845.2h1.5v1.5h-1.5zM1090.4 845.2h1.5v1.5h-1.5zM1097.9 845.2h1.5v1.5h-1.5zM1108.4 845.2h1.5v1.5h-1.5zM1120.4 845.2h1.5v1.5h-1.5zM1154.9 845.2h1.5v1.5h-1.5zM1067.9 846.7h1.5v1.5h-1.5zM1087.4 846.7h1.5v1.5h-1.5zM1094.9 846.7h1.5v1.5h-1.5zM1096.4 846.7h1.5v1.5h-1.5zM1117.4 846.7h1.5v1.5h-1.5zM1118.9 846.7h1.5v1.5h-1.5zM1126.4 846.7h1.5v1.5h-1.5zM1061.9 848.2h1.5v1.5h-1.5zM1063.4 848.2h1.5v1.5h-1.5zM1069.4 848.2h1.5v1.5h-1.5zM1070.9 848.2h1.5v1.5h-1.5zM1081.4 848.2h1.5v1.5h-1.5zM1084.4 848.2h1.5v1.5h-1.5zM1085.9 848.2h1.5v1.5h-1.5zM1097.9 848.2h1.5v1.5h-1.5zM1100.9 848.2h1.5v1.5h-1.5zM1103.9 848.2h1.5v1.5h-1.5zM1105.4 848.2h1.5v1.5h-1.5zM1108.4 848.2h1.5v1.5h-1.5zM1111.4 848.2h1.5v1.5h-1.5zM1114.4 848.2h1.5v1.5h-1.5zM1115.9 848.2h1.5v1.5h-1.5zM1121.9 848.2h1.5v1.5h-1.5zM1127.9 848.2h1.5v1.5h-1.5zM1043.9 849.7h1.5v1.5h-1.5zM1057.4 849.7h1.5v1.5h-1.5zM1063.4 849.7h1.5v1.5h-1.5zM1066.4 849.7h1.5v1.5h-1.5zM1070.9 849.7h1.5v1.5h-1.5zM1073.9 849.7h1.5v1.5h-1.5zM1075.4 849.7h1.5v1.5h-1.5zM1082.9 849.7h1.5v1.5h-1.5zM1094.9 849.7h1.5v1.5h-1.5zM1099.4 849.7h1.5v1.5h-1.5zM1105.4 849.7h1.5v1.5h-1.5zM1106.9 849.7h1.5v1.5h-1.5zM1064.9 851.2h1.5v1.5h-1.5zM1067.9 851.2h1.5v1.5h-1.5zM1069.4 851.2h1.5v1.5h-1.5zM1070.9 851.2h1.5v1.5h-1.5zM1073.9 851.2h1.5v1.5h-1.5zM1078.4 851.2h1.5v1.5h-1.5zM1079.9 851.2h1.5v1.5h-1.5zM1082.9 851.2h1.5v1.5h-1.5zM1094.9 851.2h1.5v1.5h-1.5zM1096.4 851.2h1.5v1.5h-1.5zM1097.9 851.2h1.5v1.5h-1.5zM1099.4 851.2h1.5v1.5h-1.5zM1100.9 851.2h1.5v1.5h-1.5zM1103.9 851.2h1.5v1.5h-1.5zM1105.4 851.2h1.5v1.5h-1.5zM1106.9 851.2h1.5v1.5h-1.5zM1120.4 851.2h1.5v1.5h-1.5zM1067.9 852.7h1.5v1.5h-1.5zM1082.9 852.7h1.5v1.5h-1.5zM1085.9 852.7h1.5v1.5h-1.5zM1087.4 852.7h1.5v1.5h-1.5zM1096.4 852.7h1.5v1.5h-1.5zM1097.9 852.7h1.5v1.5h-1.5zM1102.4 852.7h1.5v1.5h-1.5zM1108.4 852.7h1.5v1.5h-1.5zM1112.9 852.7h1.5v1.5h-1.5zM1114.4 852.7h1.5v1.5h-1.5zM1115.9 852.7h1.5v1.5h-1.5zM1120.4 852.7h1.5v1.5h-1.5zM1025.9 854.2h1.5v1.5h-1.5zM1061.9 854.2h1.5v1.5h-1.5zM1063.4 854.2h1.5v1.5h-1.5zM1067.9 854.2h1.5v1.5h-1.5zM1073.9 854.2h1.5v1.5h-1.5zM1079.9 854.2h1.5v1.5h-1.5zM1081.4 854.2h1.5v1.5h-1.5zM1082.9 854.2h1.5v1.5h-1.5zM1084.4 854.2h1.5v1.5h-1.5zM1087.4 854.2h1.5v1.5h-1.5zM1097.9 854.2h1.5v1.5h-1.5zM1108.4 854.2h1.5v1.5h-1.5zM1109.9 854.2h1.5v1.5h-1.5zM1112.9 854.2h1.5v1.5h-1.5zM1051.4 855.7h1.5v1.5h-1.5zM1063.4 855.7h1.5v1.5h-1.5zM1066.4 855.7h1.5v1.5h-1.5zM1072.4 855.7h1.5v1.5h-1.5zM1073.9 855.7h1.5v1.5h-1.5zM1079.9 855.7h1.5v1.5h-1.5zM1081.4 855.7h1.5v1.5h-1.5zM1088.9 855.7h1.5v1.5h-1.5zM1097.9 855.7h1.5v1.5h-1.5zM1109.9 855.7h1.5v1.5h-1.5zM1111.4 855.7h1.5v1.5h-1.5zM1067.9 857.2h1.5v1.5h-1.5zM1073.9 857.2h1.5v1.5h-1.5zM1075.4 857.2h1.5v1.5h-1.5zM1081.4 857.2h1.5v1.5h-1.5zM1084.4 857.2h1.5v1.5h-1.5zM1088.9 857.2h1.5v1.5h-1.5zM1091.9 857.2h1.5v1.5h-1.5zM1094.9 857.2h1.5v1.5h-1.5zM1097.9 857.2h1.5v1.5h-1.5zM1109.9 857.2h1.5v1.5h-1.5zM1111.4 857.2h1.5v1.5h-1.5zM1112.9 857.2h1.5v1.5h-1.5zM1120.4 857.2h1.5v1.5h-1.5zM1076.9 858.7h1.5v1.5h-1.5zM1078.4 858.7h1.5v1.5h-1.5zM1093.4 858.7h1.5v1.5h-1.5zM1097.9 858.7h1.5v1.5h-1.5zM1099.4 858.7h1.5v1.5h-1.5zM1103.9 858.7h1.5v1.5h-1.5zM1112.9 858.7h1.5v1.5h-1.5zM1114.4 858.7h1.5v1.5h-1.5zM1115.9 858.7h1.5v1.5h-1.5zM1118.9 858.7h1.5v1.5h-1.5zM1121.9 858.7h1.5v1.5h-1.5zM1072.4 860.2h1.5v1.5h-1.5zM1073.9 860.2h1.5v1.5h-1.5zM1078.4 860.2h1.5v1.5h-1.5zM1079.9 860.2h1.5v1.5h-1.5zM1082.9 860.2h1.5v1.5h-1.5zM1090.4 860.2h1.5v1.5h-1.5zM1091.9 860.2h1.5v1.5h-1.5zM1094.9 860.2h1.5v1.5h-1.5zM1097.9 860.2h1.5v1.5h-1.5zM1103.9 860.2h1.5v1.5h-1.5zM1106.9 860.2h1.5v1.5h-1.5zM1109.9 860.2h1.5v1.5h-1.5zM1112.9 860.2h1.5v1.5h-1.5zM1076.9 861.7h1.5v1.5h-1.5zM1078.4 861.7h1.5v1.5h-1.5zM1097.9 861.7h1.5v1.5h-1.5zM1099.4 861.7h1.5v1.5h-1.5zM1100.9 861.7h1.5v1.5h-1.5zM1078.4 863.2h1.5v1.5h-1.5zM1081.4 863.2h1.5v1.5h-1.5zM1085.9 863.2h1.5v1.5h-1.5zM1087.4 863.2h1.5v1.5h-1.5zM1094.9 863.2h1.5v1.5h-1.5zM1105.4 863.2h1.5v1.5h-1.5zM1108.4 863.2h1.5v1.5h-1.5zM1109.9 863.2h1.5v1.5h-1.5zM1075.4 864.7h1.5v1.5h-1.5zM1084.4 864.7h1.5v1.5h-1.5zM1085.9 864.7h1.5v1.5h-1.5zM1090.4 864.7h1.5v1.5h-1.5zM1099.4 864.7h1.5v1.5h-1.5zM1078.4 866.2h1.5v1.5h-1.5zM1082.9 866.2h1.5v1.5h-1.5zM1087.4 866.2h1.5v1.5h-1.5zM1088.9 866.2h1.5v1.5h-1.5zM1100.9 866.2h1.5v1.5h-1.5zM1103.9 866.2h1.5v1.5h-1.5zM1105.4 866.2h1.5v1.5h-1.5zM1106.9 866.2h1.5v1.5h-1.5zM1069.4 867.7h1.5v1.5h-1.5zM1082.9 867.7h1.5v1.5h-1.5zM1085.9 867.7h1.5v1.5h-1.5zM1091.9 867.7h1.5v1.5h-1.5zM1094.9 867.7h1.5v1.5h-1.5zM1096.4 867.7h1.5v1.5h-1.5zM1099.4 867.7h1.5v1.5h-1.5zM1103.9 867.7h1.5v1.5h-1.5zM1109.9 867.7h1.5v1.5h-1.5zM1085.9 869.2h1.5v1.5h-1.5zM1088.9 869.2h1.5v1.5h-1.5zM1093.4 869.2h1.5v1.5h-1.5zM1148.9 869.2h1.5v1.5h-1.5zM1082.9 870.7h1.5v1.5h-1.5zM1085.9 870.7h1.5v1.5h-1.5zM1087.4 870.7h1.5v1.5h-1.5zM1088.9 870.7h1.5v1.5h-1.5zM1090.4 870.7h1.5v1.5h-1.5zM1091.9 870.7h1.5v1.5h-1.5zM1094.9 870.7h1.5v1.5h-1.5zM1100.9 870.7h1.5v1.5h-1.5zM1087.4 872.2h1.5v1.5h-1.5zM1091.9 872.2h1.5v1.5h-1.5zM1093.4 872.2h1.5v1.5h-1.5zM1094.9 872.2h1.5v1.5h-1.5zM1099.4 872.2h1.5v1.5h-1.5zM1102.4 872.2h1.5v1.5h-1.5zM1111.4 872.2h1.5v1.5h-1.5zM1082.9 873.7h1.5v1.5h-1.5zM1090.4 873.7h1.5v1.5h-1.5zM1094.9 873.7h1.5v1.5h-1.5zM1097.9 873.7h1.5v1.5h-1.5zM1085.9 875.2h1.5v1.5h-1.5zM1093.4 875.2h1.5v1.5h-1.5zM1082.9 876.7h1.5v1.5h-1.5zM1093.4 876.7h1.5v1.5h-1.5zM1102.4 876.7h1.5v1.5h-1.5zM1082.9 878.2h1.5v1.5h-1.5zM1085.9 879.7h1.5v1.5h-1.5zM1090.4 879.7h1.5v1.5h-1.5zM1093.4 879.7h1.5v1.5h-1.5zM1096.4 879.7h1.5v1.5h-1.5zM1100.9 879.7h1.5v1.5h-1.5zM1102.4 879.7h1.5v1.5h-1.5zM1087.4 881.2h1.5v1.5h-1.5zM1090.4 881.2h1.5v1.5h-1.5zM1091.9 881.2h1.5v1.5h-1.5zM1096.4 881.2h1.5v1.5h-1.5zM1021.4 882.7h1.5v1.5h-1.5zM1090.4 882.7h1.5v1.5h-1.5zM1091.9 882.7h1.5v1.5h-1.5zM1096.4 882.7h1.5v1.5h-1.5zM1099.4 882.7h1.5v1.5h-1.5zM1091.9 888.7h1.5v1.5h-1.5zM1091.9 891.7h1.5v1.5h-1.5zM1066.4 896.2h1.5v1.5h-1.5zM1112.9 896.2h1.5v1.5h-1.5zM1099.4 900.7h1.5v1.5h-1.5zM1156.4 902.2h1.5v1.5h-1.5zM1094.9 903.7h1.5v1.5h-1.5zM1112.9 905.2h1.5v1.5h-1.5z" fill="#b4b4b4"/>
<path d="M1094.9 776.2h1.5v1.5h-1.5zM1091.9 777.7h1.5v1.5h-1.5zM1096.4 779.2h1.5v1.5h-1.5zM1088.9 780.7h1.5v1.5h-1.5zM1094.9 780.7h1.5v1.5h-1.5zM1099.4 780.7h1.5v1.5h-1.5zM1088.9 782.2h1.5v1.5h-1.5zM1093.4 782.2h1.5v1.5h-1.5zM1094.9 782.2h1.5v1.5h-1.5zM1100.9 782.2h1.5v1.5h-1.5zM1097.9 783.7h1.5v1.5h-1.5zM1100.9 783.7h1.5v1.5h-1.5zM1084.4 785.2h1.5v1.5h-1.5zM1087.4 785.2h1.5v1.5h-1.5zM1088.9 785.2h1.5v1.5h-1.5zM1093.4 785.2h1.5v1.5h-1.5zM1096.4 785.2h1.5v1.5h-1.5zM1097.9 785.2h1.5v1.5h-1.5zM1099.4 785.2h1.5v1.5h-1.5zM1085.9 786.7h1.5v1.5h-1.5zM1093.4 786.7h1.5v1.5h-1.5zM1105.4 786.7h1.5v1.5h-1.5zM1084.4 788.2h1.5v1.5h-1.5zM1090.4 788.2h1.5v1.5h-1.5zM1099.4 788.2h1.5v1.5h-1.5zM1106.9 788.2h1.5v1.5h-1.5zM1079.9 789.7h1.5v1.5h-1.5zM1082.9 789.7h1.5v1.5h-1.5zM1084.4 789.7h1.5v1.5h-1.5zM1085.9 789.7h1.5v1.5h-1.5zM1087.4 789.7h1.5v1.5h-1.5zM1090.4 789.7h1.5v1.5h-1.5zM1100.9 789.7h1.5v1.5h-1.5zM1103.9 789.7h1.5v1.5h-1.5zM1081.4 791.2h1.5v1.5h-1.5zM1088.9 791.2h1.5v1.5h-1.5zM1090.4 791.2h1.5v1.5h-1.5zM1093.4 791.2h1.5v1.5h-1.5zM1094.9 791.2h1.5v1.5h-1.5zM1096.4 791.2h1.5v1.5h-1.5zM1105.4 791.2h1.5v1.5h-1.5zM1076.9 792.7h1.5v1.5h-1.5zM1081.4 792.7h1.5v1.5h-1.5zM1082.9 792.7h1.5v1.5h-1.5zM1087.4 792.7h1.5v1.5h-1.5zM1088.9 792.7h1.5v1.5h-1.5zM1090.4 792.7h1.5v1.5h-1.5zM1094.9 792.7h1.5v1.5h-1.5zM1102.4 792.7h1.5v1.5h-1.5zM1105.4 792.7h1.5v1.5h-1.5zM1076.9 794.2h1.5v1.5h-1.5zM1082.9 794.2h1.5v1.5h-1.5zM1100.9 794.2h1.5v1.5h-1.5zM1105.4 794.2h1.5v1.5h-1.5zM1084.4 795.7h1.5v1.5h-1.5zM1088.9 795.7h1.5v1.5h-1.5zM1096.4 795.7h1.5v1.5h-1.5zM1099.4 795.7h1.5v1.5h-1.5zM1100.9 795.7h1.5v1.5h-1.5zM1102.4 795.7h1.5v1.5h-1.5zM1106.9 795.7h1.5v1.5h-1.5zM1075.4 797.2h1.5v1.5h-1.5zM1085.9 797.2h1.5v1.5h-1.5zM1075.4 798.7h1.5v1.5h-1.5zM1087.4 798.7h1.5v1.5h-1.5zM1090.4 798.7h1.5v1.5h-1.5zM1099.4 798.7h1.5v1.5h-1.5zM1100.9 798.7h1.5v1.5h-1.5zM1108.4 798.7h1.5v1.5h-1.5zM1070.9 800.2h1.5v1.5h-1.5zM1079.9 800.2h1.5v1.5h-1.5zM1091.9 800.2h1.5v1.5h-1.5zM1100.9 800.2h1.5v1.5h-1.5zM1103.9 800.2h1.5v1.5h-1.5zM1112.9 800.2h1.5v1.5h-1.5zM1072.4 801.7h1.5v1.5h-1.5zM1094.9 801.7h1.5v1.5h-1.5zM1111.4 801.7h1.5v1.5h-1.5zM1112.9 801.7h1.5v1.5h-1.5zM1115.9 801.7h1.5v1.5h-1.5zM1075.4 803.2h1.5v1.5h-1.5zM1091.9 803.2h1.5v1.5h-1.5zM1102.4 803.2h1.5v1.5h-1.5zM1109.9 803.2h1.5v1.5h-1.5zM1112.9 803.2h1.5v1.5h-1.5zM1114.4 803.2h1.5v1.5h-1.5zM1120.4 803.2h1.5v1.5h-1.5zM1069.4 804.7h1.5v1.5h-1.5zM1072.4 804.7h1.5v1.5h-1.5zM1073.9 804.7h1.5v1.5h-1.5zM1076.9 804.7h1.5v1.5h-1.5zM1078.4 804.7h1.5v1.5h-1.5zM1085.9 804.7h1.5v1.5h-1.5zM1090.4 804.7h1.5v1.5h-1.5zM1106.9 804.7h1.5v1.5h-1.5zM1109.9 804.7h1.5v1.5h-1.5zM1117.4 804.7h1.5v1.5h-1.5zM1118.9 804.7h1.5v1.5h-1.5zM1120.4 804.7h1.5v1.5h-1.5zM1066.4 806.2h1.5v1.5h-1.5zM1067.9 806.2h1.5v1.5h-1.5zM1069.4 806.2h1.5v1.5h-1.5zM1070.9 806.2h1.5v1.5h-1.5zM1075.4 806.2h1.5v1.5h-1.5zM1076.9 806.2h1.5v1.5h-1.5zM1078.4 806.2h1.5v1.5h-1.5zM1082.9 806.2h1.5v1.5h-1.5zM1090.4 806.2h1.5v1.5h-1.5zM1091.9 806.2h1.5v1.5h-1.5zM1093.4 806.2h1.5v1.5h-1.5zM1096.4 806.2h1.5v1.5h-1.5zM1100.9 806.2h1.5v1.5h-1.5zM1102.4 806.2h1.5v1.5h-1.5zM1108.4 806.2h1.5v1.5h-1.5zM1123.4 806.2h1.5v1.5h-1.5zM1072.4 807.7h1.5v1.5h-1.5zM1073.9 807.7h1.5v1.5h-1.5zM1075.4 807.7h1.5v1.5h-1.5zM1079.9 807.7h1.5v1.5h-1.5zM1084.4 807.7h1.5v1.5h-1.5zM1085.9 807.7h1.5v1.5h-1.5zM1088.9 807.7h1.5v1.5h-1.5zM1106.9 807.7h1.5v1.5h-1.5zM1115.9 807.7h1.5v1.5h-1.5zM1120.4 807.7h1.5v1.5h-1.5zM1121.9 807.7h1.5v1.5h-1.5zM1124.9 807.7h1.5v1.5h-1.5zM1066.4 809.2h1.5v1.5h-1.5zM1069.4 809.2h1.5v1.5h-1.5zM1072.4 809.2h1.5v1.5h-1.5zM1073.9 809.2h1.5v1.5h-1.5zM1075.4 809.2h1.5v1.5h-1.5zM1105.4 809.2h1.5v1.5h-1.5zM1112.9 809.2h1.5v1.5h-1.5zM1115.9 809.2h1.5v1.5h-1.5zM1120.4 809.2h1.5v1.5h-1.5zM1126.4 809.2h1.5v1.5h-1.5zM1061.9 810.7h1.5v1.5h-1.5zM1063.4 810.7h1.5v1.5h-1.5zM1064.9 810.7h1.5v1.5h-1.5zM1070.9 810.7h1.5v1.5h-1.5zM1084.4 810.7h1.5v1.5h-1.5zM1085.9 810.7h1.5v1.5h-1.5zM1093.4 810.7h1.5v1.5h-1.5zM1108.4 810.7h1.5v1.5h-1.5zM1117.4 810.7h1.5v1.5h-1.5zM1120.4 810.7h1.5v1.5h-1.5zM1127.9 810.7h1.5v1.5h-1.5zM1061.9 812.2h1.5v1.5h-1.5zM1063.4 812.2h1.5v1.5h-1.5zM1070.9 812.2h1.5v1.5h-1.5zM1078.4 812.2h1.5v1.5h-1.5zM1097.9 812.2h1.5v1.5h-1.5zM1111.4 812.2h1.5v1.5h-1.5zM1121.9 812.2h1.5v1.5h-1.5zM1124.9 812.2h1.5v1.5h-1.5zM1066.4 813.7h1.5v1.5h-1.5zM1079.9 813.7h1.5v1.5h-1.5zM1096.4 813.7h1.5v1.5h-1.5zM1097.9 813.7h1.5v1.5h-1.5zM1106.9 813.7h1.5v1.5h-1.5zM1109.9 813.7h1.5v1.5h-1.5zM1127.9 813.7h1.5v1.5h-1.5zM1060.4 815.2h1.5v1.5h-1.5zM1064.9 815.2h1.5v1.5h-1.5zM1072.4 815.2h1.5v1.5h-1.5zM1073.9 815.2h1.5v1.5h-1.5zM1075.4 815.2h1.5v1.5h-1.5zM1078.4 815.2h1.5v1.5h-1.5zM1091.9 815.2h1.5v1.5h-1.5zM1096.4 815.2h1.5v1.5h-1.5zM1102.4 815.2h1.5v1.5h-1.5zM1105.4 815.2h1.5v1.5h-1.5zM1112.9 815.2h1.5v1.5h-1.5zM1120.4 815.2h1.5v1.5h-1.5zM1132.4 815.2h1.5v1.5h-1.5zM1069.4 816.7h1.5v1.5h-1.5zM1078.4 816.7h1.5v1.5h-1.5zM1079.9 816.7h1.5v1.5h-1.5zM1081.4 816.7h1.5v1.5h-1.5zM1082.9 816.7h1.5v1.5h-1.5zM1084.4 816.7h1.5v1.5h-1.5zM1090.4 816.7h1.5v1.5h-1.5zM1093.4 816.7h1.5v1.5h-1.5zM1111.4 816.7h1.5v1.5h-1.5zM1121.9 816.7h1.5v1.5h-1.5zM1123.4 816.7h1.5v1.5h-1.5zM1124.9 816.7h1.5v1.5h-1.5zM1133.9 816.7h1.5v1.5h-1.5zM1057.4 818.2h1.5v1.5h-1.5zM1070.9 818.2h1.5v1.5h-1.5zM1073.9 818.2h1.5v1.5h-1.5zM1079.9 818.2h1.5v1.5h-1.5zM1081.4 818.2h1.5v1.5h-1.5zM1096.4 818.2h1.5v1.5h-1.5zM1102.4 818.2h1.5v1.5h-1.5zM1103.9 818.2h1.5v1.5h-1.5zM1106.9 818.2h1.5v1.5h-1.5zM1124.9 818.2h1.5v1.5h-1.5zM1130.9 818.2h1.5v1.5h-1.5zM1054.4 819.7h1.5v1.5h-1.5zM1072.4 819.7h1.5v1.5h-1.5zM1079.9 819.7h1.5v1.5h-1.5zM1082.9 819.7h1.5v1.5h-1.5zM1093.4 819.7h1.5v1.5h-1.5zM1100.9 819.7h1.5v1.5h-1.5zM1102.4 819.7h1.5v1.5h-1.5zM1108.4 819.7h1.5v1.5h-1.5zM1115.9 819.7h1.5v1.5h-1.5zM1120.4 819.7h1.5v1.5h-1.5zM1123.4 819.7h1.5v1.5h-1.5zM1135.4 819.7h1.5v1.5h-1.5zM1054.4 821.2h1.5v1.5h-1.5zM1055.9 821.2h1.5v1.5h-1.5zM1060.4 821.2h1.5v1.5h-1.5zM1070.9 821.2h1.5v1.5h-1.5zM1072.4 821.2h1.5v1.5h-1.5zM1084.4 821.2h1.5v1.5h-1.5zM1085.9 821.2h1.5v1.5h-1.5zM1087.4 821.2h1.5v1.5h-1.5zM1088.9 821.2h1.5v1.5h-1.5zM1096.4 821.2h1.5v1.5h-1.5zM1097.9 821.2h1.5v1.5h-1.5zM1115.9 821.2h1.5v1.5h-1.5zM1117.4 821.2h1.5v1.5h-1.5zM1120.4 821.2h1.5v1.5h-1.5zM1127.9 821.2h1.5v1.5h-1.5zM1133.9 821.2h1.5v1.5h-1.5zM1135.4 821.2h1.5v1.5h-1.5zM1136.9 821.2h1.5v1.5h-1.5zM1138.4 821.2h1.5v1.5h-1.5zM1051.4 822.7h1.5v1.5h-1.5zM1052.9 822.7h1.5v1.5h-1.5zM1069.4 822.7h1.5v1.5h-1.5zM1076.9 822.7h1.5v1.5h-1.5zM1082.9 822.7h1.5v1.5h-1.5zM1088.9 822.7h1.5v1.5h-1.5zM1096.4 822.7h1.5v1.5h-1.5zM1099.4 822.7h1.5v1.5h-1.5zM1100.9 822.7h1.5v1.5h-1.5zM1114.4 822.7h1.5v1.5h-1.5zM1129.4 822.7h1.5v1.5h-1.5zM1133.9 822.7h1.5v1.5h-1.5zM1091.9 824.2h1.5v1.5h-1.5zM1094.9 824.2h1.5v1.5h-1.5zM1096.4 824.2h1.5v1.5h-1.5zM1099.4 824.2h1.5v1.5h-1.5zM1106.9 824.2h1.5v1.5h-1.5zM1111.4 824.2h1.5v1.5h-1.5zM1115.9 824.2h1.5v1.5h-1.5zM1117.4 824.2h1.5v1.5h-1.5zM1118.9 824.2h1.5v1.5h-1.5zM1120.4 824.2h1.5v1.5h-1.5zM1124.9 824.2h1.5v1.5h-1.5zM1136.9 824.2h1.5v1.5h-1.5zM1049.9 825.7h1.5v1.5h-1.5zM1055.9 825.7h1.5v1.5h-1.5zM1058.9 825.7h1.5v1.5h-1.5zM1072.4 825.7h1.5v1.5h-1.5zM1073.9 825.7h1.5v1.5h-1.5zM1082.9 825.7h1.5v1.5h-1.5zM1087.4 825.7h1.5v1.5h-1.5zM1088.9 825.7h1.5v1.5h-1.5zM1097.9 825.7h1.5v1.5h-1.5zM1105.4 825.7h1.5v1.5h-1.5zM1108.4 825.7h1.5v1.5h-1.5zM1114.4 825.7h1.5v1.5h-1.5zM1126.4 825.7h1.5v1.5h-1.5zM1129.4 825.7h1.5v1.5h-1.5zM1136.9 825.7h1.5v1.5h-1.5zM1141.4 825.7h1.5v1.5h-1.5zM1051.4 827.2h1.5v1.5h-1.5zM1069.4 827.2h1.5v1.5h-1.5zM1070.9 827.2h1.5v1.5h-1.5zM1079.9 827.2h1.5v1.5h-1.5zM1081.4 827.2h1.5v1.5h-1.5zM1100.9 827.2h1.5v1.5h-1.5zM1109.9 827.2h1.5v1.5h-1.5zM1111.4 827.2h1.5v1.5h-1.5zM1117.4 827.2h1.5v1.5h-1.5zM1127.9 827.2h1.5v1.5h-1.5zM1138.4 827.2h1.5v1.5h-1.5zM1139.9 827.2h1.5v1.5h-1.5zM1048.4 828.7h1.5v1.5h-1.5zM1049.9 828.7h1.5v1.5h-1.5zM1057.4 828.7h1.5v1.5h-1.5zM1058.9 828.7h1.5v1.5h-1.5zM1064.9 828.7h1.5v1.5h-1.5zM1066.4 828.7h1.5v1.5h-1.5zM1072.4 828.7h1.5v1.5h-1.5zM1078.4 828.7h1.5v1.5h-1.5zM1079.9 828.7h1.5v1.5h-1.5zM1084.4 828.7h1.5v1.5h-1.5zM1087.4 828.7h1.5v1.5h-1.5zM1088.9 828.7h1.5v1.5h-1.5zM1093.4 828.7h1.5v1.5h-1.5zM1102.4 828.7h1.5v1.5h-1.5zM1109.9 828.7h1.5v1.5h-1.5zM1111.4 828.7h1.5v1.5h-1.5zM1129.4 828.7h1.5v1.5h-1.5zM1058.9 830.2h1.5v1.5h-1.5zM1060.4 830.2h1.5v1.5h-1.5zM1073.9 830.2h1.5v1.5h-1.5zM1078.4 830.2h1.5v1.5h-1.5zM1081.4 830.2h1.5v1.5h-1.5zM1084.4 830.2h1.5v1.5h-1.5zM1096.4 830.2h1.5v1.5h-1.5zM1106.9 830.2h1.5v1.5h-1.5zM1114.4 830.2h1.5v1.5h-1.5zM1115.9 830.2h1.5v1.5h-1.5zM1117.4 830.2h1.5v1.5h-1.5zM1048.4 831.7h1.5v1.5h-1.5zM1051.4 831.7h1.5v1.5h-1.5zM1057.4 831.7h1.5v1.5h-1.5zM1058.9 831.7h1.5v1.5h-1.5zM1064.9 831.7h1.5v1.5h-1.5zM1066.4 831.7h1.5v1.5h-1.5zM1069.4 831.7h1.5v1.5h-1.5zM1072.4 831.7h1.5v1.5h-1.5zM1076.9 831.7h1.5v1.5h-1.5zM1078.4 831.7h1.5v1.5h-1.5zM1082.9 831.7h1.5v1.5h-1.5zM1087.4 831.7h1.5v1.5h-1.5zM1094.9 831.7h1.5v1.5h-1.5zM1099.4 831.7h1.5v1.5h-1.5zM1108.4 831.7h1.5v1.5h-1.5zM1117.4 831.7h1.5v1.5h-1.5zM1126.4 831.7h1.5v1.5h-1.5zM1129.4 831.7h1.5v1.5h-1.5zM1135.4 831.7h1.5v1.5h-1.5zM1057.4 833.2h1.5v1.5h-1.5zM1076.9 833.2h1.5v1.5h-1.5zM1084.4 833.2h1.5v1.5h-1.5zM1094.9 833.2h1.5v1.5h-1.5zM1097.9 833.2h1.5v1.5h-1.5zM1103.9 833.2h1.5v1.5h-1.5zM1121.9 833.2h1.5v1.5h-1.5zM1129.4 833.2h1.5v1.5h-1.5zM1133.9 833.2h1.5v1.5h-1.5zM1052.9 834.7h1.5v1.5h-1.5zM1057.4 834.7h1.5v1.5h-1.5zM1060.4 834.7h1.5v1.5h-1.5zM1082.9 834.7h1.5v1.5h-1.5zM1084.4 834.7h1.5v1.5h-1.5zM1085.9 834.7h1.5v1.5h-1.5zM1087.4 834.7h1.5v1.5h-1.5zM1090.4 834.7h1.5v1.5h-1.5zM1096.4 834.7h1.5v1.5h-1.5zM1109.9 834.7h1.5v1.5h-1.5zM1124.9 834.7h1.5v1.5h-1.5zM1133.9 834.7h1.5v1.5h-1.5zM1054.4 836.2h1.5v1.5h-1.5zM1055.9 836.2h1.5v1.5h-1.5zM1058.9 836.2h1.5v1.5h-1.5zM1064.9 836.2h1.5v1.5h-1.5zM1069.4 836.2h1.5v1.5h-1.5zM1081.4 836.2h1.5v1.5h-1.5zM1082.9 836.2h1.5v1.5h-1.5zM1093.4 836.2h1.5v1.5h-1.5zM1102.4 836.2h1.5v1.5h-1.5zM1117.4 836.2h1.5v1.5h-1.5zM1118.9 836.2h1.5v1.5h-1.5zM1129.4 836.2h1.5v1.5h-1.5zM1132.4 836.2h1.5v1.5h-1.5zM1067.9 837.7h1.5v1.5h-1.5zM1078.4 837.7h1.5v1.5h-1.5zM1087.4 837.7h1.5v1.5h-1.5zM1090.4 837.7h1.5v1.5h-1.5zM1097.9 837.7h1.5v1.5h-1.5zM1099.4 837.7h1.5v1.5h-1.5zM1118.9 837.7h1.5v1.5h-1.5zM1123.4 837.7h1.5v1.5h-1.5zM1129.4 837.7h1.5v1.5h-1.5zM1130.9 837.7h1.5v1.5h-1.5zM1132.4 837.7h1.5v1.5h-1.5zM1063.4 839.2h1.5v1.5h-1.5zM1070.9 839.2h1.5v1.5h-1.5zM1073.9 839.2h1.5v1.5h-1.5zM1075.4 839.2h1.5v1.5h-1.5zM1081.4 839.2h1.5v1.5h-1.5zM1084.4 839.2h1.5v1.5h-1.5zM1103.9 839.2h1.5v1.5h-1.5zM1114.4 839.2h1.5v1.5h-1.5zM1115.9 839.2h1.5v1.5h-1.5zM1120.4 839.2h1.5v1.5h-1.5zM1127.9 839.2h1.5v1.5h-1.5zM1055.9 840.7h1.5v1.5h-1.5zM1070.9 840.7h1.5v1.5h-1.5zM1090.4 840.7h1.5v1.5h-1.5zM1096.4 840.7h1.5v1.5h-1.5zM1100.9 840.7h1.5v1.5h-1.5zM1106.9 840.7h1.5v1.5h-1.5zM1114.4 840.7h1.5v1.5h-1.5zM1115.9 840.7h1.5v1.5h-1.5zM1126.4 840.7h1.5v1.5h-1.5zM1061.9 842.2h1.5v1.5h-1.5zM1067.9 842.2h1.5v1.5h-1.5zM1072.4 842.2h1.5v1.5h-1.5zM1078.4 842.2h1.5v1.5h-1.5zM1079.9 842.2h1.5v1.5h-1.5zM1082.9 842.2h1.5v1.5h-1.5zM1093.4 842.2h1.5v1.5h-1.5zM1112.9 842.2h1.5v1.5h-1.5zM1073.9 843.7h1.5v1.5h-1.5zM1076.9 843.7h1.5v1.5h-1.5zM1088.9 843.7h1.5v1.5h-1.5zM1091.9 843.7h1.5v1.5h-1.5zM1093.4 843.7h1.5v1.5h-1.5zM1094.9 843.7h1.5v1.5h-1.5zM1099.4 843.7h1.5v1.5h-1.5zM1100.9 843.7h1.5v1.5h-1.5zM1105.4 843.7h1.5v1.5h-1.5zM1121.9 843.7h1.5v1.5h-1.5zM1124.9 843.7h1.5v1.5h-1.5zM1067.9 845.2h1.5v1.5h-1.5zM1076.9 845.2h1.5v1.5h-1.5zM1106.9 845.2h1.5v1.5h-1.5zM1112.9 845.2h1.5v1.5h-1.5zM1117.4 845.2h1.5v1.5h-1.5zM1123.4 845.2h1.5v1.5h-1.5zM1124.9 845.2h1.5v1.5h-1.5zM1061.9 846.7h1.5v1.5h-1.5zM1064.9 846.7h1.5v1.5h-1.5zM1066.4 846.7h1.5v1.5h-1.5zM1072.4 846.7h1.5v1.5h-1.5zM1076.9 846.7h1.5v1.5h-1.5zM1078.4 846.7h1.5v1.5h-1.5zM1085.9 846.7h1.5v1.5h-1.5zM1088.9 846.7h1.5v1.5h-1.5zM1091.9 846.7h1.5v1.5h-1.5zM1100.9 846.7h1.5v1.5h-1.5zM1105.4 846.7h1.5v1.5h-1.5zM1108.4 846.7h1.5v1.5h-1.5zM1112.9 846.7h1.5v1.5h-1.5zM1114.4 846.7h1.5v1.5h-1.5zM1120.4 846.7h1.5v1.5h-1.5zM1123.4 846.7h1.5v1.5h-1.5zM1078.4 848.2h1.5v1.5h-1.5zM1088.9 848.2h1.5v1.5h-1.5zM1099.4 848.2h1.5v1.5h-1.5zM1118.9 848.2h1.5v1.5h-1.5zM1120.4 848.2h1.5v1.5h-1.5zM1124.9 848.2h1.5v1.5h-1.5zM1088.9 849.7h1.5v1.5h-1.5zM1103.9 849.7h1.5v1.5h-1.5zM1108.4 849.7h1.5v1.5h-1.5zM1109.9 849.7h1.5v1.5h-1.5zM1115.9 849.7h1.5v1.5h-1.5zM1066.4 851.2h1.5v1.5h-1.5zM1072.4 851.2h1.5v1.5h-1.5zM1075.4 851.2h1.5v1.5h-1.5zM1087.4 851.2h1.5v1.5h-1.5zM1088.9 851.2h1.5v1.5h-1.5zM1093.4 851.2h1.5v1.5h-1.5zM1102.4 851.2h1.5v1.5h-1.5zM1108.4 851.2h1.5v1.5h-1.5zM1109.9 851.2h1.5v1.5h-1.5zM1111.4 851.2h1.5v1.5h-1.5zM1112.9 851.2h1.5v1.5h-1.5zM1073.9 852.7h1.5v1.5h-1.5zM1079.9 852.7h1.5v1.5h-1.5zM1111.4 852.7h1.5v1.5h-1.5zM1117.4 852.7h1.5v1.5h-1.5zM1075.4 854.2h1.5v1.5h-1.5zM1078.4 854.2h1.5v1.5h-1.5zM1088.9 854.2h1.5v1.5h-1.5zM1093.4 854.2h1.5v1.5h-1.5zM1106.9 854.2h1.5v1.5h-1.5zM1117.4 854.2h1.5v1.5h-1.5zM1075.4 855.7h1.5v1.5h-1.5zM1076.9 855.7h1.5v1.5h-1.5zM1078.4 855.7h1.5v1.5h-1.5zM1099.4 855.7h1.5v1.5h-1.5zM1100.9 855.7h1.5v1.5h-1.5zM1103.9 855.7h1.5v1.5h-1.5zM1069.4 857.2h1.5v1.5h-1.5zM1076.9 857.2h1.5v1.5h-1.5zM1078.4 857.2h1.5v1.5h-1.5zM1079.9 857.2h1.5v1.5h-1.5zM1093.4 857.2h1.5v1.5h-1.5zM1100.9 857.2h1.5v1.5h-1.5zM1105.4 857.2h1.5v1.5h-1.5zM1108.4 857.2h1.5v1.5h-1.5zM1115.9 857.2h1.5v1.5h-1.5zM1079.9 858.7h1.5v1.5h-1.5zM1082.9 858.7h1.5v1.5h-1.5zM1088.9 858.7h1.5v1.5h-1.5zM1090.4 858.7h1.5v1.5h-1.5zM1091.9 858.7h1.5v1.5h-1.5zM1096.4 858.7h1.5v1.5h-1.5zM1100.9 858.7h1.5v1.5h-1.5zM1105.4 858.7h1.5v1.5h-1.5zM1075.4 860.2h1.5v1.5h-1.5zM1087.4 860.2h1.5v1.5h-1.5zM1096.4 860.2h1.5v1.5h-1.5zM1100.9 860.2h1.5v1.5h-1.5zM1105.4 860.2h1.5v1.5h-1.5zM1114.4 860.2h1.5v1.5h-1.5zM1115.9 860.2h1.5v1.5h-1.5zM1084.4 861.7h1.5v1.5h-1.5zM1088.9 861.7h1.5v1.5h-1.5zM1093.4 861.7h1.5v1.5h-1.5zM1096.4 861.7h1.5v1.5h-1.5zM1103.9 861.7h1.5v1.5h-1.5zM1105.4 861.7h1.5v1.5h-1.5zM1109.9 861.7h1.5v1.5h-1.5zM1114.4 861.7h1.5v1.5h-1.5zM1088.9 863.2h1.5v1.5h-1.5zM1096.4 863.2h1.5v1.5h-1.5zM1102.4 863.2h1.5v1.5h-1.5zM1096.4 864.7h1.5v1.5h-1.5zM1102.4 864.7h1.5v1.5h-1.5zM1105.4 864.7h1.5v1.5h-1.5zM1111.4 864.7h1.5v1.5h-1.5zM1097.9 866.2h1.5v1.5h-1.5zM1102.4 866.2h1.5v1.5h-1.5zM1079.9 867.7h1.5v1.5h-1.5zM1084.4 867.7h1.5v1.5h-1.5zM1100.9 867.7h1.5v1.5h-1.5zM1102.4 867.7h1.5v1.5h-1.5zM1079.9 869.2h1.5v1.5h-1.5zM1082.9 869.2h1.5v1.5h-1.5zM1091.9 869.2h1.5v1.5h-1.5zM1096.4 869.2h1.5v1.5h-1.5zM1097.9 869.2h1.5v1.5h-1.5zM1103.9 869.2h1.5v1.5h-1.5zM1105.4 869.2h1.5v1.5h-1.5zM1097.9 870.7h1.5v1.5h-1.5zM1103.9 870.7h1.5v1.5h-1.5zM1106.9 870.7h1.5v1.5h-1.5zM1084.4 872.2h1.5v1.5h-1.5zM1090.4 872.2h1.5v1.5h-1.5zM1097.9 872.2h1.5v1.5h-1.5zM1100.9 872.2h1.5v1.5h-1.5zM1085.9 873.7h1.5v1.5h-1.5zM1093.4 873.7h1.5v1.5h-1.5zM1096.4 873.7h1.5v1.5h-1.5zM1099.4 873.7h1.5v1.5h-1.5zM1100.9 873.7h1.5v1.5h-1.5zM1105.4 873.7h1.5v1.5h-1.5zM1087.4 875.2h1.5v1.5h-1.5zM1090.4 875.2h1.5v1.5h-1.5zM1091.9 875.2h1.5v1.5h-1.5zM1094.9 875.2h1.5v1.5h-1.5zM1097.9 875.2h1.5v1.5h-1.5zM1085.9 876.7h1.5v1.5h-1.5zM1088.9 876.7h1.5v1.5h-1.5zM1090.4 876.7h1.5v1.5h-1.5zM1094.9 876.7h1.5v1.5h-1.5zM1087.4 878.2h1.5v1.5h-1.5zM1090.4 878.2h1.5v1.5h-1.5zM1091.9 878.2h1.5v1.5h-1.5zM1094.9 878.2h1.5v1.5h-1.5zM1097.9 878.2h1.5v1.5h-1.5zM1099.4 878.2h1.5v1.5h-1.5zM1100.9 878.2h1.5v1.5h-1.5zM1094.9 881.2h1.5v1.5h-1.5zM1097.9 881.2h1.5v1.5h-1.5zM1099.4 881.2h1.5v1.5h-1.5zM1093.4 882.7h1.5v1.5h-1.5zM1093.4 884.2h1.5v1.5h-1.5z" fill="#6a6a6a"/>
<path d="M1093.4 755.2h1.5v1.5h-1.5zM1019.9 758.2h1.5v1.5h-1.5zM1114.4 758.2h1.5v1.5h-1.5zM1094.9 761.2h1.5v1.5h-1.5zM1150.4 761.2h1.5v1.5h-1.5zM1144.4 765.7h1.5v1.5h-1.5zM1018.4 767.2h1.5v1.5h-1.5zM1075.4 767.2h1.5v1.5h-1.5zM1084.4 767.2h1.5v1.5h-1.5zM1091.9 768.7h1.5v1.5h-1.5zM1093.4 768.7h1.5v1.5h-1.5zM1064.9 770.2h1.5v1.5h-1.5zM1090.4 771.7h1.5v1.5h-1.5zM1091.9 771.7h1.5v1.5h-1.5zM1093.4 771.7h1.5v1.5h-1.5zM1094.9 773.2h1.5v1.5h-1.5zM1126.4 774.7h1.5v1.5h-1.5zM1076.9 776.2h1.5v1.5h-1.5zM1093.4 776.2h1.5v1.5h-1.5zM1096.4 776.2h1.5v1.5h-1.5zM1097.9 776.2h1.5v1.5h-1.5zM1054.4 777.7h1.5v1.5h-1.5zM1058.9 777.7h1.5v1.5h-1.5zM1102.4 777.7h1.5v1.5h-1.5zM1120.4 777.7h1.5v1.5h-1.5zM1093.4 779.2h1.5v1.5h-1.5zM1087.4 780.7h1.5v1.5h-1.5zM1090.4 780.7h1.5v1.5h-1.5zM1102.4 780.7h1.5v1.5h-1.5zM1061.9 782.2h1.5v1.5h-1.5zM1081.4 782.2h1.5v1.5h-1.5zM1084.4 782.2h1.5v1.5h-1.5zM1087.4 782.2h1.5v1.5h-1.5zM1138.4 782.2h1.5v1.5h-1.5zM1142.9 782.2h1.5v1.5h-1.5zM1052.9 783.7h1.5v1.5h-1.5zM1084.4 783.7h1.5v1.5h-1.5zM1085.9 783.7h1.5v1.5h-1.5zM1099.4 783.7h1.5v1.5h-1.5zM1103.9 783.7h1.5v1.5h-1.5zM1085.9 785.2h1.5v1.5h-1.5zM1102.4 785.2h1.5v1.5h-1.5zM1072.4 786.7h1.5v1.5h-1.5zM1084.4 786.7h1.5v1.5h-1.5zM1100.9 786.7h1.5v1.5h-1.5zM1162.4 786.7h1.5v1.5h-1.5zM1078.4 788.2h1.5v1.5h-1.5zM1097.9 788.2h1.5v1.5h-1.5zM1102.4 788.2h1.5v1.5h-1.5zM1103.9 788.2h1.5v1.5h-1.5zM1109.9 788.2h1.5v1.5h-1.5zM1027.4 789.7h1.5v1.5h-1.5zM1096.4 789.7h1.5v1.5h-1.5zM1108.4 789.7h1.5v1.5h-1.5zM1111.4 789.7h1.5v1.5h-1.5zM1082.9 791.2h1.5v1.5h-1.5zM1084.4 791.2h1.5v1.5h-1.5zM1106.9 791.2h1.5v1.5h-1.5zM1108.4 791.2h1.5v1.5h-1.5zM1114.4 791.2h1.5v1.5h-1.5zM1075.4 792.7h1.5v1.5h-1.5zM1078.4 792.7h1.5v1.5h-1.5zM1114.4 792.7h1.5v1.5h-1.5zM1078.4 794.2h1.5v1.5h-1.5zM1081.4 794.2h1.5v1.5h-1.5zM1088.9 794.2h1.5v1.5h-1.5zM1096.4 794.2h1.5v1.5h-1.5zM1099.4 794.2h1.5v1.5h-1.5zM1049.9 795.7h1.5v1.5h-1.5zM1081.4 795.7h1.5v1.5h-1.5zM1087.4 795.7h1.5v1.5h-1.5zM1103.9 795.7h1.5v1.5h-1.5zM1105.4 795.7h1.5v1.5h-1.5zM1108.4 795.7h1.5v1.5h-1.5zM1111.4 795.7h1.5v1.5h-1.5zM1112.9 795.7h1.5v1.5h-1.5zM1069.4 797.2h1.5v1.5h-1.5zM1070.9 797.2h1.5v1.5h-1.5zM1076.9 797.2h1.5v1.5h-1.5zM1078.4 797.2h1.5v1.5h-1.5zM1100.9 797.2h1.5v1.5h-1.5zM1106.9 797.2h1.5v1.5h-1.5zM1115.9 797.2h1.5v1.5h-1.5zM1042.4 798.7h1.5v1.5h-1.5zM1043.9 798.7h1.5v1.5h-1.5zM1045.4 798.7h1.5v1.5h-1.5zM1073.9 798.7h1.5v1.5h-1.5zM1082.9 798.7h1.5v1.5h-1.5zM1093.4 798.7h1.5v1.5h-1.5zM1096.4 798.7h1.5v1.5h-1.5zM1109.9 798.7h1.5v1.5h-1.5zM1112.9 798.7h1.5v1.5h-1.5zM1114.4 798.7h1.5v1.5h-1.5zM1115.9 798.7h1.5v1.5h-1.5zM1118.9 798.7h1.5v1.5h-1.5zM1144.4 798.7h1.5v1.5h-1.5zM1046.9 800.2h1.5v1.5h-1.5zM1064.9 800.2h1.5v1.5h-1.5zM1069.4 800.2h1.5v1.5h-1.5zM1072.4 800.2h1.5v1.5h-1.5zM1073.9 800.2h1.5v1.5h-1.5zM1082.9 800.2h1.5v1.5h-1.5zM1093.4 800.2h1.5v1.5h-1.5zM1105.4 800.2h1.5v1.5h-1.5zM1118.9 800.2h1.5v1.5h-1.5zM1067.9 801.7h1.5v1.5h-1.5zM1069.4 801.7h1.5v1.5h-1.5zM1070.9 801.7h1.5v1.5h-1.5zM1075.4 801.7h1.5v1.5h-1.5zM1081.4 801.7h1.5v1.5h-1.5zM1118.9 801.7h1.5v1.5h-1.5zM1153.4 801.7h1.5v1.5h-1.5zM1030.4 803.2h1.5v1.5h-1.5zM1081.4 803.2h1.5v1.5h-1.5zM1085.9 803.2h1.5v1.5h-1.5zM1087.4 803.2h1.5v1.5h-1.5zM1093.4 803.2h1.5v1.5h-1.5zM1108.4 803.2h1.5v1.5h-1.5zM1115.9 803.2h1.5v1.5h-1.5zM1061.9 804.7h1.5v1.5h-1.5zM1088.9 804.7h1.5v1.5h-1.5zM1096.4 804.7h1.5v1.5h-1.5zM1114.4 804.7h1.5v1.5h-1.5zM1123.4 804.7h1.5v1.5h-1.5zM1127.9 804.7h1.5v1.5h-1.5zM1073.9 806.2h1.5v1.5h-1.5zM1079.9 806.2h1.5v1.5h-1.5zM1081.4 806.2h1.5v1.5h-1.5zM1097.9 806.2h1.5v1.5h-1.5zM1112.9 806.2h1.5v1.5h-1.5zM1126.4 806.2h1.5v1.5h-1.5zM1163.9 806.2h1.5v1.5h-1.5zM1027.4 807.7h1.5v1.5h-1.5zM1067.9 807.7h1.5v1.5h-1.5zM1081.4 807.7h1.5v1.5h-1.5zM1105.4 807.7h1.5v1.5h-1.5zM1126.4 807.7h1.5v1.5h-1.5zM1129.4 807.7h1.5v1.5h-1.5zM1130.9 807.7h1.5v1.5h-1.5zM1138.4 807.7h1.5v1.5h-1.5zM1027.4 809.2h1.5v1.5h-1.5zM1061.9 809.2h1.5v1.5h-1.5zM1063.4 809.2h1.5v1.5h-1.5zM1067.9 809.2h1.5v1.5h-1.5zM1085.9 809.2h1.5v1.5h-1.5zM1090.4 809.2h1.5v1.5h-1.5zM1093.4 809.2h1.5v1.5h-1.5zM1097.9 809.2h1.5v1.5h-1.5zM1109.9 809.2h1.5v1.5h-1.5zM1121.9 809.2h1.5v1.5h-1.5zM1132.4 809.2h1.5v1.5h-1.5zM1159.4 809.2h1.5v1.5h-1.5zM1069.4 810.7h1.5v1.5h-1.5zM1078.4 810.7h1.5v1.5h-1.5zM1081.4 810.7h1.5v1.5h-1.5zM1091.9 810.7h1.5v1.5h-1.5zM1100.9 810.7h1.5v1.5h-1.5zM1103.9 810.7h1.5v1.5h-1.5zM1123.4 810.7h1.5v1.5h-1.5zM1133.9 810.7h1.5v1.5h-1.5zM1066.4 812.2h1.5v1.5h-1.5zM1099.4 812.2h1.5v1.5h-1.5zM1106.9 812.2h1.5v1.5h-1.5zM1045.4 813.7h1.5v1.5h-1.5zM1054.4 813.7h1.5v1.5h-1.5zM1060.4 813.7h1.5v1.5h-1.5zM1078.4 813.7h1.5v1.5h-1.5zM1129.4 813.7h1.5v1.5h-1.5zM1132.4 813.7h1.5v1.5h-1.5zM1133.9 813.7h1.5v1.5h-1.5zM1147.4 813.7h1.5v1.5h-1.5zM1052.9 815.2h1.5v1.5h-1.5zM1054.4 815.2h1.5v1.5h-1.5zM1057.4 815.2h1.5v1.5h-1.5zM1063.4 815.2h1.5v1.5h-1.5zM1114.4 815.2h1.5v1.5h-1.5zM1135.4 815.2h1.5v1.5h-1.5zM1159.4 815.2h1.5v1.5h-1.5zM1055.9 816.7h1.5v1.5h-1.5zM1100.9 816.7h1.5v1.5h-1.5zM1114.4 816.7h1.5v1.5h-1.5zM1117.4 816.7h1.5v1.5h-1.5zM1129.4 816.7h1.5v1.5h-1.5zM1138.4 816.7h1.5v1.5h-1.5zM1058.9 818.2h1.5v1.5h-1.5zM1088.9 818.2h1.5v1.5h-1.5zM1094.9 818.2h1.5v1.5h-1.5zM1097.9 818.2h1.5v1.5h-1.5zM1127.9 818.2h1.5v1.5h-1.5zM1136.9 818.2h1.5v1.5h-1.5zM1138.4 818.2h1.5v1.5h-1.5zM1139.9 818.2h1.5v1.5h-1.5zM1048.4 819.7h1.5v1.5h-1.5zM1060.4 819.7h1.5v1.5h-1.5zM1061.9 819.7h1.5v1.5h-1.5zM1063.4 819.7h1.5v1.5h-1.5zM1090.4 819.7h1.5v1.5h-1.5zM1109.9 819.7h1.5v1.5h-1.5zM1121.9 819.7h1.5v1.5h-1.5zM1138.4 819.7h1.5v1.5h-1.5zM1052.9 821.2h1.5v1.5h-1.5zM1061.9 821.2h1.5v1.5h-1.5zM1067.9 821.2h1.5v1.5h-1.5zM1075.4 821.2h1.5v1.5h-1.5zM1082.9 821.2h1.5v1.5h-1.5zM1108.4 821.2h1.5v1.5h-1.5zM1132.4 821.2h1.5v1.5h-1.5zM1139.9 821.2h1.5v1.5h-1.5zM1045.4 822.7h1.5v1.5h-1.5zM1046.9 822.7h1.5v1.5h-1.5zM1058.9 822.7h1.5v1.5h-1.5zM1064.9 822.7h1.5v1.5h-1.5zM1073.9 822.7h1.5v1.5h-1.5zM1078.4 822.7h1.5v1.5h-1.5zM1084.4 822.7h1.5v1.5h-1.5zM1085.9 822.7h1.5v1.5h-1.5zM1087.4 822.7h1.5v1.5h-1.5zM1106.9 822.7h1.5v1.5h-1.5zM1112.9 822.7h1.5v1.5h-1.5zM1135.4 822.7h1.5v1.5h-1.5zM1142.9 822.7h1.5v1.5h-1.5zM1145.9 822.7h1.5v1.5h-1.5zM1058.9 824.2h1.5v1.5h-1.5zM1060.4 824.2h1.5v1.5h-1.5zM1063.4 824.2h1.5v1.5h-1.5zM1072.4 824.2h1.5v1.5h-1.5zM1078.4 824.2h1.5v1.5h-1.5zM1081.4 824.2h1.5v1.5h-1.5zM1139.9 824.2h1.5v1.5h-1.5zM1052.9 825.7h1.5v1.5h-1.5zM1070.9 825.7h1.5v1.5h-1.5zM1084.4 825.7h1.5v1.5h-1.5zM1094.9 825.7h1.5v1.5h-1.5zM1096.4 825.7h1.5v1.5h-1.5zM1109.9 825.7h1.5v1.5h-1.5zM1124.9 825.7h1.5v1.5h-1.5zM1144.4 825.7h1.5v1.5h-1.5zM1154.9 825.7h1.5v1.5h-1.5zM1052.9 827.2h1.5v1.5h-1.5zM1063.4 827.2h1.5v1.5h-1.5zM1084.4 827.2h1.5v1.5h-1.5zM1085.9 827.2h1.5v1.5h-1.5zM1090.4 827.2h1.5v1.5h-1.5zM1120.4 827.2h1.5v1.5h-1.5zM1133.9 827.2h1.5v1.5h-1.5zM1142.9 827.2h1.5v1.5h-1.5zM1166.9 827.2h1.5v1.5h-1.5zM1042.4 828.7h1.5v1.5h-1.5zM1051.4 828.7h1.5v1.5h-1.5zM1069.4 828.7h1.5v1.5h-1.5zM1075.4 828.7h1.5v1.5h-1.5zM1123.4 828.7h1.5v1.5h-1.5zM1133.9 828.7h1.5v1.5h-1.5zM1144.4 828.7h1.5v1.5h-1.5zM1064.9 830.2h1.5v1.5h-1.5zM1085.9 830.2h1.5v1.5h-1.5zM1108.4 830.2h1.5v1.5h-1.5zM1121.9 830.2h1.5v1.5h-1.5zM1124.9 830.2h1.5v1.5h-1.5zM1133.9 830.2h1.5v1.5h-1.5zM1135.4 830.2h1.5v1.5h-1.5zM1141.4 830.2h1.5v1.5h-1.5zM1034.9 831.7h1.5v1.5h-1.5zM1040.9 831.7h1.5v1.5h-1.5zM1052.9 831.7h1.5v1.5h-1.5zM1075.4 831.7h1.5v1.5h-1.5zM1112.9 831.7h1.5v1.5h-1.5zM1115.9 831.7h1.5v1.5h-1.5zM1124.9 831.7h1.5v1.5h-1.5zM1130.9 831.7h1.5v1.5h-1.5zM1132.4 831.7h1.5v1.5h-1.5zM1136.9 831.7h1.5v1.5h-1.5zM1138.4 831.7h1.5v1.5h-1.5zM1064.9 833.2h1.5v1.5h-1.5zM1087.4 833.2h1.5v1.5h-1.5zM1115.9 833.2h1.5v1.5h-1.5zM1136.9 833.2h1.5v1.5h-1.5zM1064.9 834.7h1.5v1.5h-1.5zM1093.4 834.7h1.5v1.5h-1.5zM1126.4 834.7h1.5v1.5h-1.5zM1135.4 834.7h1.5v1.5h-1.5zM1046.9 836.2h1.5v1.5h-1.5zM1070.9 836.2h1.5v1.5h-1.5zM1100.9 836.2h1.5v1.5h-1.5zM1103.9 836.2h1.5v1.5h-1.5zM1112.9 836.2h1.5v1.5h-1.5zM1063.4 837.7h1.5v1.5h-1.5zM1066.4 837.7h1.5v1.5h-1.5zM1082.9 837.7h1.5v1.5h-1.5zM1084.4 837.7h1.5v1.5h-1.5zM1127.9 837.7h1.5v1.5h-1.5zM1136.9 837.7h1.5v1.5h-1.5zM1159.4 837.7h1.5v1.5h-1.5zM1162.4 837.7h1.5v1.5h-1.5zM1168.4 837.7h1.5v1.5h-1.5zM1049.9 839.2h1.5v1.5h-1.5zM1055.9 839.2h1.5v1.5h-1.5zM1088.9 839.2h1.5v1.5h-1.5zM1090.4 839.2h1.5v1.5h-1.5zM1093.4 839.2h1.5v1.5h-1.5zM1099.4 839.2h1.5v1.5h-1.5zM1111.4 839.2h1.5v1.5h-1.5zM1024.4 840.7h1.5v1.5h-1.5zM1051.4 840.7h1.5v1.5h-1.5zM1060.4 840.7h1.5v1.5h-1.5zM1067.9 840.7h1.5v1.5h-1.5zM1099.4 840.7h1.5v1.5h-1.5zM1109.9 840.7h1.5v1.5h-1.5zM1127.9 840.7h1.5v1.5h-1.5zM1130.9 840.7h1.5v1.5h-1.5zM1075.4 842.2h1.5v1.5h-1.5zM1081.4 842.2h1.5v1.5h-1.5zM1084.4 842.2h1.5v1.5h-1.5zM1097.9 842.2h1.5v1.5h-1.5zM1099.4 842.2h1.5v1.5h-1.5zM1100.9 842.2h1.5v1.5h-1.5zM1117.4 842.2h1.5v1.5h-1.5zM1055.9 843.7h1.5v1.5h-1.5zM1057.4 843.7h1.5v1.5h-1.5zM1066.4 843.7h1.5v1.5h-1.5zM1070.9 843.7h1.5v1.5h-1.5zM1078.4 843.7h1.5v1.5h-1.5zM1090.4 843.7h1.5v1.5h-1.5zM1096.4 843.7h1.5v1.5h-1.5zM1097.9 843.7h1.5v1.5h-1.5zM1109.9 843.7h1.5v1.5h-1.5zM1117.4 843.7h1.5v1.5h-1.5zM1133.9 843.7h1.5v1.5h-1.5zM1073.9 845.2h1.5v1.5h-1.5zM1088.9 845.2h1.5v1.5h-1.5zM1091.9 845.2h1.5v1.5h-1.5zM1111.4 845.2h1.5v1.5h-1.5zM1121.9 845.2h1.5v1.5h-1.5zM1126.4 845.2h1.5v1.5h-1.5zM1132.4 845.2h1.5v1.5h-1.5zM1028.9 846.7h1.5v1.5h-1.5zM1055.9 846.7h1.5v1.5h-1.5zM1069.4 846.7h1.5v1.5h-1.5zM1084.4 846.7h1.5v1.5h-1.5zM1102.4 846.7h1.5v1.5h-1.5zM1106.9 846.7h1.5v1.5h-1.5zM1130.9 846.7h1.5v1.5h-1.5zM1168.4 846.7h1.5v1.5h-1.5zM1051.4 848.2h1.5v1.5h-1.5zM1064.9 848.2h1.5v1.5h-1.5zM1075.4 848.2h1.5v1.5h-1.5zM1076.9 848.2h1.5v1.5h-1.5zM1093.4 848.2h1.5v1.5h-1.5zM1109.9 848.2h1.5v1.5h-1.5zM1126.4 848.2h1.5v1.5h-1.5zM1129.4 848.2h1.5v1.5h-1.5zM1168.4 848.2h1.5v1.5h-1.5zM1060.4 849.7h1.5v1.5h-1.5zM1096.4 849.7h1.5v1.5h-1.5zM1117.4 849.7h1.5v1.5h-1.5zM1118.9 849.7h1.5v1.5h-1.5zM1121.9 849.7h1.5v1.5h-1.5zM1123.4 849.7h1.5v1.5h-1.5zM1060.4 851.2h1.5v1.5h-1.5zM1063.4 851.2h1.5v1.5h-1.5zM1081.4 851.2h1.5v1.5h-1.5zM1085.9 851.2h1.5v1.5h-1.5zM1115.9 851.2h1.5v1.5h-1.5zM1117.4 851.2h1.5v1.5h-1.5zM1118.9 851.2h1.5v1.5h-1.5zM1121.9 851.2h1.5v1.5h-1.5zM1159.4 851.2h1.5v1.5h-1.5zM1060.4 852.7h1.5v1.5h-1.5zM1061.9 852.7h1.5v1.5h-1.5zM1064.9 852.7h1.5v1.5h-1.5zM1072.4 852.7h1.5v1.5h-1.5zM1075.4 852.7h1.5v1.5h-1.5zM1084.4 852.7h1.5v1.5h-1.5zM1094.9 852.7h1.5v1.5h-1.5zM1103.9 852.7h1.5v1.5h-1.5zM1105.4 852.7h1.5v1.5h-1.5zM1124.9 852.7h1.5v1.5h-1.5zM1085.9 854.2h1.5v1.5h-1.5zM1103.9 854.2h1.5v1.5h-1.5zM1105.4 854.2h1.5v1.5h-1.5zM1114.4 854.2h1.5v1.5h-1.5zM1120.4 854.2h1.5v1.5h-1.5zM1129.4 854.2h1.5v1.5h-1.5zM1025.9 855.7h1.5v1.5h-1.5zM1067.9 855.7h1.5v1.5h-1.5zM1084.4 855.7h1.5v1.5h-1.5zM1087.4 855.7h1.5v1.5h-1.5zM1094.9 855.7h1.5v1.5h-1.5zM1108.4 855.7h1.5v1.5h-1.5zM1112.9 855.7h1.5v1.5h-1.5zM1123.4 855.7h1.5v1.5h-1.5zM1133.9 855.7h1.5v1.5h-1.5zM1066.4 857.2h1.5v1.5h-1.5zM1070.9 857.2h1.5v1.5h-1.5zM1087.4 857.2h1.5v1.5h-1.5zM1096.4 857.2h1.5v1.5h-1.5zM1117.4 857.2h1.5v1.5h-1.5zM1024.4 858.7h1.5v1.5h-1.5zM1033.4 858.7h1.5v1.5h-1.5zM1066.4 858.7h1.5v1.5h-1.5zM1072.4 858.7h1.5v1.5h-1.5zM1087.4 858.7h1.5v1.5h-1.5zM1117.4 858.7h1.5v1.5h-1.5zM1130.9 858.7h1.5v1.5h-1.5zM1033.4 860.2h1.5v1.5h-1.5zM1118.9 860.2h1.5v1.5h-1.5zM1073.9 861.7h1.5v1.5h-1.5zM1091.9 861.7h1.5v1.5h-1.5zM1094.9 861.7h1.5v1.5h-1.5zM1102.4 861.7h1.5v1.5h-1.5zM1106.9 861.7h1.5v1.5h-1.5zM1112.9 861.7h1.5v1.5h-1.5zM1118.9 861.7h1.5v1.5h-1.5zM1120.4 861.7h1.5v1.5h-1.5zM1121.9 861.7h1.5v1.5h-1.5zM1070.9 863.2h1.5v1.5h-1.5zM1090.4 863.2h1.5v1.5h-1.5zM1091.9 863.2h1.5v1.5h-1.5zM1106.9 863.2h1.5v1.5h-1.5zM1061.9 864.7h1.5v1.5h-1.5zM1073.9 864.7h1.5v1.5h-1.5zM1079.9 864.7h1.5v1.5h-1.5zM1091.9 864.7h1.5v1.5h-1.5zM1094.9 864.7h1.5v1.5h-1.5zM1106.9 864.7h1.5v1.5h-1.5zM1109.9 864.7h1.5v1.5h-1.5zM1112.9 864.7h1.5v1.5h-1.5zM1085.9 866.2h1.5v1.5h-1.5zM1091.9 866.2h1.5v1.5h-1.5zM1109.9 866.2h1.5v1.5h-1.5zM1111.4 866.2h1.5v1.5h-1.5zM1114.4 866.2h1.5v1.5h-1.5zM1118.9 866.2h1.5v1.5h-1.5zM1046.9 867.7h1.5v1.5h-1.5zM1090.4 867.7h1.5v1.5h-1.5zM1075.4 869.2h1.5v1.5h-1.5zM1078.4 869.2h1.5v1.5h-1.5zM1081.4 869.2h1.5v1.5h-1.5zM1090.4 869.2h1.5v1.5h-1.5zM1099.4 869.2h1.5v1.5h-1.5zM1108.4 869.2h1.5v1.5h-1.5zM1114.4 869.2h1.5v1.5h-1.5zM1138.4 869.2h1.5v1.5h-1.5zM1040.9 870.7h1.5v1.5h-1.5zM1075.4 870.7h1.5v1.5h-1.5zM1081.4 870.7h1.5v1.5h-1.5zM1084.4 870.7h1.5v1.5h-1.5zM1096.4 870.7h1.5v1.5h-1.5zM1099.4 870.7h1.5v1.5h-1.5zM1102.4 870.7h1.5v1.5h-1.5zM1112.9 870.7h1.5v1.5h-1.5zM1136.9 870.7h1.5v1.5h-1.5zM1166.9 870.7h1.5v1.5h-1.5zM1081.4 872.2h1.5v1.5h-1.5zM1082.9 872.2h1.5v1.5h-1.5zM1106.9 872.2h1.5v1.5h-1.5zM1078.4 873.7h1.5v1.5h-1.5zM1123.4 873.7h1.5v1.5h-1.5zM1168.4 875.2h1.5v1.5h-1.5zM1025.9 876.7h1.5v1.5h-1.5zM1043.9 876.7h1.5v1.5h-1.5zM1084.4 876.7h1.5v1.5h-1.5zM1096.4 876.7h1.5v1.5h-1.5zM1099.4 876.7h1.5v1.5h-1.5zM1100.9 876.7h1.5v1.5h-1.5zM1103.9 876.7h1.5v1.5h-1.5zM1106.9 876.7h1.5v1.5h-1.5zM1108.4 876.7h1.5v1.5h-1.5zM1166.9 876.7h1.5v1.5h-1.5zM1043.9 878.2h1.5v1.5h-1.5zM1088.9 878.2h1.5v1.5h-1.5zM1102.4 878.2h1.5v1.5h-1.5zM1103.9 878.2h1.5v1.5h-1.5zM1118.9 878.2h1.5v1.5h-1.5zM1157.9 878.2h1.5v1.5h-1.5zM1091.9 879.7h1.5v1.5h-1.5zM1097.9 879.7h1.5v1.5h-1.5zM1084.4 881.2h1.5v1.5h-1.5zM1088.9 881.2h1.5v1.5h-1.5zM1138.4 881.2h1.5v1.5h-1.5zM1144.4 881.2h1.5v1.5h-1.5zM1084.4 882.7h1.5v1.5h-1.5zM1088.9 882.7h1.5v1.5h-1.5zM1102.4 882.7h1.5v1.5h-1.5zM1094.9 884.2h1.5v1.5h-1.5zM1097.9 884.2h1.5v1.5h-1.5zM1103.9 884.2h1.5v1.5h-1.5zM1145.9 884.2h1.5v1.5h-1.5zM1163.9 884.2h1.5v1.5h-1.5zM1090.4 885.7h1.5v1.5h-1.5zM1097.9 885.7h1.5v1.5h-1.5zM1099.4 885.7h1.5v1.5h-1.5zM1157.9 885.7h1.5v1.5h-1.5zM1112.9 887.2h1.5v1.5h-1.5zM1135.4 887.2h1.5v1.5h-1.5zM1147.4 887.2h1.5v1.5h-1.5zM1093.4 888.7h1.5v1.5h-1.5zM1094.9 888.7h1.5v1.5h-1.5zM1168.4 888.7h1.5v1.5h-1.5zM1091.9 890.2h1.5v1.5h-1.5zM1094.9 890.2h1.5v1.5h-1.5zM1097.9 890.2h1.5v1.5h-1.5zM1099.4 890.2h1.5v1.5h-1.5zM1127.9 890.2h1.5v1.5h-1.5zM1085.9 891.7h1.5v1.5h-1.5zM1124.9 891.7h1.5v1.5h-1.5zM1163.9 891.7h1.5v1.5h-1.5zM1033.4 893.2h1.5v1.5h-1.5zM1057.4 893.2h1.5v1.5h-1.5zM1094.9 893.2h1.5v1.5h-1.5zM1121.9 893.2h1.5v1.5h-1.5zM1135.4 894.7h1.5v1.5h-1.5zM1162.4 896.2h1.5v1.5h-1.5zM1118.9 897.7h1.5v1.5h-1.5zM1127.9 897.7h1.5v1.5h-1.5zM1129.4 897.7h1.5v1.5h-1.5zM1040.9 900.7h1.5v1.5h-1.5zM1135.4 902.2h1.5v1.5h-1.5zM1142.9 902.2h1.5v1.5h-1.5zM1117.4 903.7h1.5v1.5h-1.5zM1168.4 905.2h1.5v1.5h-1.5zM1145.9 906.7h1.5v1.5h-1.5zM1148.9 906.7h1.5v1.5h-1.5z" fill="#5b3fb0"/>
</g>
<rect x="1028.4" y="893.7" width="26.4" height="5" fill="#fff"/>
<polygon points="1327.5,409.5 1626.4,229.2 1487.0,684.0 1423.6,807.7 1327.5,853.5" fill="#e3f1f1" stroke="none" stroke-width="0"/>
<polygon points="1626.4,229.2 1680.2,134.5 1777.7,134.5 1487.0,684.0" fill="#e3f1f1" stroke="none" stroke-width="0"/>
<polygon points="1680.2,134.5 1714.0,24.0 1778.0,24.0 1778.0,134.5" fill="#e3f1f1" stroke="none" stroke-width="0"/>
<line x1="1626.4" y1="24.0" x2="1626.4" y2="229.2" stroke="#000" stroke-width="1.5"/>
<line x1="1626.4" y1="229.2" x2="1680.2" y2="134.5" stroke="#000" stroke-width="1.5"/>
<line x1="1680.2" y1="134.5" x2="1714.0" y2="24.0" stroke="#000" stroke-width="1.5"/>
<line x1="1680.2" y1="134.5" x2="1778.0" y2="134.5" stroke="#000" stroke-width="1.5"/>
<line x1="1626.4" y1="229.2" x2="1327.5" y2="409.5" stroke="#000" stroke-width="1.5"/>
<line x1="1626.4" y1="229.2" x2="1487.0" y2="684.0" stroke="#000" stroke-width="1.5"/>
<line x1="1777.7" y1="134.5" x2="1423.6" y2="807.7" stroke="#000" stroke-width="1.5"/>
<line x1="1423.6" y1="807.7" x2="1327.5" y2="853.5" stroke="#000" stroke-width="1.5"/>
<line x1="1423.6" y1="807.7" x2="1423.6" y2="907.0" stroke="#000" stroke-width="1.5"/>
<line x1="1327.5" y1="23.5" x2="1327.5" y2="907.8" stroke="#222" stroke-width="1.4"/>
<line x1="1326.8" y1="907.0" x2="1778.0" y2="907.0" stroke="#000" stroke-width="1.6"/>
<line x1="1327.5" y1="24.0" x2="1334.5" y2="24.0" stroke="#222" stroke-width="1.4"/>
<text x="1314.0" y="34.5" font-size="29" text-anchor="end" letter-spacing="0.3" >−1.9</text>
<line x1="1327.5" y1="245.0" x2="1334.5" y2="245.0" stroke="#222" stroke-width="1.4"/>
<text x="1314.0" y="255.5" font-size="29" text-anchor="end" letter-spacing="0.3" >−2.1</text>
<line x1="1327.5" y1="466.0" x2="1334.5" y2="466.0" stroke="#222" stroke-width="1.4"/>
<text x="1314.0" y="476.5" font-size="29" text-anchor="end" letter-spacing="0.3" >−2.3</text>
<line x1="1327.5" y1="687.0" x2="1334.5" y2="687.0" stroke="#222" stroke-width="1.4"/>
<text x="1314.0" y="697.5" font-size="29" text-anchor="end" letter-spacing="0.3" >−2.5</text>
<line x1="1327.5" y1="908.0" x2="1334.5" y2="908.0" stroke="#222" stroke-width="1.4"/>
<text x="1314.0" y="918.5" font-size="29" text-anchor="end" letter-spacing="0.3" >−2.7</text>
<text x="1327.0" y="940.3" font-size="29" text-anchor="middle" letter-spacing="0" >−2.7</text>
<line x1="1455.5" y1="907.0" x2="1455.5" y2="901.0" stroke="#222" stroke-width="1.4"/>
<text x="1455.5" y="940.3" font-size="29" text-anchor="middle" letter-spacing="0" >−2.5</text>
<line x1="1584.0" y1="907.0" x2="1584.0" y2="901.0" stroke="#222" stroke-width="1.4"/>
<text x="1584.0" y="940.3" font-size="29" text-anchor="middle" letter-spacing="0" >−2.3</text>
<line x1="1712.5" y1="907.0" x2="1712.5" y2="901.0" stroke="#222" stroke-width="1.4"/>
<text x="1712.5" y="940.3" font-size="29" text-anchor="middle" letter-spacing="0" >−2.1</text>
<text x="1508" y="977.8" font-size="29"><tspan font-style="italic">μ</tspan><tspan x="1528" y="985.4" font-size="19.5">I</tspan><tspan x="1532" y="975.5" font-size="14">−</tspan><tspan x="1546" y="977.8" letter-spacing="-1.3">(eV)</tspan></text>
<text transform="translate(1229,541.5) rotate(-90)" font-size="29" letter-spacing="0">Δ<tspan font-style="italic">μ</tspan><tspan font-size="20" dy="6">2-NAT</tspan><tspan dy="-6"> (eV)</tspan></text>
<rect x="1644.8" y="53.1" width="34.7" height="34.8" fill="#fff" stroke="#111" stroke-width="1.4"/>
<text x="1662.2" y="80.0" font-size="29" text-anchor="middle" >7</text>
<rect x="1725.6" y="70.2" width="35.1" height="35.0" fill="#fff" stroke="#111" stroke-width="1.4"/>
<text x="1743.2" y="97.2" font-size="29" text-anchor="middle" >5</text>
<rect x="1437.5" y="252.5" width="35.2" height="34.2" fill="#fff" stroke="#111" stroke-width="1.4"/>
<text x="1455.1" y="279.1" font-size="29" text-anchor="middle" >6</text>
<rect x="1623.6" y="283.2" width="34.2" height="34.7" fill="#fff" stroke="#111" stroke-width="1.4"/>
<text x="1640.7" y="310.0" font-size="29" text-anchor="middle" >4</text>
<rect x="1412.6" y="506.1" width="34.2" height="34.6" fill="#fff" stroke="#111" stroke-width="1.4"/>
<text x="1429.7" y="532.9" font-size="29" text-anchor="middle" >3</text>
<rect x="1677.6" y="487.8" width="35.0" height="34.5" fill="#fff" stroke="#111" stroke-width="1.4"/>
<text x="1695.1" y="514.5" font-size="29" text-anchor="middle" >2</text>
<rect x="1358.2" y="855.6" width="35.0" height="34.6" fill="#fff" stroke="#111" stroke-width="1.4"/>
<text x="1375.7" y="882.4" font-size="29" text-anchor="middle" >1</text>
<line x1="1355.0" y1="68.6" x2="1406.3" y2="68.6" stroke="#f5b232" stroke-width="3"/>
<line x1="1355.0" y1="108.0" x2="1406.3" y2="108.0" stroke="#4b3a9c" stroke-width="3"/>
<text x="1419" y="78.5" font-size="29">2-NAT<tspan font-size="20.5" dy="9.3">ads</tspan></text>
<text x="1420" y="118.5" font-size="29">I<tspan font-size="17" dy="-12">−</tspan><tspan font-size="20.5" dx="0.5" dy="20">ads</tspan></text>
<rect x="1353.4" y="135.8" width="52.4" height="17.4" fill="#d8d9d9" stroke="#8c8c8c" stroke-width="1.5"/>
<text x="1380.1" y="189.0" font-size="29" text-anchor="middle" letter-spacing="0" >(111)</text>
<rect x="1429.1" y="135.8" width="52.0" height="17.4" fill="#a0c898" stroke="#8c8c8c" stroke-width="1.5"/>
<text x="1455.6" y="189.0" font-size="29" text-anchor="middle" letter-spacing="0" >(100)</text>
<rect x="1504.8" y="135.8" width="51.8" height="17.4" fill="#3d5c32" stroke="#8c8c8c" stroke-width="1.5"/>
<text x="1531.2" y="189.0" font-size="29" text-anchor="middle" letter-spacing="0" >(110)</text>
<rect x="1556.4" y="575.9" width="210" height="312.2" fill="#fff" stroke="#111" stroke-width="1.4"/>
<rect x="1592.5" y="598.3" width="52.0" height="17.2" fill="#d8d9d9" stroke="#8c8c8c" stroke-width="1.5"/>
<rect x="1649.8" y="598.3" width="51.9" height="17.2" fill="#a0c898" stroke="#8c8c8c" stroke-width="1.5"/>
<rect x="1707" y="598.3" width="52.0" height="17.2" fill="#3d5c32" stroke="#8c8c8c" stroke-width="1.5"/>
<line x1="1592.6" y1="591.1" x2="1610.0" y2="591.1" stroke="#4b3a9c" stroke-width="3"/>
<line x1="1688.4" y1="591.1" x2="1701.7" y2="591.1" stroke="#f5b232" stroke-width="3"/>
<line x1="1707.0" y1="591.1" x2="1733.1" y2="591.1" stroke="#4b3a9c" stroke-width="3"/>
<text x="1572.5" y="616.6" font-size="29" text-anchor="middle" >1</text>
<rect x="1592.5" y="641.2" width="52.0" height="17.2" fill="#d8d9d9" stroke="#8c8c8c" stroke-width="1.5"/>
<rect x="1649.8" y="641.2" width="51.9" height="17.2" fill="#a0c898" stroke="#8c8c8c" stroke-width="1.5"/>
<rect x="1707" y="641.2" width="52.0" height="17.2" fill="#3d5c32" stroke="#8c8c8c" stroke-width="1.5"/>
<line x1="1592.6" y1="634.0" x2="1610.0" y2="634.0" stroke="#4b3a9c" stroke-width="3"/>
<line x1="1649.8" y1="634.0" x2="1672.8" y2="634.0" stroke="#4b3a9c" stroke-width="3"/>
<line x1="1707.0" y1="634.0" x2="1733.1" y2="634.0" stroke="#4b3a9c" stroke-width="3"/>
<text x="1572.5" y="659.5" font-size="29" text-anchor="middle" >2</text>
<rect x="1592.5" y="684.1" width="52.0" height="17.2" fill="#d8d9d9" stroke="#8c8c8c" stroke-width="1.5"/>
<rect x="1649.8" y="684.1" width="51.9" height="17.2" fill="#a0c898" stroke="#8c8c8c" stroke-width="1.5"/>
<rect x="1707" y="684.1" width="52.0" height="17.2" fill="#3d5c32" stroke="#8c8c8c" stroke-width="1.5"/>
<line x1="1592.6" y1="676.9" x2="1610.0" y2="676.9" stroke="#4b3a9c" stroke-width="3"/>
<line x1="1684.3" y1="676.9" x2="1701.7" y2="676.9" stroke="#f5b232" stroke-width="3"/>
<line x1="1733.1" y1="676.9" x2="1758.7" y2="676.9" stroke="#f5b232" stroke-width="3"/>
<text x="1572.5" y="702.4" font-size="29" text-anchor="middle" >3</text>
<rect x="1592.5" y="727.0" width="52.0" height="17.2" fill="#d8d9d9" stroke="#8c8c8c" stroke-width="1.5"/>
<rect x="1649.8" y="727.0" width="51.9" height="17.2" fill="#a0c898" stroke="#8c8c8c" stroke-width="1.5"/>
<rect x="1707" y="727.0" width="52.0" height="17.2" fill="#3d5c32" stroke="#8c8c8c" stroke-width="1.5"/>
<line x1="1592.6" y1="719.8" x2="1610.0" y2="719.8" stroke="#4b3a9c" stroke-width="3"/>
<line x1="1649.8" y1="719.8" x2="1675.9" y2="719.8" stroke="#4b3a9c" stroke-width="3"/>
<line x1="1733.1" y1="719.8" x2="1758.7" y2="719.8" stroke="#f5b232" stroke-width="3"/>
<text x="1572.5" y="745.3" font-size="29" text-anchor="middle" >4</text>
<rect x="1592.5" y="769.9" width="52.0" height="17.2" fill="#d8d9d9" stroke="#8c8c8c" stroke-width="1.5"/>
<rect x="1649.8" y="769.9" width="51.9" height="17.2" fill="#a0c898" stroke="#8c8c8c" stroke-width="1.5"/>
<rect x="1707" y="769.9" width="52.0" height="17.2" fill="#3d5c32" stroke="#8c8c8c" stroke-width="1.5"/>
<line x1="1592.6" y1="762.7" x2="1610.0" y2="762.7" stroke="#4b3a9c" stroke-width="3"/>
<line x1="1649.8" y1="762.7" x2="1663.0" y2="762.7" stroke="#4b3a9c" stroke-width="3"/>
<line x1="1688.4" y1="762.7" x2="1701.7" y2="762.7" stroke="#f5b232" stroke-width="3"/>
<line x1="1733.1" y1="762.7" x2="1758.7" y2="762.7" stroke="#f5b232" stroke-width="3"/>
<text x="1572.5" y="788.2" font-size="29" text-anchor="middle" >5</text>
<rect x="1592.5" y="812.8" width="52.0" height="17.2" fill="#d8d9d9" stroke="#8c8c8c" stroke-width="1.5"/>
<rect x="1649.8" y="812.8" width="51.9" height="17.2" fill="#a0c898" stroke="#8c8c8c" stroke-width="1.5"/>
<rect x="1707" y="812.8" width="52.0" height="17.2" fill="#3d5c32" stroke="#8c8c8c" stroke-width="1.5"/>
<line x1="1626.8" y1="805.6" x2="1644.3" y2="805.6" stroke="#f5b232" stroke-width="3"/>
<line x1="1684.3" y1="805.6" x2="1701.7" y2="805.6" stroke="#f5b232" stroke-width="3"/>
<line x1="1733.1" y1="805.6" x2="1758.7" y2="805.6" stroke="#f5b232" stroke-width="3"/>
<text x="1572.5" y="831.1" font-size="29" text-anchor="middle" >6</text>
<rect x="1592.5" y="855.7" width="52.0" height="17.2" fill="#d8d9d9" stroke="#8c8c8c" stroke-width="1.5"/>
<rect x="1649.8" y="855.7" width="51.9" height="17.2" fill="#a0c898" stroke="#8c8c8c" stroke-width="1.5"/>
<rect x="1707" y="855.7" width="52.0" height="17.2" fill="#3d5c32" stroke="#8c8c8c" stroke-width="1.5"/>
<line x1="1626.8" y1="848.5" x2="1644.3" y2="848.5" stroke="#f5b232" stroke-width="3"/>
<line x1="1649.8" y1="848.5" x2="1663.0" y2="848.5" stroke="#4b3a9c" stroke-width="3"/>
<line x1="1688.4" y1="848.5" x2="1701.7" y2="848.5" stroke="#f5b232" stroke-width="3"/>
<line x1="1733.1" y1="848.5" x2="1758.7" y2="848.5" stroke="#f5b232" stroke-width="3"/>
<text x="1572.5" y="874.0" font-size="29" text-anchor="middle" >7</text>
</svg></body></html>
